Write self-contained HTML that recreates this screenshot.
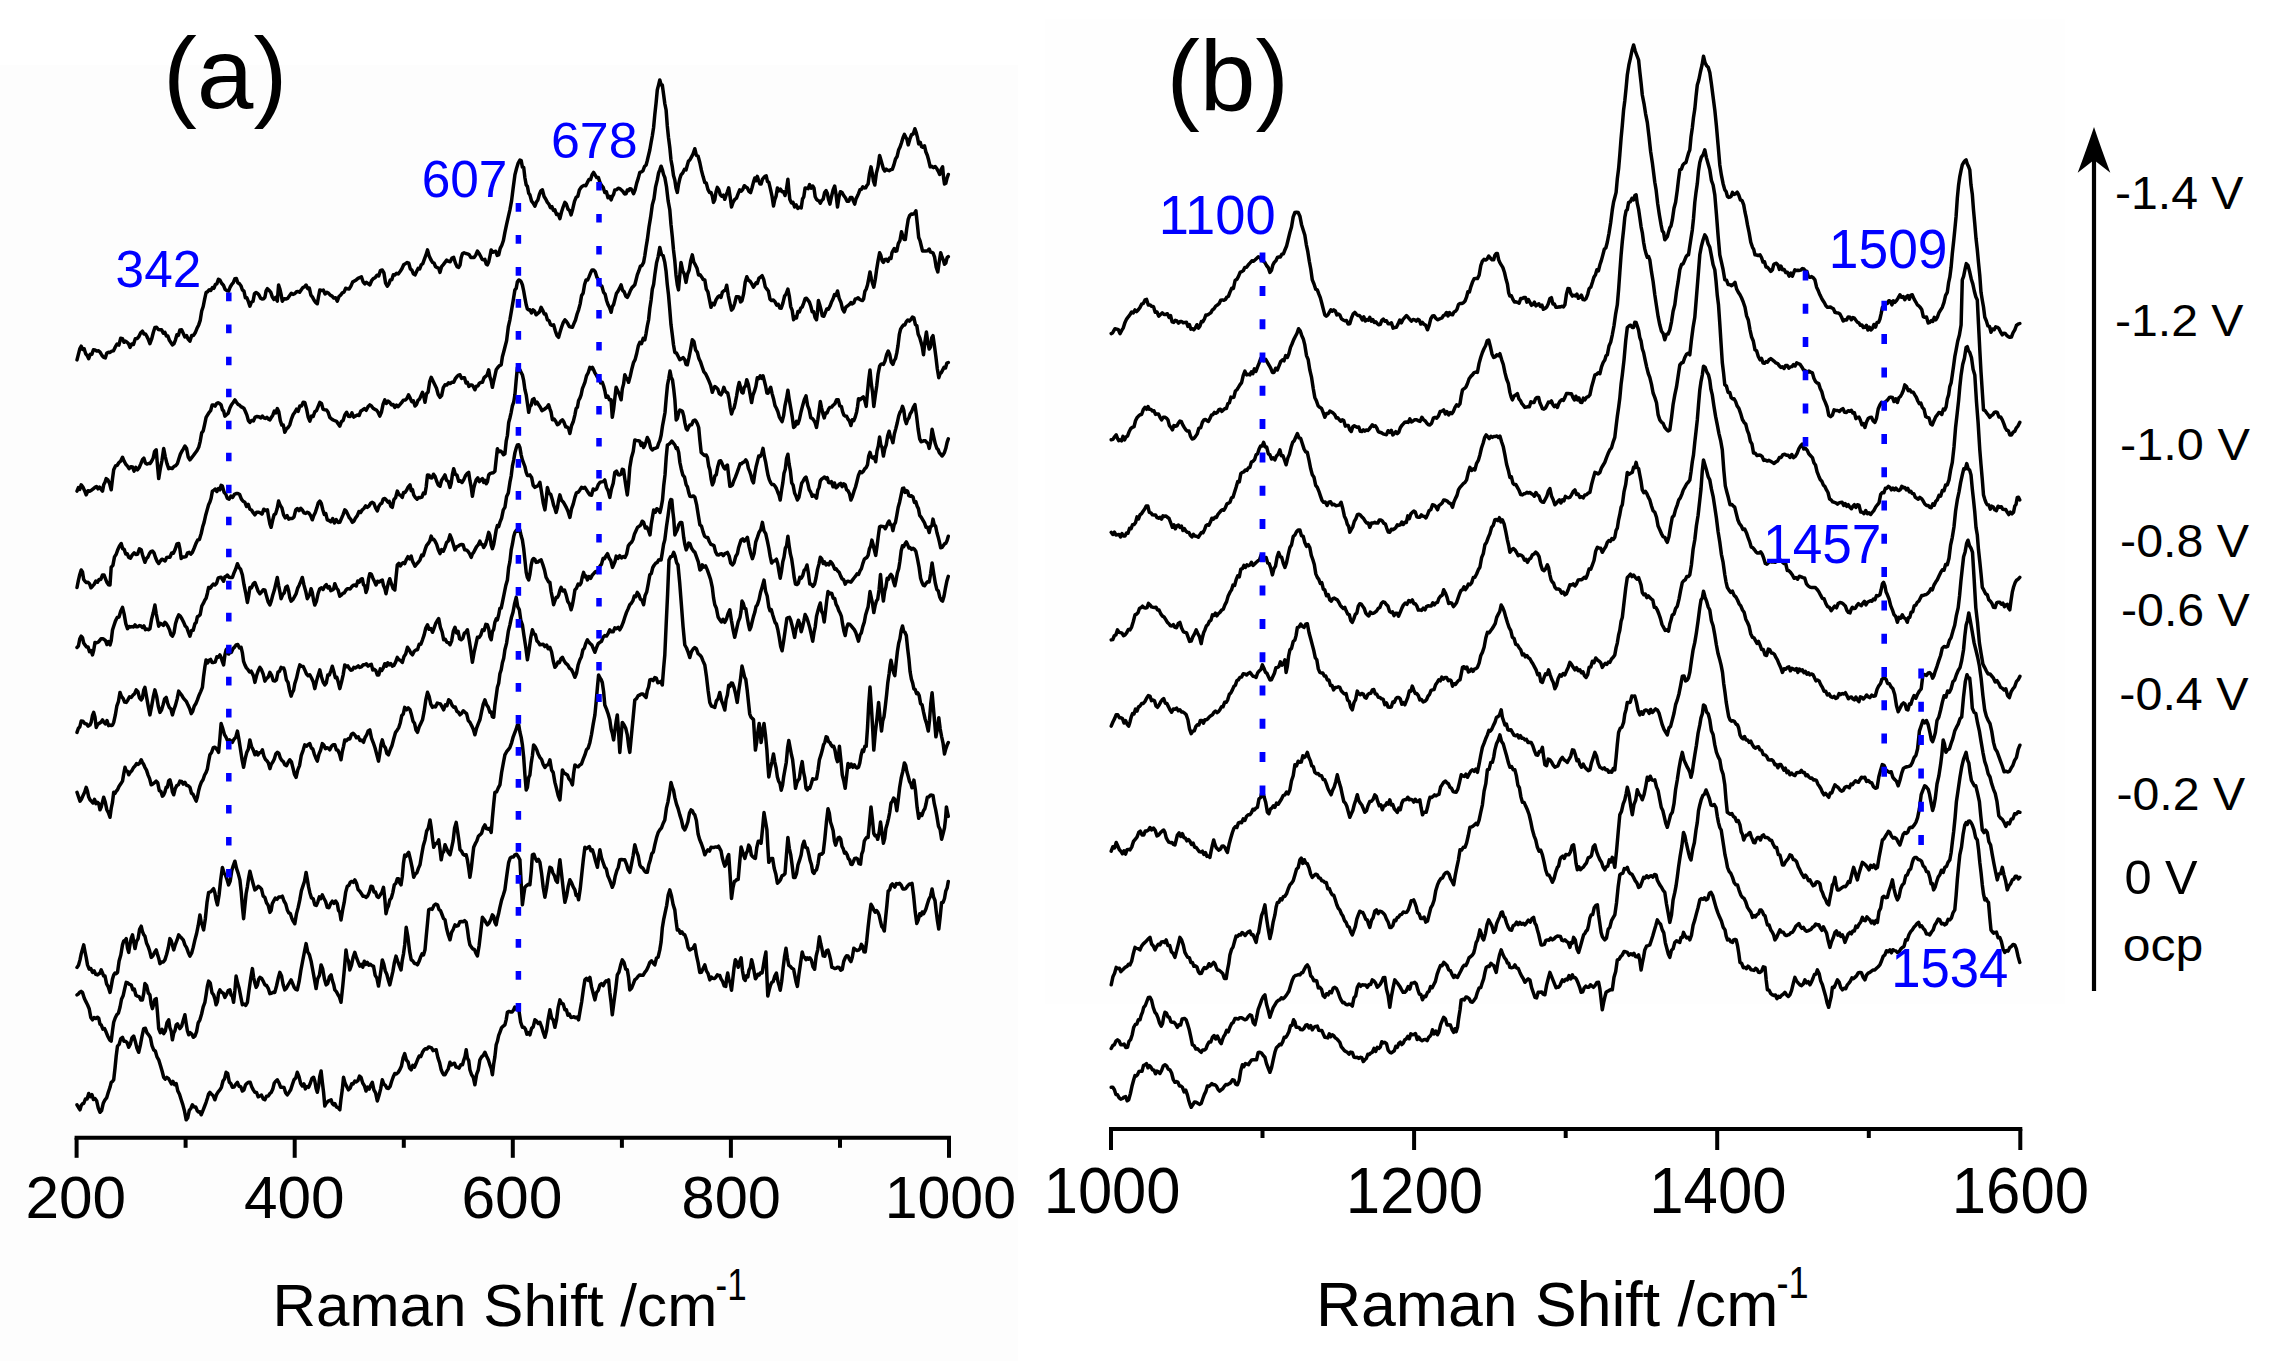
<!DOCTYPE html>
<html><head><meta charset="utf-8"><title>Raman spectra</title>
<style>html,body{margin:0;padding:0;background:#fff;width:2286px;height:1361px;overflow:hidden}svg{display:block}</style>
</head><body>
<svg width="2286" height="1361" viewBox="0 0 2286 1361">
<rect x="0" y="0" width="2286" height="1361" fill="#ffffff"/>
<rect x="0" y="65" width="1018" height="1296" fill="#fdfdfd"/>
<rect x="1045" y="19" width="1020" height="985" fill="#fefefe"/>
<line x1="74.6" y1="1137.8" x2="951" y2="1137.8" stroke="#000" stroke-width="4"/>
<line x1="76.6" y1="1137.8" x2="76.6" y2="1157.8" stroke="#000" stroke-width="4"/>
<line x1="294.7" y1="1137.8" x2="294.7" y2="1157.8" stroke="#000" stroke-width="4"/>
<line x1="512.8" y1="1137.8" x2="512.8" y2="1157.8" stroke="#000" stroke-width="4"/>
<line x1="730.9" y1="1137.8" x2="730.9" y2="1157.8" stroke="#000" stroke-width="4"/>
<line x1="949" y1="1137.8" x2="949" y2="1157.8" stroke="#000" stroke-width="4"/>
<line x1="185.6" y1="1137.8" x2="185.6" y2="1147.8" stroke="#000" stroke-width="4"/>
<line x1="403.8" y1="1137.8" x2="403.8" y2="1147.8" stroke="#000" stroke-width="4"/>
<line x1="621.9" y1="1137.8" x2="621.9" y2="1147.8" stroke="#000" stroke-width="4"/>
<line x1="840" y1="1137.8" x2="840" y2="1147.8" stroke="#000" stroke-width="4"/>
<line x1="1109" y1="1129" x2="2022.3" y2="1129" stroke="#000" stroke-width="4"/>
<line x1="1111" y1="1129" x2="1111" y2="1150" stroke="#000" stroke-width="4"/>
<line x1="1414.1" y1="1129" x2="1414.1" y2="1150" stroke="#000" stroke-width="4"/>
<line x1="1717.2" y1="1129" x2="1717.2" y2="1150" stroke="#000" stroke-width="4"/>
<line x1="2020.3" y1="1129" x2="2020.3" y2="1150" stroke="#000" stroke-width="4"/>
<line x1="1262.5" y1="1129" x2="1262.5" y2="1138" stroke="#000" stroke-width="4"/>
<line x1="1565.7" y1="1129" x2="1565.7" y2="1138" stroke="#000" stroke-width="4"/>
<line x1="1868.8" y1="1129" x2="1868.8" y2="1138" stroke="#000" stroke-width="4"/>
<line x1="2094" y1="155" x2="2094" y2="991" stroke="#000" stroke-width="4.2"/>
<path d="M2094 127 Q2101 148 2110.3 172.8 L2094 160 L2077.7 172.8 Q2087 148 2094 127 Z" fill="#000"/>
<path d="M77.0 359.9 L78.4 354.4 L79.8 348.9 L81.2 346.2 L82.7 349.4 L84.2 348.9 L85.7 353.8 L87.2 355.5 L88.7 358.7 L90.3 354.2 L91.9 354.3 L93.4 349.7 L95.0 349.9 L96.7 351.1 L98.5 350.7 L100.2 352.3 L102.0 355.5 L103.7 357.4 L105.3 357.9 L106.8 353.0 L108.4 352.2 L110.0 352.4 L111.8 351.1 L113.5 350.8 L115.3 346.9 L117.1 344.0 L118.9 345.1 L120.7 338.3 L122.5 338.7 L124.0 342.3 L125.5 341.1 L127.0 342.1 L128.5 343.7 L130.0 347.4 L131.7 344.1 L133.5 344.4 L135.3 338.8 L137.1 338.6 L138.9 336.5 L140.7 332.8 L142.4 331.2 L143.9 333.9 L145.4 333.9 L146.9 336.4 L148.4 339.6 L149.9 343.7 L151.6 339.2 L153.3 332.5 L154.9 327.4 L156.6 327.3 L158.3 329.5 L159.9 329.7 L161.6 329.7 L163.3 333.1 L164.9 332.4 L166.4 336.0 L167.9 336.1 L169.4 340.3 L170.9 342.5 L172.4 344.9 L173.9 343.9 L175.4 340.1 L176.9 334.8 L178.4 335.4 L179.9 329.9 L181.6 329.8 L183.2 333.2 L184.9 336.9 L186.6 335.6 L188.2 339.2 L189.9 341.2 L191.7 335.5 L193.4 335.5 L195.2 332.8 L196.9 328.6 L198.7 324.9 L200.2 320.4 L201.7 311.0 L203.2 306.5 L204.6 299.4 L206.1 292.5 L207.7 291.6 L209.3 289.7 L210.8 290.5 L212.4 287.5 L213.9 288.3 L215.4 284.3 L216.9 283.8 L218.4 279.2 L219.9 280.0 L221.6 283.3 L223.4 285.2 L225.1 289.3 L226.9 290.6 L228.6 291.2 L230.2 287.0 L231.8 284.4 L233.3 282.7 L234.9 278.7 L236.4 278.5 L237.9 283.0 L239.4 283.7 L240.9 285.7 L242.4 290.0 L243.9 290.9 L245.4 297.8 L246.9 297.8 L248.4 301.6 L249.9 306.2 L251.4 302.2 L253.0 301.3 L254.5 293.7 L256.1 292.5 L257.6 293.4 L259.1 295.2 L260.6 298.2 L262.1 299.1 L263.6 298.7 L264.9 297.3 L266.1 290.9 L267.4 288.7 L269.0 290.3 L270.7 292.1 L272.3 296.9 L274.0 299.4 L275.7 297.3 L277.3 301.2 L278.6 285.0 L279.8 288.7 L281.1 294.4 L282.3 301.2 L284.1 298.7 L285.9 299.0 L287.7 298.4 L289.5 295.7 L291.3 293.3 L293.0 294.4 L294.8 293.7 L296.4 291.8 L298.0 291.5 L299.6 292.3 L301.3 289.7 L302.9 287.5 L304.5 286.8 L306.1 285.0 L307.7 288.6 L309.3 288.0 L310.9 295.1 L312.5 297.1 L314.1 300.3 L315.7 302.6 L317.3 303.7 L318.6 296.3 L319.8 290.0 L321.6 290.6 L323.3 290.1 L325.1 294.0 L326.8 292.2 L328.6 293.3 L330.3 295.2 L332.1 296.1 L333.8 298.1 L335.6 297.7 L337.3 301.2 L339.0 296.5 L340.6 295.2 L342.3 292.9 L344.0 292.2 L345.6 288.3 L347.3 288.7 L349.1 289.0 L350.9 286.1 L352.6 282.1 L354.4 281.0 L356.2 279.9 L358.0 278.4 L359.8 277.5 L361.4 276.8 L363.1 281.8 L364.8 283.8 L366.4 282.3 L368.1 283.6 L369.8 285.0 L371.6 280.7 L373.3 278.6 L375.1 277.7 L376.9 275.2 L378.7 276.0 L380.5 270.4 L382.3 270.0 L383.9 272.9 L385.6 283.1 L387.3 286.2 L388.8 284.1 L390.3 279.9 L391.8 279.7 L393.3 274.8 L394.8 275.0 L396.5 273.3 L398.3 273.9 L400.1 271.5 L401.9 268.8 L403.7 264.8 L405.5 263.6 L407.2 262.5 L408.8 263.2 L410.3 268.8 L411.9 270.1 L413.4 273.8 L415.0 274.9 L416.6 271.5 L418.1 268.4 L419.7 269.0 L421.2 264.9 L422.8 263.7 L424.4 259.2 L425.9 255.2 L427.5 249.9 L429.1 255.7 L430.8 259.5 L432.5 262.4 L434.0 263.0 L435.5 266.5 L437.0 267.6 L438.5 267.9 L440.0 272.4 L441.6 266.6 L443.3 264.6 L445.0 262.4 L446.7 260.1 L448.5 261.4 L450.2 261.8 L452.0 258.1 L453.7 257.4 L455.4 263.0 L457.0 266.6 L458.7 267.4 L460.0 265.2 L461.2 257.5 L462.5 253.6 L464.1 252.8 L465.8 253.5 L467.4 253.9 L469.1 254.6 L470.8 257.4 L472.4 257.4 L474.1 257.4 L475.8 255.0 L477.4 251.1 L479.0 253.2 L480.6 256.3 L482.1 259.3 L483.7 259.9 L484.9 259.4 L486.2 264.0 L487.4 264.9 L488.7 262.0 L489.9 256.4 L491.2 249.9 L492.7 252.2 L494.2 251.8 L495.7 251.2 L497.2 255.4 L498.7 254.9 L500.2 248.4 L501.8 245.2 L503.4 240.5 L504.9 232.4 L506.6 224.4 L508.3 216.9 L509.9 209.9 L511.6 200.6 L513.2 187.8 L514.9 174.9 L516.6 168.2 L518.2 163.0 L519.9 160.0 L521.2 160.6 L522.4 167.1 L523.7 167.4 L524.9 177.8 L526.2 184.9 L527.4 186.4 L528.7 193.3 L529.9 194.9 L531.6 201.2 L533.2 203.2 L534.9 206.2 L536.4 202.1 L537.9 199.9 L539.4 194.5 L540.9 190.7 L542.4 189.9 L544.1 196.5 L545.7 199.0 L547.4 202.4 L548.9 204.1 L550.4 207.7 L551.9 206.6 L553.4 210.4 L554.9 209.9 L556.5 214.5 L558.2 214.2 L559.9 218.7 L561.5 212.0 L563.2 206.8 L564.9 202.4 L566.4 204.2 L568.0 209.1 L569.6 210.5 L571.1 214.9 L572.8 208.7 L574.5 201.3 L576.1 197.4 L577.8 196.2 L579.4 190.0 L581.1 187.4 L582.7 186.0 L584.2 185.4 L585.8 185.8 L587.4 182.4 L588.9 179.5 L590.5 179.6 L592.0 175.0 L593.6 172.4 L595.2 175.1 L596.7 177.6 L598.3 177.4 L599.9 182.4 L601.5 185.5 L603.2 187.5 L604.8 192.4 L606.4 191.7 L608.0 197.7 L609.5 196.3 L611.1 199.9 L612.3 196.5 L613.6 194.4 L614.8 189.9 L616.5 189.8 L618.2 188.2 L619.8 188.7 L621.4 190.0 L623.0 191.5 L624.5 193.9 L626.1 193.7 L627.3 190.0 L628.6 190.7 L629.8 188.7 L631.1 189.0 L632.3 190.9 L633.6 193.7 L635.1 189.8 L636.7 183.1 L638.3 178.1 L639.8 172.4 L641.4 171.9 L642.9 170.8 L644.5 166.5 L646.1 165.0 L647.3 160.5 L648.6 155.0 L649.8 150.0 L651.1 142.5 L652.3 136.0 L653.6 127.5 L654.8 114.7 L656.1 102.7 L657.3 90.0 L658.6 84.9 L659.8 80.0 L661.1 84.8 L662.3 85.0 L663.6 94.4 L664.8 103.6 L666.1 110.0 L667.3 126.0 L668.5 137.5 L669.8 147.5 L671.0 160.0 L672.3 166.9 L673.5 175.6 L674.8 179.9 L676.0 188.0 L677.3 192.4 L678.5 184.7 L679.8 178.8 L681.0 174.9 L682.7 173.0 L684.4 169.4 L686.0 169.9 L687.3 165.3 L688.5 161.1 L689.8 160.0 L691.4 157.1 L693.1 153.9 L694.8 148.7 L696.4 155.4 L698.1 156.1 L699.8 162.5 L701.4 170.2 L703.1 176.6 L704.8 182.4 L706.3 183.1 L707.9 189.4 L709.5 192.4 L711.0 192.4 L712.3 196.0 L713.5 202.4 L714.8 199.8 L716.0 191.9 L717.3 187.4 L718.8 189.7 L720.3 194.7 L721.8 196.3 L723.3 195.2 L724.8 199.3 L726.1 195.2 L727.4 191.8 L728.7 187.9 L730.1 196.6 L731.5 207.0 L733.2 202.0 L734.9 199.3 L736.5 198.1 L738.2 193.6 L739.7 189.8 L741.3 191.2 L742.8 189.3 L744.3 185.7 L745.8 186.9 L747.4 187.9 L749.0 191.4 L750.6 192.6 L752.1 187.5 L753.5 182.1 L754.8 178.0 L756.0 180.8 L757.3 176.4 L758.6 180.5 L759.9 184.0 L761.1 184.0 L762.4 179.4 L763.7 177.7 L764.9 176.4 L766.2 175.9 L767.5 181.7 L768.8 182.1 L770.4 188.9 L772.0 196.1 L773.5 206.0 L774.8 199.6 L776.1 196.1 L777.4 187.9 L779.0 190.8 L780.5 189.2 L782.1 191.7 L783.6 191.8 L785.0 195.5 L786.4 189.6 L787.9 179.3 L788.8 189.7 L789.8 199.3 L791.4 202.9 L793.0 202.3 L794.6 207.0 L796.2 204.9 L797.9 208.4 L799.6 207.3 L801.2 207.9 L802.5 199.0 L803.8 196.8 L805.1 187.9 L806.6 188.2 L808.1 188.7 L809.6 184.6 L811.2 188.2 L812.7 186.0 L814.0 188.2 L815.2 196.8 L816.5 199.3 L817.8 200.4 L819.1 201.0 L820.3 203.2 L821.8 200.3 L823.2 199.2 L824.6 192.6 L826.1 190.7 L827.3 193.3 L828.6 199.8 L829.9 204.1 L831.5 196.7 L833.1 190.0 L834.7 186.0 L836.1 194.7 L837.5 207.0 L839.0 197.0 L840.4 191.7 L842.1 192.5 L843.7 195.5 L845.4 197.8 L847.1 201.2 L848.7 201.3 L850.3 197.6 L851.9 197.4 L853.3 200.8 L854.7 204.1 L856.0 198.9 L857.3 196.3 L858.5 193.6 L860.0 189.7 L861.4 189.4 L862.8 186.8 L864.3 187.9 L865.6 187.8 L866.8 185.6 L868.1 184.0 L869.5 173.8 L871.0 166.9 L872.2 172.8 L873.5 181.2 L874.8 185.0 L876.4 173.1 L878.0 166.9 L879.6 155.4 L880.8 159.5 L882.1 164.3 L883.4 168.8 L884.8 171.0 L886.2 169.2 L887.7 170.2 L889.1 170.7 L890.7 169.7 L892.3 169.4 L893.9 164.9 L895.5 159.0 L897.1 156.5 L898.7 149.7 L900.1 146.9 L901.5 142.7 L903.0 137.7 L904.4 134.4 L905.7 137.1 L906.9 139.1 L908.2 144.9 L909.9 138.9 L911.6 134.5 L913.2 134.0 L914.9 128.7 L916.2 132.5 L917.4 137.1 L918.7 143.9 L920.2 142.3 L921.6 146.7 L923.0 147.3 L924.5 145.8 L925.9 152.0 L927.3 155.2 L928.7 160.3 L930.2 166.9 L931.9 166.3 L933.5 167.6 L935.2 166.5 L936.9 168.8 L938.3 171.4 L939.7 174.5 L941.2 169.4 L942.6 166.9 L943.6 177.9 L944.5 184.0 L945.8 183.3 L947.1 177.9 L948.3 174.5" fill="none" stroke="#000" stroke-width="3.5" stroke-linejoin="round" stroke-linecap="round"/>
<path d="M77.0 491.1 L78.4 487.6 L79.8 489.3 L81.2 484.8 L82.9 487.1 L84.6 490.7 L86.2 494.8 L88.0 490.7 L89.7 491.2 L91.5 490.2 L93.2 488.8 L95.0 487.3 L96.5 486.5 L98.0 488.8 L99.5 487.0 L101.0 489.1 L102.5 491.1 L103.7 484.8 L105.0 482.2 L106.2 478.6 L107.9 479.9 L109.6 483.6 L111.2 489.8 L112.5 478.8 L113.7 469.8 L115.5 465.9 L117.2 465.3 L119.0 462.5 L120.7 461.1 L122.5 457.3 L124.1 461.1 L125.8 464.3 L127.5 466.1 L129.1 468.7 L130.8 466.7 L132.5 467.0 L134.1 471.1 L135.8 467.4 L137.4 469.8 L139.1 467.7 L140.8 463.9 L142.4 459.8 L143.9 458.2 L145.4 463.1 L146.9 464.1 L148.4 463.5 L149.9 463.6 L151.5 461.4 L153.1 458.3 L154.6 451.4 L156.2 449.8 L157.4 464.3 L158.7 478.6 L160.3 468.6 L162.0 460.3 L163.7 448.6 L165.3 456.8 L167.0 463.6 L168.7 468.6 L170.4 468.0 L172.2 468.6 L173.9 466.5 L175.7 465.6 L177.4 463.6 L178.9 458.7 L180.4 454.1 L181.9 451.2 L183.4 448.9 L184.9 446.1 L186.6 448.6 L188.2 457.0 L189.9 459.8 L191.7 457.6 L193.4 455.5 L195.2 453.0 L196.9 450.8 L198.7 447.3 L200.2 441.3 L201.7 432.8 L203.2 430.9 L204.6 424.6 L206.1 417.4 L207.6 414.9 L209.1 412.5 L210.6 410.7 L212.1 405.1 L213.6 404.9 L215.1 406.1 L216.6 403.6 L218.1 402.7 L219.6 403.6 L221.1 404.9 L222.4 409.8 L223.6 410.8 L224.9 416.1 L226.5 414.7 L228.2 413.2 L229.9 408.0 L231.5 404.7 L233.2 402.5 L234.9 399.9 L236.4 402.3 L237.9 404.3 L239.4 405.0 L240.9 406.6 L242.4 407.4 L243.9 408.2 L245.4 411.5 L246.9 415.1 L248.4 420.6 L249.9 422.4 L251.6 420.4 L253.4 420.9 L255.2 417.1 L257.0 416.5 L258.8 416.7 L260.6 417.9 L262.4 416.1 L263.9 417.9 L265.4 418.5 L266.9 417.3 L268.4 419.2 L269.9 419.9 L271.3 417.4 L272.8 415.2 L274.3 411.1 L275.8 412.9 L277.3 408.6 L278.8 411.8 L280.3 420.6 L281.8 425.1 L283.3 425.1 L284.8 432.3 L286.5 428.8 L288.2 427.4 L289.8 424.8 L291.5 418.8 L293.2 414.5 L294.8 412.4 L296.5 409.2 L298.2 411.3 L299.8 405.9 L301.5 406.1 L303.2 402.2 L304.8 402.4 L306.5 408.7 L308.2 417.2 L309.8 421.1 L311.5 416.1 L313.2 416.5 L314.8 411.8 L316.5 410.6 L318.1 406.6 L319.8 402.4 L321.5 403.5 L323.1 409.4 L324.8 409.8 L326.5 409.9 L328.1 412.3 L329.8 417.4 L331.5 418.8 L333.1 420.0 L334.8 420.7 L336.5 421.3 L338.1 423.8 L339.8 426.1 L341.5 421.4 L343.1 420.4 L344.8 414.9 L346.6 412.3 L348.4 416.2 L350.1 416.6 L351.9 412.9 L353.7 417.1 L355.5 416.0 L357.3 414.9 L359.1 415.5 L360.9 410.9 L362.6 409.9 L364.4 408.6 L366.2 410.3 L368.0 406.8 L369.8 404.9 L371.4 406.0 L373.1 408.2 L374.8 409.3 L376.4 410.0 L378.1 412.2 L379.8 416.1 L381.4 412.4 L383.1 404.2 L384.8 399.9 L386.4 403.4 L388.1 401.1 L389.8 402.4 L391.4 404.9 L393.1 404.5 L394.8 407.4 L396.5 405.1 L398.2 406.6 L399.9 404.7 L401.6 402.7 L403.3 400.2 L405.1 400.1 L406.8 398.7 L408.5 394.9 L410.1 397.9 L411.7 401.6 L413.4 400.9 L415.0 406.0 L416.5 404.5 L418.0 400.3 L419.5 399.1 L421.0 395.8 L422.5 392.3 L423.7 396.2 L425.0 402.3 L426.5 393.7 L428.1 392.0 L429.7 381.6 L431.2 377.3 L433.0 381.1 L434.7 384.5 L436.5 388.2 L438.2 394.5 L440.0 397.3 L441.6 395.6 L443.3 387.7 L445.0 384.8 L446.7 385.1 L448.5 382.8 L450.2 383.6 L452.0 382.2 L453.7 382.3 L455.3 378.7 L456.8 376.8 L458.4 375.1 L460.0 374.8 L461.5 378.4 L463.0 377.8 L464.5 377.8 L466.0 382.9 L467.4 382.3 L468.9 386.4 L470.4 385.0 L471.9 384.9 L473.4 386.7 L474.9 389.8 L476.4 386.2 L477.9 386.0 L479.4 383.2 L480.9 382.4 L482.4 382.3 L484.0 377.9 L485.6 376.4 L487.1 374.9 L488.7 369.8 L489.9 376.9 L491.2 381.0 L492.4 387.3 L493.7 381.0 L494.9 375.8 L496.2 369.8 L497.8 367.5 L499.5 365.6 L501.2 364.8 L502.4 356.7 L503.7 352.0 L504.9 347.3 L506.6 340.6 L508.3 327.0 L509.9 319.8 L511.6 309.9 L513.2 300.5 L514.9 289.9 L516.2 288.4 L517.4 281.7 L518.7 279.9 L519.9 280.3 L521.2 281.9 L522.4 284.9 L523.7 291.0 L524.9 297.9 L526.2 304.8 L527.4 308.9 L528.7 310.0 L529.9 309.8 L531.5 313.0 L533.0 309.9 L534.6 311.2 L536.1 314.8 L537.8 313.4 L539.5 311.9 L541.1 307.3 L542.7 310.3 L544.3 314.0 L545.8 314.1 L547.4 319.8 L549.0 320.5 L550.5 324.6 L552.1 325.3 L553.6 324.8 L555.3 330.8 L557.0 335.6 L558.6 337.3 L560.2 331.6 L561.8 326.5 L563.3 322.4 L564.9 319.8 L566.4 321.5 L567.9 323.8 L569.4 326.6 L570.9 327.0 L572.4 327.3 L573.9 323.7 L575.5 320.0 L577.1 314.0 L578.6 309.8 L580.1 304.1 L581.6 295.5 L583.1 293.3 L584.6 284.5 L586.1 279.9 L587.6 280.1 L589.1 276.6 L590.6 272.8 L592.1 269.9 L593.6 269.9 L595.3 271.9 L596.9 277.2 L598.6 279.9 L600.3 285.1 L601.9 286.2 L603.6 292.4 L605.1 294.1 L606.6 300.5 L608.1 304.8 L609.6 307.8 L611.1 312.3 L612.3 306.7 L613.6 304.5 L614.8 299.9 L616.4 293.6 L618.0 291.3 L619.5 288.4 L621.1 284.9 L622.6 290.4 L624.2 291.9 L625.8 296.2 L627.3 297.4 L628.9 294.4 L630.5 290.4 L632.0 287.6 L633.6 286.1 L634.8 284.8 L636.1 279.7 L637.3 274.9 L638.9 270.7 L640.4 266.1 L642.0 265.5 L643.6 262.4 L644.8 255.8 L646.1 247.0 L647.3 239.9 L649.0 227.0 L650.6 217.4 L652.3 204.9 L654.0 198.8 L655.6 186.8 L657.3 179.9 L658.6 172.9 L659.8 169.9 L661.1 166.2 L662.3 169.5 L663.6 174.6 L664.8 177.4 L666.5 186.7 L668.1 200.6 L669.8 209.9 L671.0 224.5 L672.3 236.6 L673.5 249.9 L674.8 260.8 L676.0 274.9 L677.3 284.8 L678.5 289.9 L679.8 275.1 L681.0 262.4 L682.7 270.7 L684.4 274.3 L686.0 282.4 L687.6 274.0 L689.2 270.0 L690.7 260.7 L692.3 254.9 L693.8 262.2 L695.4 264.9 L697.0 268.2 L698.5 274.9 L700.1 274.7 L701.6 276.9 L703.2 279.5 L704.8 279.9 L706.3 289.1 L707.9 291.8 L709.5 299.9 L711.0 307.3 L712.7 303.4 L714.3 304.8 L716.0 299.9 L717.7 297.2 L719.3 295.9 L721.0 297.4 L722.4 292.0 L723.9 290.8 L725.3 290.4 L726.7 285.3 L728.3 295.6 L729.9 303.1 L731.5 310.1 L733.1 308.3 L734.7 303.5 L736.3 296.8 L737.7 296.8 L739.2 297.0 L740.6 301.9 L742.0 300.6 L743.6 293.9 L745.2 282.2 L746.8 276.7 L748.5 280.2 L750.1 281.3 L751.8 283.9 L753.5 287.2 L754.8 285.1 L756.0 282.9 L757.3 283.4 L758.9 278.2 L760.5 277.1 L762.1 275.7 L763.7 279.4 L765.3 287.0 L766.9 289.1 L768.4 291.0 L770.0 299.2 L771.6 300.6 L773.3 300.0 L775.0 301.7 L776.6 305.1 L778.3 304.4 L779.8 308.0 L781.2 308.2 L782.9 303.1 L784.5 296.3 L786.2 293.7 L787.9 289.1 L789.3 296.1 L790.7 306.6 L792.2 310.4 L793.6 319.7 L795.0 317.1 L796.5 317.9 L797.9 311.5 L799.3 312.0 L800.8 308.2 L802.2 307.0 L803.6 303.4 L805.1 298.7 L806.5 298.2 L807.9 300.1 L809.4 302.1 L810.8 306.3 L812.2 311.8 L813.7 311.7 L815.1 317.6 L816.5 319.7 L817.5 312.2 L818.4 300.6 L819.7 304.8 L821.0 309.6 L822.3 315.9 L823.8 316.3 L825.3 312.6 L826.8 308.9 L828.4 309.3 L829.9 306.3 L831.4 302.3 L833.0 299.0 L834.5 294.6 L836.0 295.4 L837.5 291.0 L839.2 298.4 L840.9 302.2 L842.6 309.1 L844.2 312.0 L845.9 307.2 L847.6 305.9 L849.2 304.7 L850.9 302.5 L852.3 303.9 L853.8 302.9 L855.2 299.0 L856.6 298.7 L858.1 297.8 L859.5 299.3 L860.9 300.1 L862.4 300.6 L863.6 299.0 L864.9 291.3 L866.2 289.1 L867.5 285.0 L868.7 278.9 L870.0 271.9 L871.3 278.7 L872.6 283.5 L873.8 287.2 L875.3 279.2 L876.7 269.1 L878.1 260.5 L879.6 252.8 L880.8 255.3 L882.1 260.7 L883.4 262.4 L884.9 259.4 L886.4 259.3 L888.0 261.4 L889.5 258.0 L891.0 258.5 L892.0 252.5 L892.9 250.9 L894.2 248.5 L895.5 251.2 L896.8 250.9 L898.3 243.6 L899.9 240.7 L901.5 231.8 L902.8 236.3 L904.1 239.4 L905.3 239.4 L906.8 228.2 L908.2 219.4 L909.7 215.5 L911.3 213.9 L912.8 214.2 L914.3 213.6 L915.9 210.8 L917.3 223.9 L918.7 237.5 L920.0 240.6 L921.3 246.0 L922.5 250.9 L924.2 251.1 L925.9 250.9 L927.6 250.8 L929.2 249.0 L930.5 252.1 L931.8 252.4 L933.0 252.8 L934.6 257.2 L936.2 267.3 L937.8 271.9 L939.3 261.3 L940.7 252.8 L942.0 257.0 L943.2 259.8 L944.5 264.3 L945.8 263.0 L947.1 257.6 L948.3 256.6" fill="none" stroke="#000" stroke-width="3.5" stroke-linejoin="round" stroke-linecap="round"/>
<path d="M77.0 587.5 L78.4 580.3 L79.8 574.5 L81.2 570.0 L82.5 571.9 L83.7 579.5 L85.0 581.2 L86.5 582.6 L88.0 582.3 L89.5 583.7 L91.0 587.8 L92.5 586.2 L94.1 584.4 L95.8 581.1 L97.5 582.2 L99.1 579.5 L100.8 579.4 L102.5 575.0 L104.0 574.9 L105.5 578.8 L107.0 582.6 L108.5 584.7 L110.0 585.0 L111.2 567.2 L112.9 565.4 L114.5 556.9 L116.2 554.3 L117.9 549.4 L119.5 545.9 L121.2 543.5 L122.7 548.7 L124.2 549.4 L125.7 554.0 L127.2 553.8 L128.7 557.3 L130.5 558.1 L132.3 554.8 L134.1 552.8 L135.8 554.4 L137.6 554.2 L139.4 548.8 L141.2 549.8 L142.4 554.4 L143.7 558.7 L144.9 562.3 L146.4 558.5 L147.9 557.1 L149.4 553.6 L150.9 551.7 L152.4 551.0 L154.0 552.9 L155.6 557.8 L157.1 561.2 L158.7 563.5 L160.3 561.1 L161.9 559.2 L163.5 559.9 L165.1 560.9 L166.7 557.4 L168.3 557.2 L169.9 557.3 L171.7 553.0 L173.4 553.3 L175.2 549.3 L176.9 544.0 L178.7 543.5 L179.9 548.9 L181.2 558.5 L182.8 557.1 L184.4 557.0 L186.0 556.6 L187.6 552.8 L189.2 552.3 L190.8 554.2 L192.4 552.3 L194.2 548.0 L195.9 543.6 L197.7 540.0 L199.4 539.6 L201.2 533.5 L202.7 526.8 L204.1 522.4 L205.6 515.5 L207.1 510.1 L208.6 504.8 L209.9 502.1 L211.1 498.2 L212.4 491.1 L213.9 490.1 L215.4 489.0 L216.9 491.5 L218.4 488.5 L219.9 489.8 L221.1 485.4 L222.4 486.1 L224.1 492.3 L225.7 494.0 L227.4 498.5 L229.1 499.2 L230.9 496.1 L232.6 497.5 L234.4 494.3 L236.1 493.6 L237.9 493.5 L239.6 494.5 L241.4 499.1 L243.1 501.3 L244.9 502.3 L246.5 506.5 L248.2 504.3 L249.9 509.2 L251.5 510.0 L253.2 512.7 L254.9 514.8 L256.6 512.2 L258.4 512.2 L260.2 512.8 L262.0 514.1 L263.8 509.2 L265.6 510.5 L267.4 509.8 L268.6 517.2 L269.9 523.9 L271.1 527.3 L272.6 520.5 L274.1 514.8 L275.6 513.8 L277.1 508.8 L278.6 501.0 L280.3 505.5 L281.9 507.9 L283.6 514.8 L285.3 517.8 L287.1 515.7 L288.8 519.1 L290.6 518.4 L292.3 518.5 L294.0 516.9 L295.7 510.1 L297.3 508.5 L299.0 510.7 L300.7 508.3 L302.3 509.9 L304.0 512.8 L305.7 513.4 L307.3 512.3 L309.0 513.1 L310.7 515.8 L312.3 519.8 L313.8 515.5 L315.3 512.4 L316.8 507.9 L318.3 502.8 L319.8 501.0 L321.3 503.5 L322.8 509.7 L324.3 514.4 L325.8 513.6 L327.3 519.8 L329.1 520.5 L330.9 521.8 L332.7 518.5 L334.4 523.0 L336.2 519.6 L338.0 522.4 L339.8 522.3 L341.5 518.4 L343.1 514.6 L344.8 509.8 L346.3 511.3 L347.8 514.4 L349.3 517.7 L350.8 519.4 L352.3 522.3 L354.0 521.0 L355.6 517.8 L357.3 515.7 L358.9 511.5 L360.6 512.5 L362.3 509.8 L363.9 508.5 L365.6 505.9 L367.3 507.4 L368.9 506.2 L370.6 503.3 L372.3 502.3 L373.9 503.5 L375.6 508.0 L377.3 511.0 L378.8 506.5 L380.3 504.1 L381.8 503.2 L383.3 498.9 L384.8 498.5 L386.3 500.0 L387.8 502.1 L389.3 501.4 L390.8 506.3 L392.3 507.3 L393.9 499.7 L395.6 497.7 L397.3 491.1 L398.9 494.6 L400.6 495.3 L402.3 497.3 L403.6 492.5 L405.0 492.4 L406.7 490.0 L408.3 486.8 L410.0 484.9 L411.2 490.6 L412.5 489.7 L413.7 494.9 L415.4 497.6 L417.1 499.2 L418.7 497.4 L420.3 497.7 L421.9 497.2 L423.4 493.0 L425.0 493.7 L426.2 486.8 L427.5 474.9 L429.0 475.2 L430.5 477.8 L432.0 477.9 L433.5 474.2 L435.0 476.2 L436.6 481.0 L438.3 485.1 L440.0 486.2 L441.6 480.2 L443.3 477.9 L445.0 474.9 L446.6 480.4 L448.3 481.5 L450.0 487.4 L451.2 483.3 L452.5 473.8 L453.7 468.7 L455.4 474.5 L457.0 475.2 L458.7 481.2 L460.4 480.8 L462.0 482.5 L463.7 479.9 L465.4 475.9 L467.0 473.7 L468.7 472.4 L469.9 480.4 L471.2 487.3 L472.4 496.2 L473.7 488.4 L474.9 483.7 L476.2 479.9 L477.8 477.9 L479.3 481.6 L480.9 479.9 L482.4 478.7 L483.7 482.4 L484.9 480.3 L486.2 483.7 L487.4 481.8 L488.7 475.0 L489.9 473.7 L491.6 473.0 L493.3 472.7 L494.9 471.2 L496.2 459.2 L497.4 448.7 L498.9 451.7 L500.4 451.0 L501.9 452.1 L503.4 454.7 L504.9 453.7 L506.2 441.2 L507.4 435.5 L508.7 422.5 L509.9 418.0 L511.2 412.3 L512.4 405.9 L513.7 402.2 L514.9 394.8 L516.2 379.8 L517.4 367.3 L518.7 371.1 L519.9 369.8 L521.2 372.7 L522.4 374.8 L523.7 380.7 L524.9 389.5 L526.2 394.8 L527.4 403.2 L528.7 412.3 L529.9 406.4 L531.2 405.2 L532.4 399.8 L534.0 398.7 L535.5 403.9 L537.1 402.2 L538.6 404.8 L540.3 407.2 L542.0 410.6 L543.6 409.8 L545.3 408.5 L547.0 407.3 L548.6 404.8 L549.9 408.8 L551.1 412.2 L552.4 419.8 L554.1 419.0 L555.7 421.3 L557.4 424.8 L559.0 423.7 L560.7 421.1 L562.4 419.8 L564.0 422.3 L565.7 426.8 L567.4 427.3 L568.6 428.5 L569.9 433.5 L571.5 425.8 L573.2 421.8 L574.9 414.8 L576.1 408.5 L577.4 407.3 L578.6 400.5 L579.9 398.2 L581.1 394.8 L582.4 388.6 L583.6 385.7 L584.9 382.3 L586.5 375.9 L588.2 372.7 L589.9 367.3 L591.1 368.6 L592.4 367.4 L593.6 369.8 L594.9 372.9 L596.1 374.7 L597.4 377.3 L599.0 377.1 L600.7 382.9 L602.3 382.3 L603.6 386.0 L604.8 390.5 L606.1 397.3 L607.8 396.0 L609.4 399.7 L611.1 399.8 L612.3 417.3 L613.6 409.2 L614.8 398.7 L616.1 387.3 L617.8 390.9 L619.4 394.4 L621.1 399.8 L622.3 388.9 L623.6 383.9 L624.8 374.8 L626.1 377.6 L627.3 379.0 L628.6 382.3 L630.2 376.4 L631.9 368.7 L633.6 362.3 L635.1 359.6 L636.7 353.5 L638.3 346.0 L639.8 342.3 L641.5 343.6 L643.2 338.3 L644.8 339.8 L646.1 333.3 L647.3 326.0 L648.6 319.8 L649.8 308.5 L651.1 299.9 L652.3 289.2 L653.6 284.6 L654.8 274.9 L656.5 263.2 L658.1 256.8 L659.8 247.4 L661.5 254.7 L663.1 255.5 L664.8 262.4 L666.1 271.6 L667.3 284.6 L668.5 294.9 L669.8 309.9 L671.0 324.8 L672.3 334.7 L673.5 344.8 L674.8 352.3 L676.5 353.1 L678.1 356.3 L679.8 359.8 L681.5 358.8 L683.1 357.5 L684.8 359.8 L686.0 364.3 L687.3 364.8 L688.9 357.9 L690.6 349.3 L692.3 339.8 L693.9 341.4 L695.6 349.9 L697.3 352.3 L698.9 358.6 L700.6 362.1 L702.3 367.3 L703.9 371.9 L705.6 373.7 L707.3 377.3 L708.9 380.9 L710.6 385.2 L712.3 392.3 L713.5 389.2 L714.8 386.6 L716.0 387.3 L717.7 388.9 L719.3 393.6 L721.0 394.8 L722.4 392.1 L723.9 387.3 L725.2 391.0 L726.4 392.2 L727.7 393.0 L729.0 398.8 L730.2 407.3 L731.5 414.0 L732.8 409.9 L734.1 407.9 L735.3 402.6 L736.6 396.0 L737.9 388.0 L739.2 382.5 L740.4 386.8 L741.7 392.0 L743.0 393.0 L744.3 387.1 L745.5 386.1 L746.8 379.7 L748.4 384.8 L750.0 393.7 L751.6 402.6 L753.0 395.0 L754.4 391.4 L755.9 386.3 L757.3 377.8 L758.7 378.6 L760.2 375.9 L761.6 378.3 L763.0 375.8 L764.3 380.7 L765.6 386.0 L766.9 393.0 L768.1 393.2 L769.4 389.9 L770.7 387.3 L772.1 393.6 L773.5 398.7 L775.0 405.6 L776.4 408.3 L777.8 411.5 L779.3 416.8 L780.7 419.4 L782.1 421.7 L783.6 415.7 L785.0 405.6 L786.4 399.2 L787.9 390.2 L789.3 399.9 L790.7 407.8 L792.2 416.6 L793.6 427.4 L795.0 426.1 L796.5 421.4 L797.9 423.8 L799.3 419.8 L801.0 412.0 L802.7 405.4 L804.3 399.8 L806.0 395.9 L807.6 405.5 L809.2 409.7 L810.8 417.9 L812.2 418.4 L813.7 420.2 L815.1 422.7 L816.5 427.4 L817.8 419.8 L819.1 410.9 L820.3 401.6 L821.6 408.1 L822.9 413.7 L824.2 417.9 L825.6 413.0 L827.0 413.1 L828.5 409.3 L829.9 407.4 L831.6 407.1 L833.2 405.2 L834.9 403.7 L836.6 399.7 L838.2 399.7 L839.8 406.1 L841.4 406.4 L842.6 411.7 L843.9 415.1 L845.2 416.0 L846.6 416.3 L848.0 419.2 L849.5 421.1 L850.9 425.5 L852.3 419.7 L853.8 420.6 L855.2 417.1 L856.6 412.1 L857.6 406.2 L858.5 398.8 L860.1 399.8 L861.7 398.2 L863.3 396.9 L864.8 400.5 L866.2 406.4 L867.5 392.2 L868.7 380.1 L870.0 370.1 L871.3 383.6 L872.6 392.8 L873.8 406.4 L875.3 395.4 L876.7 386.0 L878.1 373.8 L879.6 366.3 L880.8 364.4 L882.1 363.9 L883.4 364.4 L885.0 361.0 L886.6 354.8 L888.2 351.0 L889.7 354.5 L891.3 362.3 L892.9 364.4 L894.2 360.6 L895.5 358.6 L896.8 352.9 L898.0 345.6 L899.3 334.7 L900.6 329.2 L902.0 326.9 L903.4 325.1 L904.9 324.9 L906.3 321.6 L907.8 320.0 L909.4 321.1 L910.9 319.5 L912.4 317.1 L913.9 317.8 L915.4 324.6 L916.8 325.6 L918.2 334.3 L919.7 337.6 L920.9 341.7 L922.2 346.5 L923.5 354.8 L924.9 341.8 L926.4 331.9 L927.8 341.9 L929.2 349.1 L930.5 347.1 L931.8 337.6 L933.0 335.7 L934.5 346.2 L935.9 356.7 L937.3 368.8 L938.8 377.8 L940.1 373.6 L941.3 372.6 L942.6 370.1 L944.0 367.4 L945.5 368.0 L946.9 363.1 L948.3 362.5" fill="none" stroke="#000" stroke-width="3.5" stroke-linejoin="round" stroke-linecap="round"/>
<path d="M77.0 647.4 L78.4 646.0 L79.8 638.8 L81.2 636.2 L82.5 637.6 L83.7 643.0 L85.0 644.9 L86.5 646.9 L88.0 646.9 L89.5 651.6 L91.0 650.7 L92.5 654.9 L93.7 650.2 L95.0 642.4 L96.5 642.7 L98.0 642.4 L99.5 640.8 L101.0 638.7 L102.5 638.7 L104.0 639.4 L105.5 640.6 L107.0 644.5 L108.5 641.5 L110.0 644.9 L111.2 640.7 L112.5 630.0 L113.7 626.2 L115.5 620.9 L117.2 617.5 L119.0 617.0 L120.7 611.2 L122.5 607.4 L124.1 613.9 L125.8 623.6 L127.5 628.7 L129.0 626.5 L130.5 627.0 L132.0 626.6 L133.5 627.0 L135.0 624.9 L136.5 626.8 L137.9 626.7 L139.4 625.6 L140.9 626.0 L142.4 627.4 L143.9 625.9 L145.4 629.7 L146.9 629.0 L148.4 629.7 L149.9 628.7 L151.6 619.1 L153.3 612.5 L154.9 605.0 L156.2 613.5 L157.4 619.5 L158.7 626.2 L160.2 623.3 L161.8 624.1 L163.4 625.4 L164.9 622.4 L166.4 623.8 L167.9 626.3 L169.4 629.6 L170.9 634.5 L172.4 636.2 L174.0 632.7 L175.5 623.8 L177.1 618.5 L178.7 614.9 L180.3 616.1 L182.0 619.0 L183.7 622.4 L185.2 626.0 L186.8 627.5 L188.3 631.8 L189.9 636.2 L191.6 630.4 L193.2 630.3 L194.9 623.7 L196.2 622.4 L197.4 616.6 L198.7 616.2 L200.2 614.5 L201.8 606.0 L203.3 603.4 L204.9 600.0 L206.1 598.3 L207.4 593.2 L208.6 587.5 L210.2 588.1 L211.8 585.9 L213.3 584.0 L214.9 585.0 L216.6 583.2 L218.2 577.9 L219.9 577.5 L221.1 577.2 L222.4 579.4 L223.6 581.2 L224.9 576.7 L226.1 576.5 L227.4 575.0 L229.0 577.3 L230.7 577.6 L232.4 577.5 L234.0 572.9 L235.7 569.0 L237.4 563.7 L239.0 567.3 L240.7 569.4 L242.4 575.0 L244.0 584.7 L245.7 592.8 L247.4 602.5 L248.6 596.2 L249.9 587.5 L251.5 587.9 L253.2 583.8 L254.9 582.5 L256.5 586.6 L258.2 591.3 L259.9 593.7 L261.5 592.1 L263.2 589.8 L264.9 590.0 L266.5 596.1 L268.2 601.9 L269.9 605.0 L271.3 600.9 L272.8 595.0 L274.3 590.3 L275.8 583.9 L277.3 577.5 L278.6 585.3 L279.8 591.4 L281.1 598.7 L282.7 594.6 L284.2 593.1 L285.8 587.2 L287.3 586.2 L288.6 590.8 L289.8 597.7 L291.1 601.2 L292.7 599.8 L294.4 596.9 L296.1 593.7 L297.6 588.4 L299.2 585.2 L300.8 581.3 L302.3 577.5 L304.0 585.2 L305.7 591.2 L307.3 598.7 L308.6 596.3 L309.8 594.3 L311.1 588.7 L312.3 592.5 L313.6 600.3 L314.8 605.0 L316.5 601.0 L318.1 593.5 L319.8 588.7 L321.5 587.8 L323.1 589.5 L324.8 586.2 L326.3 584.6 L327.8 587.9 L329.3 586.7 L330.8 590.7 L332.3 590.0 L333.6 589.1 L334.8 583.7 L336.5 588.0 L338.1 590.0 L339.8 596.2 L341.3 595.1 L342.8 593.4 L344.3 592.8 L345.8 590.3 L347.3 588.7 L348.8 588.7 L350.3 588.9 L351.8 586.6 L353.3 585.2 L354.8 585.0 L356.3 586.0 L357.8 581.0 L359.3 582.2 L360.8 579.4 L362.3 578.7 L363.5 584.7 L364.8 585.9 L366.0 592.5 L367.3 588.7 L368.5 579.2 L369.8 573.7 L371.3 574.2 L372.9 578.2 L374.5 581.6 L376.0 585.0 L377.6 581.2 L379.1 582.0 L380.7 580.8 L382.3 580.0 L383.5 585.6 L384.8 588.4 L386.0 593.7 L387.3 587.5 L388.5 582.3 L389.8 578.7 L391.4 583.7 L393.1 588.5 L394.8 590.0 L396.0 577.6 L397.3 565.0 L398.8 563.3 L400.3 566.0 L401.8 563.7 L403.3 562.5 L404.7 563.7 L406.2 559.9 L407.9 556.7 L409.6 558.8 L411.2 556.1 L412.5 561.1 L413.7 563.5 L415.0 566.1 L416.7 563.9 L418.3 562.3 L420.0 559.9 L421.7 555.1 L423.3 555.6 L425.0 549.9 L426.5 545.7 L428.1 543.7 L429.7 541.2 L431.2 536.1 L432.5 539.5 L433.7 539.3 L435.0 541.1 L436.6 544.2 L438.3 549.7 L440.0 553.6 L441.6 549.6 L443.3 551.2 L445.0 547.4 L446.6 542.5 L448.3 540.9 L450.0 534.9 L451.6 538.7 L453.3 544.2 L455.0 549.9 L456.6 546.9 L458.3 546.2 L460.0 544.9 L461.5 544.5 L463.1 544.8 L464.6 549.8 L466.2 549.9 L467.9 551.2 L469.5 553.6 L471.2 557.4 L472.4 553.9 L473.7 552.3 L474.9 549.9 L476.6 546.6 L478.3 544.8 L479.9 541.1 L481.2 544.1 L482.4 544.6 L483.7 547.4 L485.4 544.6 L487.0 539.2 L488.7 532.4 L489.9 535.5 L491.2 544.9 L492.4 548.6 L493.7 544.5 L494.9 537.6 L496.2 529.9 L497.4 525.5 L498.7 526.6 L499.9 522.4 L501.6 518.1 L503.3 509.9 L504.9 507.4 L506.6 496.6 L508.3 493.1 L509.9 482.4 L511.2 475.8 L512.4 466.1 L513.7 460.0 L514.9 452.9 L516.2 448.1 L517.4 445.0 L518.7 444.8 L519.9 447.5 L521.2 455.1 L522.4 460.0 L523.7 463.3 L524.9 466.5 L526.2 472.4 L527.4 475.4 L528.7 475.6 L529.9 474.9 L531.6 477.4 L533.2 485.3 L534.9 487.4 L536.6 486.3 L538.2 485.6 L539.9 482.4 L541.6 492.5 L543.2 502.8 L544.9 509.9 L546.1 500.2 L547.4 487.4 L549.1 493.4 L550.7 494.2 L552.4 499.9 L553.6 505.1 L554.9 508.4 L556.1 512.4 L557.4 507.8 L558.6 500.4 L559.9 494.9 L561.5 500.2 L563.2 501.9 L564.9 504.9 L566.5 507.9 L568.2 511.9 L569.9 517.4 L571.5 508.9 L573.2 504.1 L574.9 497.4 L576.5 492.6 L578.2 492.3 L579.9 489.9 L581.5 487.3 L583.2 488.2 L584.9 487.4 L586.5 489.9 L588.2 492.6 L589.9 494.9 L591.5 495.2 L593.2 489.0 L594.9 489.9 L596.5 489.2 L598.2 484.8 L599.9 482.4 L601.5 481.9 L603.2 481.6 L604.8 479.9 L606.5 487.5 L608.2 490.9 L609.8 497.4 L611.5 488.7 L613.2 483.2 L614.8 472.4 L616.5 471.1 L618.2 474.8 L619.8 474.9 L621.1 474.0 L622.3 469.2 L623.6 469.9 L624.8 478.8 L626.1 487.6 L627.3 494.9 L628.6 483.4 L629.8 467.4 L631.5 457.4 L633.2 451.6 L634.8 440.0 L636.5 440.4 L638.2 440.7 L639.8 441.2 L641.1 445.4 L642.3 443.0 L643.6 447.5 L644.8 445.3 L646.1 441.5 L647.3 437.5 L649.0 440.8 L650.6 447.7 L652.3 450.0 L654.0 448.4 L655.6 448.2 L657.3 447.5 L658.6 443.4 L659.9 440.5 L661.2 435.0 L662.5 426.0 L663.7 419.6 L665.0 412.5 L666.2 398.3 L667.5 385.0 L668.8 378.3 L670.0 371.0 L671.2 377.2 L672.5 380.0 L673.7 388.9 L674.9 400.0 L676.2 420.0 L677.4 418.4 L678.7 412.8 L679.9 410.0 L681.2 410.6 L682.4 411.2 L683.7 415.9 L684.9 422.9 L686.2 428.7 L687.4 429.9 L688.7 427.0 L689.9 425.0 L691.6 424.8 L693.3 420.8 L694.9 420.0 L696.2 421.5 L697.4 423.9 L698.7 427.5 L699.9 440.4 L701.2 452.5 L702.8 454.0 L704.5 455.6 L706.2 455.0 L707.4 457.6 L708.7 466.1 L709.9 469.9 L711.2 479.4 L712.4 484.9 L713.7 481.8 L714.9 475.9 L716.2 474.9 L717.7 467.0 L719.3 461.2 L720.7 460.7 L722.2 463.8 L723.7 467.4 L724.9 468.8 L726.2 466.3 L727.4 465.0 L728.7 476.4 L729.9 486.2 L731.2 486.0 L732.4 485.0 L733.6 481.2 L735.3 477.4 L736.9 473.1 L738.5 468.7 L740.1 463.7 L741.5 463.8 L743.0 462.3 L744.4 461.8 L745.8 459.9 L747.1 462.2 L748.4 468.4 L749.7 471.4 L750.9 475.0 L752.2 480.4 L753.5 482.8 L754.8 473.7 L756.0 467.2 L757.3 461.8 L758.7 456.1 L760.2 456.5 L761.6 453.9 L763.0 448.4 L764.3 456.2 L765.6 461.8 L766.9 469.4 L768.1 475.6 L769.4 479.9 L770.7 482.8 L772.1 484.6 L773.5 484.4 L775.0 486.1 L776.4 488.5 L777.7 492.0 L779.0 495.2 L780.2 500.0 L781.5 490.7 L782.8 482.9 L784.0 473.3 L785.3 469.2 L786.6 458.2 L787.9 454.2 L789.1 464.1 L790.4 470.9 L791.7 482.8 L793.1 485.1 L794.6 493.0 L796.0 496.1 L797.4 500.0 L798.9 497.4 L800.3 490.2 L801.7 483.2 L803.2 480.9 L804.6 478.4 L806.0 477.1 L807.6 482.7 L809.2 489.6 L810.8 492.4 L812.2 496.3 L813.7 495.1 L815.1 496.2 L816.5 498.1 L817.8 490.3 L819.1 487.4 L820.3 480.9 L821.8 478.9 L823.2 478.1 L824.6 477.0 L826.1 479.0 L827.3 477.7 L828.6 482.5 L829.9 482.8 L831.4 481.6 L833.0 486.8 L834.5 483.0 L836.0 487.8 L837.5 486.6 L839.1 484.3 L840.6 483.4 L842.1 486.6 L843.6 483.8 L845.2 484.7 L846.6 489.8 L848.0 490.7 L849.5 493.8 L850.9 500.0 L852.4 496.5 L854.0 491.2 L855.5 487.0 L857.0 481.3 L858.5 475.2 L860.1 471.5 L861.6 472.8 L863.1 471.7 L864.7 468.9 L866.2 467.5 L867.5 464.7 L868.7 456.1 L870.0 452.3 L871.4 457.1 L872.9 458.2 L874.3 456.9 L875.7 461.8 L877.0 451.0 L878.3 446.0 L879.6 437.0 L880.8 445.0 L882.1 447.5 L883.4 456.1 L884.8 448.9 L886.2 444.9 L887.7 435.7 L889.1 431.2 L890.4 436.9 L891.7 438.8 L892.9 442.7 L894.4 433.7 L895.8 428.6 L897.2 423.0 L898.7 416.0 L899.9 412.5 L901.2 410.5 L902.5 406.4 L903.8 410.3 L905.0 419.4 L906.3 423.6 L907.6 419.7 L908.9 418.0 L910.1 414.0 L911.7 411.5 L913.3 407.3 L914.9 404.5 L916.5 415.4 L918.1 428.9 L919.7 438.9 L921.1 441.7 L922.5 441.3 L924.0 440.7 L925.4 440.8 L926.7 442.3 L928.0 443.6 L929.2 448.4 L930.7 441.3 L932.1 429.3 L933.7 436.8 L935.3 443.8 L936.9 448.4 L938.1 449.5 L939.4 452.8 L940.7 454.2 L942.0 456.0 L943.2 454.6 L944.5 452.3 L945.8 448.3 L947.1 442.3 L948.3 438.9" fill="none" stroke="#000" stroke-width="3.5" stroke-linejoin="round" stroke-linecap="round"/>
<path d="M77.0 732.4 L78.4 728.2 L79.8 726.9 L81.2 721.1 L83.0 721.2 L84.7 723.6 L86.5 723.9 L88.2 726.2 L90.0 724.9 L91.2 722.3 L92.5 715.4 L93.7 712.4 L95.0 717.3 L96.2 727.4 L97.8 724.3 L99.4 723.2 L100.9 722.2 L102.5 719.9 L104.0 722.5 L105.5 723.9 L107.0 720.5 L108.5 725.6 L110.0 724.9 L111.2 725.6 L112.5 725.1 L113.7 722.4 L115.3 715.2 L116.8 706.2 L118.4 701.7 L120.0 692.4 L121.5 696.5 L123.1 698.3 L124.6 702.0 L126.2 702.4 L127.9 699.9 L129.5 696.9 L131.2 697.4 L132.9 695.2 L134.5 693.9 L136.2 689.9 L137.9 691.7 L139.5 697.9 L141.2 699.9 L142.4 698.0 L143.7 690.2 L144.9 687.4 L146.6 697.1 L148.3 706.6 L149.9 714.9 L151.6 706.4 L153.3 696.7 L154.9 689.9 L156.6 696.1 L158.3 706.2 L159.9 712.4 L161.5 710.1 L163.1 704.7 L164.6 699.0 L166.2 697.4 L167.7 703.3 L169.3 707.5 L170.9 709.1 L172.4 714.9 L174.0 709.3 L175.5 705.1 L177.1 699.1 L178.7 691.1 L180.2 693.4 L181.8 695.4 L183.4 698.2 L184.9 699.9 L186.5 701.7 L188.0 705.1 L189.6 708.5 L191.2 713.6 L192.7 711.2 L194.3 706.0 L195.8 703.7 L197.4 699.9 L199.1 695.2 L200.7 691.6 L202.4 687.4 L203.6 676.4 L204.9 666.7 L206.1 659.9 L207.6 663.0 L209.1 660.3 L210.6 659.4 L212.1 662.6 L213.6 662.4 L215.2 662.0 L216.8 656.9 L218.3 657.3 L219.9 654.9 L221.1 657.4 L222.4 661.7 L223.6 664.9 L224.9 654.9 L226.1 649.9 L227.4 648.3 L228.6 654.1 L229.9 652.4 L231.4 652.4 L233.0 648.6 L234.6 647.1 L236.1 644.9 L237.8 644.5 L239.5 648.0 L241.1 647.4 L242.4 652.9 L243.6 661.4 L244.9 664.9 L246.4 667.9 L248.0 669.7 L249.6 672.0 L251.1 671.2 L252.4 673.6 L253.6 676.2 L254.9 682.4 L256.5 675.8 L258.2 670.7 L259.9 667.4 L261.5 669.8 L263.2 674.2 L264.9 681.1 L266.5 678.5 L268.2 677.2 L269.9 672.4 L271.5 675.1 L273.2 680.6 L274.8 681.1 L276.4 679.8 L278.0 672.0 L279.5 671.3 L281.1 667.4 L282.3 668.1 L283.6 667.9 L284.8 671.2 L286.4 679.8 L288.0 682.4 L289.5 690.2 L291.1 696.1 L292.3 692.7 L293.6 690.2 L294.8 683.6 L296.5 678.3 L298.2 670.6 L299.8 664.9 L301.5 666.3 L303.2 666.5 L304.8 669.9 L306.5 674.0 L308.2 675.8 L309.8 674.9 L311.5 678.0 L313.2 681.7 L314.8 688.6 L316.5 681.1 L318.1 675.4 L319.8 669.9 L321.5 677.0 L323.1 682.0 L324.8 684.9 L326.3 682.9 L327.8 675.0 L329.3 675.1 L330.8 671.0 L332.3 666.2 L333.8 671.4 L335.3 677.7 L336.8 677.3 L338.3 682.3 L339.8 688.6 L341.5 682.1 L343.1 675.1 L344.8 664.9 L346.3 666.8 L347.8 665.9 L349.3 668.4 L350.8 670.2 L352.3 669.9 L353.8 667.4 L355.3 668.0 L356.8 667.1 L358.3 665.9 L359.8 667.4 L361.4 666.9 L363.1 664.8 L364.8 664.8 L366.4 663.9 L368.1 666.2 L369.8 664.9 L371.3 664.4 L372.8 670.0 L374.3 669.3 L375.8 670.5 L377.3 674.9 L378.8 674.9 L380.3 668.9 L381.8 670.4 L383.3 667.8 L384.8 663.7 L386.3 666.2 L387.8 662.8 L389.3 664.9 L390.8 663.6 L392.3 666.2 L393.9 665.5 L395.6 662.1 L397.3 657.4 L398.9 659.7 L400.6 660.5 L402.3 662.4 L404.0 656.5 L405.7 654.0 L407.5 647.3 L409.2 649.7 L410.8 653.0 L412.5 654.8 L414.2 651.3 L415.8 650.0 L417.5 649.8 L419.2 644.2 L420.8 644.3 L422.5 639.8 L424.1 635.1 L425.8 628.0 L427.5 624.8 L429.1 629.3 L430.8 628.6 L432.5 632.3 L434.0 628.4 L435.6 623.7 L437.2 620.8 L438.7 618.6 L440.4 627.4 L442.1 631.9 L443.7 639.8 L445.3 639.3 L446.8 642.3 L448.4 642.6 L450.0 644.8 L451.6 641.1 L453.3 631.2 L455.0 627.3 L456.5 632.9 L458.1 631.3 L459.6 638.8 L461.2 639.8 L462.8 638.2 L464.3 633.3 L465.9 632.2 L467.4 629.8 L469.1 639.5 L470.8 650.2 L472.4 662.3 L474.1 652.4 L475.8 644.9 L477.4 637.3 L479.1 637.4 L480.8 634.9 L482.4 629.8 L484.1 630.4 L485.8 624.4 L487.4 624.8 L488.7 628.7 L489.9 636.9 L491.2 639.8 L492.4 631.7 L493.7 629.3 L494.9 622.3 L496.2 618.8 L497.4 619.8 L498.7 614.8 L499.9 608.2 L501.2 608.1 L502.4 602.3 L504.1 594.0 L505.8 585.5 L507.4 579.9 L508.7 567.3 L509.9 561.6 L511.2 549.9 L512.4 544.2 L513.7 536.6 L514.9 532.4 L516.2 530.4 L517.4 531.2 L518.7 527.4 L519.9 530.1 L521.2 536.1 L522.4 539.9 L523.7 548.8 L524.9 559.9 L526.2 572.4 L527.4 577.5 L528.7 579.9 L529.9 574.3 L531.2 565.0 L532.4 559.9 L533.6 558.5 L534.9 559.4 L536.1 562.4 L537.8 562.1 L539.5 560.7 L541.1 559.9 L542.8 564.5 L544.5 570.0 L546.1 577.4 L547.4 579.6 L548.6 581.8 L549.9 582.4 L551.1 591.5 L552.4 597.8 L553.6 604.8 L554.9 600.8 L556.1 597.6 L557.4 597.4 L558.6 595.2 L559.9 590.2 L561.1 587.4 L562.8 591.0 L564.5 590.0 L566.1 594.9 L567.8 601.5 L569.5 604.0 L571.1 609.8 L572.4 605.0 L573.6 598.4 L574.9 589.9 L576.5 588.2 L578.2 584.0 L579.9 584.9 L581.1 582.8 L582.4 576.4 L583.6 572.4 L584.9 576.8 L586.1 576.2 L587.4 579.9 L589.0 576.6 L590.7 578.3 L592.4 574.9 L594.0 573.3 L595.7 571.5 L597.4 572.4 L598.7 568.6 L600.0 566.1 L601.5 564.1 L603.0 558.6 L604.5 558.7 L606.0 555.9 L607.5 553.6 L609.2 558.3 L610.8 560.8 L612.5 567.4 L613.7 564.7 L615.0 561.5 L616.2 556.1 L618.0 558.3 L619.7 555.7 L621.5 558.0 L623.2 556.5 L625.0 557.4 L626.6 554.1 L628.3 545.9 L630.0 543.6 L631.5 542.3 L633.0 539.5 L634.5 533.9 L636.0 530.7 L637.5 527.4 L639.0 526.3 L640.6 525.1 L642.2 521.2 L643.7 522.4 L645.3 528.0 L646.8 527.2 L648.4 530.1 L650.0 534.9 L651.2 524.5 L652.5 516.9 L653.7 509.9 L655.3 512.2 L656.8 508.7 L658.4 509.7 L660.0 512.4 L661.2 507.2 L662.5 499.9 L663.7 485.8 L665.0 474.9 L666.2 457.4 L667.4 445.0 L668.9 444.2 L670.4 442.9 L671.8 441.2 L673.4 443.2 L674.9 445.0 L676.2 448.5 L677.4 447.9 L678.7 452.5 L679.9 462.5 L681.2 468.7 L682.9 475.2 L684.5 477.2 L686.2 484.9 L687.4 486.7 L688.7 492.4 L689.9 496.2 L691.6 496.6 L693.3 495.9 L694.9 497.4 L696.6 504.6 L698.3 515.3 L699.9 524.9 L701.5 526.1 L703.0 531.6 L704.6 536.2 L706.2 537.4 L707.7 537.4 L709.3 541.5 L710.9 544.3 L712.4 544.9 L714.0 545.6 L715.5 551.6 L717.1 554.7 L718.7 554.9 L720.2 554.0 L721.8 553.8 L723.3 555.7 L724.9 553.6 L726.2 553.1 L727.4 552.4 L729.1 556.0 L730.7 563.0 L732.4 564.9 L734.1 562.6 L735.7 556.5 L737.4 553.6 L738.6 547.7 L739.9 543.6 L741.1 539.9 L742.7 538.9 L744.3 541.1 L745.8 539.6 L747.4 537.4 L749.1 546.6 L750.7 553.2 L752.4 558.6 L754.1 553.4 L755.7 542.2 L757.4 537.4 L759.0 532.5 L760.7 529.8 L762.4 522.4 L764.0 530.9 L765.7 533.6 L767.4 541.1 L768.8 548.0 L770.2 556.4 L771.6 563.0 L773.2 561.1 L774.8 560.7 L776.4 559.2 L777.7 563.4 L779.0 571.6 L780.2 578.3 L781.5 571.3 L782.8 561.8 L784.0 557.3 L785.3 548.4 L786.6 545.8 L787.9 536.3 L789.1 545.4 L790.4 553.9 L791.7 559.2 L793.0 568.2 L794.2 577.4 L795.5 584.1 L796.9 584.6 L798.4 583.2 L799.8 577.3 L801.2 578.3 L802.7 575.7 L804.1 570.4 L805.5 569.2 L807.0 565.0 L808.4 573.3 L809.8 584.1 L811.4 584.3 L813.0 586.3 L814.6 584.1 L816.0 578.0 L817.5 569.4 L818.9 564.1 L820.3 557.3 L821.8 558.9 L823.2 563.5 L824.6 561.9 L826.1 565.0 L827.5 563.5 L828.9 564.8 L830.4 561.6 L831.8 563.0 L833.2 565.4 L834.7 569.2 L836.1 568.8 L837.5 570.7 L839.1 572.2 L840.6 575.9 L842.1 578.9 L843.6 579.6 L845.2 584.1 L846.6 581.6 L848.0 581.2 L849.5 581.6 L850.9 582.1 L852.4 580.1 L854.0 578.0 L855.5 576.2 L857.0 573.9 L858.5 574.5 L860.0 570.9 L861.4 568.6 L862.8 563.6 L864.3 559.2 L865.6 558.3 L866.8 557.5 L868.1 555.4 L869.4 548.8 L870.6 546.3 L871.9 540.1 L873.2 545.0 L874.5 550.6 L875.7 555.4 L877.0 546.4 L878.3 536.1 L879.6 526.8 L881.0 526.2 L882.4 526.4 L883.9 526.7 L885.3 528.7 L886.6 526.2 L887.8 523.0 L889.1 521.0 L890.4 524.7 L891.7 524.9 L892.9 530.6 L894.2 524.7 L895.5 522.3 L896.8 515.3 L898.2 507.2 L899.6 502.2 L901.1 495.2 L902.5 488.5 L903.8 488.1 L905.0 492.4 L906.3 490.5 L907.6 491.3 L908.9 495.7 L910.1 496.2 L911.6 495.8 L913.0 496.8 L914.4 502.4 L915.9 501.9 L917.1 506.1 L918.4 508.6 L919.7 515.3 L921.3 517.3 L922.9 520.1 L924.5 522.9 L926.0 527.3 L927.6 527.3 L929.2 532.5 L930.5 526.6 L931.8 526.0 L933.0 519.1 L934.3 524.8 L935.6 526.2 L936.9 532.5 L938.1 536.7 L939.4 541.9 L940.7 547.8 L942.0 547.4 L943.2 545.8 L944.5 543.9 L945.8 543.2 L947.1 540.5 L948.3 536.3" fill="none" stroke="#000" stroke-width="3.5" stroke-linejoin="round" stroke-linecap="round"/>
<path d="M77.0 792.3 L78.5 796.8 L80.0 801.1 L81.6 798.9 L83.1 795.4 L84.7 792.1 L86.2 787.3 L87.5 791.3 L88.7 797.1 L90.0 799.8 L91.5 801.4 L93.0 803.0 L94.5 799.4 L96.0 803.7 L97.5 802.3 L98.7 803.5 L100.0 809.8 L101.2 807.0 L102.5 801.9 L103.7 797.3 L105.3 802.3 L106.8 809.7 L108.4 812.7 L110.0 817.3 L111.2 808.5 L112.5 802.1 L113.7 792.3 L115.0 793.4 L116.2 791.2 L117.5 789.8 L119.1 786.3 L120.8 783.7 L122.5 781.1 L123.7 774.0 L125.0 767.3 L126.2 771.0 L127.5 771.2 L128.7 774.8 L130.3 772.1 L131.8 770.7 L133.4 767.7 L135.0 766.1 L136.5 763.6 L138.1 764.5 L139.6 763.2 L141.2 759.8 L142.4 762.3 L143.7 764.5 L144.9 767.3 L146.5 770.1 L148.1 775.1 L149.6 778.6 L151.2 784.8 L152.9 784.0 L154.5 782.7 L156.2 781.1 L157.7 782.7 L159.3 790.7 L160.9 791.4 L162.4 796.1 L163.7 794.9 L164.9 792.0 L166.2 787.3 L167.4 787.2 L168.7 780.8 L169.9 779.8 L171.2 784.4 L172.4 791.9 L173.7 794.8 L175.2 788.8 L176.8 785.6 L178.4 784.8 L179.9 781.1 L181.6 781.5 L183.2 784.1 L184.9 782.3 L186.6 785.4 L188.2 785.8 L189.9 787.3 L191.5 793.3 L193.0 794.3 L194.6 797.7 L196.2 801.1 L197.4 797.0 L198.7 790.5 L199.9 786.1 L201.5 781.9 L203.0 779.7 L204.6 775.0 L206.1 772.3 L207.4 768.8 L208.6 761.6 L209.9 754.8 L211.6 752.5 L213.2 747.8 L214.9 747.3 L216.1 748.4 L217.4 750.2 L218.6 752.3 L219.9 738.3 L221.1 723.6 L222.8 728.6 L224.5 734.7 L226.1 737.4 L227.7 741.0 L229.3 739.8 L230.8 740.8 L232.4 742.3 L234.0 739.2 L235.7 737.4 L237.4 731.1 L238.9 739.3 L240.5 749.4 L242.1 759.9 L243.6 767.3 L245.2 758.7 L246.7 752.6 L248.3 749.2 L249.9 739.9 L251.5 746.5 L253.2 749.9 L254.9 754.8 L256.4 751.8 L257.9 754.9 L259.4 752.8 L260.9 752.5 L262.4 749.8 L263.9 756.1 L265.4 759.4 L266.9 760.7 L268.4 763.0 L269.9 768.6 L271.3 764.2 L272.8 762.1 L274.3 758.9 L275.8 754.0 L277.3 752.3 L278.8 753.2 L280.3 758.0 L281.8 760.4 L283.3 761.6 L284.8 764.8 L286.5 765.7 L288.2 762.2 L289.8 759.8 L291.4 761.8 L293.0 768.1 L294.5 774.4 L296.1 777.3 L297.8 769.8 L299.6 765.3 L301.3 755.3 L303.1 750.3 L304.8 744.8 L306.5 746.2 L308.2 744.5 L309.8 743.6 L311.3 748.0 L312.8 749.0 L314.3 754.1 L315.8 757.9 L317.3 761.1 L319.0 754.0 L320.6 750.2 L322.3 743.6 L323.8 745.0 L325.3 748.7 L326.8 747.7 L328.3 748.1 L329.8 749.8 L331.5 746.2 L333.1 744.7 L334.8 744.8 L336.4 749.9 L337.9 750.3 L339.5 754.0 L341.0 759.8 L342.3 751.5 L343.5 746.6 L344.8 739.9 L346.5 740.7 L348.1 738.8 L349.8 738.9 L351.5 734.2 L353.1 733.2 L354.8 734.9 L356.5 737.8 L358.3 736.9 L360.0 740.5 L361.8 740.1 L363.5 742.3 L365.1 737.5 L366.7 734.9 L368.2 730.9 L369.8 729.9 L371.5 738.2 L373.3 742.8 L375.0 747.8 L376.8 754.6 L378.5 761.1 L379.8 753.4 L381.0 744.6 L382.3 739.9 L383.8 745.6 L385.4 747.8 L386.9 753.5 L388.5 754.8 L390.3 749.5 L392.0 745.5 L393.8 738.5 L395.5 732.5 L397.3 729.9 L398.8 727.6 L400.3 722.7 L401.8 715.4 L403.3 713.9 L404.7 707.4 L406.5 709.8 L408.2 707.9 L410.0 709.8 L411.5 714.8 L413.0 721.2 L414.5 723.2 L416.0 730.1 L417.5 732.3 L419.2 726.8 L420.8 723.4 L422.5 719.8 L424.1 711.7 L425.8 700.0 L427.5 692.3 L429.1 696.3 L430.8 704.2 L432.5 707.3 L434.0 706.3 L435.6 706.9 L437.2 703.1 L438.7 703.5 L440.4 703.9 L442.1 706.9 L443.7 709.8 L445.4 704.8 L447.0 705.6 L448.7 699.8 L450.4 701.2 L452.0 705.1 L453.7 707.3 L455.3 707.1 L456.8 711.2 L458.4 712.3 L460.0 714.8 L461.6 713.4 L463.3 710.8 L465.0 712.3 L466.6 713.6 L468.3 720.6 L469.9 722.3 L471.6 725.6 L473.3 729.3 L474.9 734.7 L476.6 728.1 L478.3 723.6 L479.9 719.8 L481.6 711.7 L483.3 704.0 L484.9 699.8 L486.6 704.8 L488.3 707.3 L489.9 712.3 L491.2 712.1 L492.4 716.7 L493.7 717.3 L494.9 705.2 L496.2 696.1 L497.4 687.3 L498.7 683.2 L499.9 673.7 L501.2 669.8 L502.4 662.8 L503.7 658.2 L504.9 649.8 L506.6 643.1 L508.3 631.4 L509.9 624.8 L511.5 617.2 L513.0 612.2 L514.6 603.6 L516.2 597.4 L517.7 606.6 L519.3 609.6 L520.8 620.3 L522.4 624.8 L524.1 636.5 L525.7 646.7 L527.4 659.8 L529.1 649.6 L530.7 637.9 L532.4 629.8 L533.9 633.9 L535.4 634.6 L536.9 640.9 L538.4 642.3 L539.9 644.8 L541.6 644.5 L543.2 644.3 L544.9 646.6 L546.6 645.0 L548.2 648.8 L549.9 647.3 L551.6 652.0 L553.2 660.7 L554.9 667.3 L556.4 665.5 L557.9 662.1 L559.4 662.7 L560.9 658.7 L562.4 657.3 L564.2 661.0 L565.9 663.4 L567.7 664.9 L569.5 668.2 L571.3 669.4 L573.1 672.8 L574.9 677.3 L576.5 673.3 L578.2 664.7 L579.9 659.8 L581.4 656.7 L582.9 649.8 L584.4 648.1 L585.9 643.1 L587.4 639.8 L588.9 642.3 L590.4 643.8 L591.9 645.1 L593.4 648.8 L594.9 652.3 L596.5 647.6 L598.2 643.7 L599.9 642.3 L601.5 641.4 L603.2 637.0 L604.8 635.6 L606.5 636.1 L608.2 633.3 L609.8 629.8 L611.5 631.8 L613.2 631.7 L614.8 627.9 L616.5 628.7 L618.2 627.4 L619.8 629.8 L621.5 626.6 L623.2 622.4 L624.8 617.3 L626.5 612.4 L628.2 608.6 L629.8 604.8 L631.3 603.2 L632.8 600.9 L634.3 596.0 L635.8 596.7 L637.3 592.4 L638.9 594.7 L640.4 599.3 L642.0 600.1 L643.6 604.8 L645.1 595.4 L646.7 592.0 L648.3 583.6 L649.8 574.9 L651.3 573.5 L652.8 567.5 L654.3 565.0 L655.8 563.1 L657.3 562.4 L658.6 560.0 L659.8 559.7 L661.1 559.9 L662.3 552.6 L663.6 544.2 L664.8 539.9 L666.5 526.4 L668.1 515.6 L669.8 502.4 L670.8 499.5 L671.8 499.9 L672.8 511.1 L673.7 518.7 L674.9 534.9 L676.2 531.9 L677.4 529.4 L678.7 524.9 L680.3 522.4 L681.8 522.4 L682.8 529.6 L683.7 537.4 L684.9 544.6 L686.2 549.9 L687.4 547.0 L688.7 543.1 L689.9 543.6 L691.6 548.3 L693.3 550.9 L694.9 552.4 L696.6 557.1 L698.3 561.8 L699.9 570.0 L701.1 569.3 L702.3 564.9 L703.9 567.1 L705.6 565.9 L707.3 569.9 L708.9 574.4 L710.6 579.5 L712.3 587.4 L713.5 597.6 L714.8 604.8 L716.4 608.3 L718.1 617.0 L719.8 619.8 L721.4 622.0 L723.1 619.3 L724.8 622.3 L726.4 619.2 L728.1 613.5 L729.8 609.8 L731.4 620.3 L733.1 629.9 L734.7 637.3 L736.5 629.5 L738.2 621.9 L740.0 617.3 L741.0 611.6 L742.0 601.1 L743.3 603.3 L744.6 608.5 L745.8 608.8 L747.1 616.8 L748.4 624.0 L749.7 629.8 L750.9 627.0 L752.2 621.5 L753.5 616.4 L754.8 612.3 L756.0 606.5 L757.3 604.9 L759.0 599.8 L760.6 592.2 L762.3 586.4 L764.0 580.1 L765.6 591.3 L767.2 596.0 L768.8 606.9 L770.0 610.8 L771.3 609.6 L772.6 614.5 L773.9 618.7 L775.1 622.5 L776.4 624.0 L777.8 629.5 L779.3 637.7 L780.7 646.5 L782.1 650.8 L783.7 640.7 L785.3 629.4 L786.9 618.3 L788.2 617.7 L789.5 617.3 L790.7 620.2 L792.0 625.2 L793.3 631.2 L794.6 637.4 L795.8 630.1 L797.1 625.0 L798.4 620.2 L799.8 624.1 L801.2 631.7 L802.5 627.0 L803.8 621.1 L805.1 614.5 L806.7 617.6 L808.2 622.1 L809.8 627.9 L811.3 634.6 L812.7 641.2 L814.0 632.7 L815.2 627.0 L816.5 616.4 L817.8 611.2 L819.1 606.5 L820.3 603.0 L821.6 611.4 L822.9 613.9 L824.2 622.1 L825.4 612.3 L826.7 600.9 L828.0 591.6 L829.3 593.9 L830.5 593.1 L831.8 593.5 L833.2 598.2 L834.7 598.5 L836.1 604.4 L837.5 606.9 L838.8 610.6 L840.1 613.0 L841.4 616.4 L842.6 624.2 L843.9 630.9 L845.2 635.5 L846.6 627.8 L848.0 624.0 L849.6 624.2 L851.2 625.9 L852.8 627.9 L854.3 629.7 L855.7 632.3 L857.1 636.8 L858.5 641.2 L860.0 634.9 L861.4 632.7 L862.8 626.6 L864.3 622.1 L865.6 615.0 L866.8 611.0 L868.1 606.9 L869.1 599.1 L870.0 591.6 L871.3 597.9 L872.6 603.9 L873.8 612.6 L875.1 605.9 L876.4 601.1 L877.7 599.2 L879.1 589.4 L880.5 574.4 L881.9 589.1 L883.4 601.1 L884.7 591.3 L885.9 587.0 L887.2 578.2 L888.5 579.4 L889.7 576.0 L891.0 574.4 L892.3 576.2 L893.6 582.0 L894.8 585.8 L896.1 579.8 L897.4 572.8 L898.7 568.7 L899.9 561.2 L901.2 550.8 L902.5 545.7 L903.8 546.6 L905.0 543.9 L906.3 541.9 L907.6 544.5 L908.9 548.0 L910.1 547.6 L911.6 549.4 L913.0 548.3 L914.4 549.2 L915.9 551.5 L917.4 558.5 L919.0 566.8 L920.6 578.2 L921.9 582.2 L923.2 585.1 L924.5 585.8 L926.0 583.5 L927.6 581.7 L929.2 582.0 L930.7 573.2 L932.1 562.9 L933.7 573.6 L935.3 583.0 L936.9 589.7 L938.3 590.8 L939.7 596.9 L941.2 600.0 L942.6 601.1 L944.0 596.2 L945.5 587.8 L946.9 580.9 L948.3 576.3" fill="none" stroke="#000" stroke-width="3.5" stroke-linejoin="round" stroke-linecap="round"/>
<path d="M77.0 967.4 L78.5 965.3 L80.0 959.9 L81.2 953.9 L82.5 949.2 L83.7 944.9 L85.0 951.8 L86.2 957.5 L87.5 964.9 L89.2 969.1 L90.8 968.5 L92.5 972.4 L94.1 970.8 L95.8 974.4 L97.5 974.9 L98.7 973.9 L100.0 973.2 L101.2 969.9 L102.5 973.0 L103.7 976.1 L105.0 976.1 L106.6 983.8 L108.3 986.9 L110.0 992.4 L111.2 986.5 L112.5 978.9 L113.7 974.9 L115.0 973.0 L116.2 973.6 L117.5 972.4 L119.1 961.0 L120.8 955.0 L122.5 944.9 L123.7 941.1 L125.0 940.4 L126.2 938.6 L127.5 948.0 L128.7 952.4 L130.0 944.4 L131.2 938.3 L132.5 934.9 L133.7 941.5 L135.0 948.6 L136.5 941.4 L138.1 938.6 L139.6 929.2 L141.2 926.2 L142.4 931.3 L143.7 934.7 L144.9 936.1 L146.5 942.9 L148.1 946.4 L149.6 950.9 L151.2 957.4 L152.9 955.7 L154.5 952.5 L156.2 949.9 L157.4 954.1 L158.7 958.2 L159.9 963.6 L161.6 962.1 L163.3 962.0 L164.9 959.9 L166.6 954.5 L168.3 947.8 L169.9 938.6 L171.2 940.6 L172.4 945.1 L173.7 949.9 L175.3 944.6 L177.0 940.2 L178.7 934.9 L180.2 936.6 L181.8 938.3 L183.4 940.2 L184.9 944.9 L186.6 947.7 L188.2 952.2 L189.9 956.1 L191.6 953.2 L193.2 947.4 L194.9 939.9 L196.6 933.5 L198.2 925.7 L199.9 914.9 L201.2 922.3 L202.4 925.5 L203.6 929.9 L205.3 919.0 L207.0 902.6 L208.6 892.4 L210.3 892.1 L212.0 890.5 L213.6 888.7 L214.9 893.0 L216.1 899.9 L217.4 904.9 L219.1 894.8 L220.7 879.8 L222.4 867.4 L223.9 872.6 L225.5 875.1 L227.1 879.8 L228.6 884.9 L230.2 881.0 L231.8 870.6 L233.3 865.5 L234.9 861.2 L236.5 868.4 L238.2 873.4 L239.9 879.9 L241.1 890.7 L242.4 906.6 L243.6 918.7 L244.9 905.5 L246.1 893.7 L247.4 886.6 L248.6 878.3 L249.9 871.2 L251.5 877.6 L253.2 884.0 L254.9 889.9 L256.5 888.6 L258.2 886.3 L259.9 887.4 L261.5 889.1 L263.2 896.1 L264.9 897.4 L266.5 902.7 L268.2 905.4 L269.9 912.4 L271.1 910.6 L272.3 903.6 L273.6 901.2 L275.3 898.1 L277.1 899.3 L278.8 896.9 L280.6 897.1 L282.3 896.2 L284.0 901.0 L285.7 903.9 L287.3 909.9 L288.8 913.0 L290.3 913.4 L291.8 918.2 L293.3 921.4 L294.8 923.7 L296.5 913.6 L298.2 907.4 L299.8 899.9 L301.4 890.8 L303.0 885.9 L304.5 881.2 L306.1 872.4 L307.3 879.4 L308.6 886.9 L309.8 892.4 L311.5 897.9 L313.2 898.8 L314.8 904.9 L316.3 905.5 L317.8 902.1 L319.3 896.9 L320.8 898.6 L322.3 894.9 L324.0 898.5 L325.6 901.5 L327.3 907.4 L329.0 907.7 L330.6 903.6 L332.3 901.2 L334.0 903.4 L335.6 901.0 L337.3 903.7 L338.5 910.5 L339.8 912.2 L341.0 919.9 L342.6 910.1 L344.2 902.4 L345.7 892.1 L347.3 886.2 L348.8 885.4 L350.3 882.2 L351.8 881.4 L353.3 882.3 L354.8 879.9 L356.5 883.3 L358.1 889.5 L359.8 891.2 L361.3 893.4 L362.9 896.2 L364.5 896.2 L366.0 897.4 L367.7 895.9 L369.4 891.9 L371.0 886.2 L372.5 886.7 L374.0 892.0 L375.5 892.1 L377.0 896.5 L378.5 897.4 L380.2 895.0 L381.8 892.5 L383.5 887.4 L384.8 898.6 L386.0 913.7 L387.3 908.4 L388.5 905.7 L389.8 899.9 L391.3 898.0 L392.8 892.6 L394.3 884.8 L395.8 883.5 L397.3 878.7 L398.5 878.7 L399.8 883.1 L401.0 884.9 L402.3 876.5 L403.5 862.9 L404.7 855.0 L406.1 856.3 L407.4 854.1 L408.7 852.3 L410.4 859.4 L412.1 867.4 L413.7 877.3 L415.3 873.9 L416.9 872.8 L418.4 868.4 L420.0 864.8 L421.7 854.5 L423.3 845.7 L425.0 839.9 L426.6 831.2 L428.3 828.1 L430.0 819.9 L431.2 827.4 L432.5 838.5 L433.7 847.3 L435.4 843.8 L437.1 843.3 L438.7 839.9 L440.0 849.2 L441.2 859.8 L442.5 853.0 L443.7 851.8 L445.0 844.8 L446.6 848.4 L448.3 852.5 L450.0 854.8 L451.5 848.3 L453.1 840.9 L454.6 828.0 L456.2 822.4 L457.5 830.7 L458.7 838.9 L460.0 849.8 L461.5 851.1 L463.1 854.3 L464.6 855.2 L466.2 854.8 L467.4 859.9 L468.7 868.2 L469.9 877.3 L471.2 869.0 L472.4 858.3 L473.7 847.3 L475.3 843.7 L476.8 841.0 L478.4 836.2 L479.9 834.9 L481.6 833.3 L483.3 827.6 L484.9 824.9 L486.5 828.7 L488.1 829.2 L489.6 828.3 L491.2 832.4 L492.4 818.1 L493.7 804.2 L494.9 792.4 L496.6 791.9 L498.3 787.9 L499.9 784.9 L501.6 772.5 L503.3 763.2 L504.9 754.9 L506.6 751.7 L508.3 749.7 L509.9 747.4 L511.6 742.8 L513.2 736.8 L514.9 732.4 L516.2 729.2 L517.4 724.9 L518.7 724.9 L519.9 732.0 L521.2 737.4 L522.4 744.9 L523.7 757.4 L524.9 774.7 L526.2 789.9 L527.4 787.4 L528.7 777.5 L529.9 774.9 L531.2 763.1 L532.4 755.8 L533.6 744.9 L535.2 746.9 L536.8 750.0 L538.3 754.3 L539.9 757.4 L541.6 759.5 L543.2 764.4 L544.9 767.4 L546.6 765.1 L548.2 764.8 L549.9 759.9 L551.6 770.0 L553.2 772.5 L554.9 782.4 L556.5 788.5 L558.2 795.5 L559.9 799.9 L561.1 786.8 L562.4 769.9 L564.0 773.0 L565.7 773.9 L567.4 774.9 L569.0 778.9 L570.7 780.8 L572.4 784.9 L573.6 773.8 L574.9 764.9 L576.5 766.4 L578.2 766.8 L579.9 764.9 L581.5 763.9 L583.2 759.2 L584.9 754.9 L586.5 749.7 L588.2 748.0 L589.9 742.4 L591.5 734.5 L593.2 724.1 L594.9 714.9 L596.1 702.3 L597.4 687.5 L598.6 675.0 L599.9 677.7 L601.1 679.5 L602.3 682.5 L603.6 691.4 L604.8 705.0 L606.5 709.1 L608.2 714.0 L609.8 719.9 L611.1 729.1 L612.3 733.2 L613.6 739.9 L614.8 730.9 L616.1 721.9 L617.3 714.9 L618.6 732.3 L619.8 752.4 L621.1 736.6 L622.3 722.4 L624.0 724.7 L625.7 728.2 L627.3 734.9 L628.6 745.6 L629.8 752.4 L631.5 734.7 L633.2 717.2 L634.8 700.0 L636.5 698.6 L638.2 695.6 L639.8 695.0 L641.4 693.9 L642.9 694.0 L644.5 695.8 L646.1 697.5 L647.3 690.6 L648.6 687.0 L649.8 680.0 L651.5 679.4 L653.1 680.6 L654.8 677.5 L656.3 678.1 L657.8 682.7 L659.3 682.4 L660.8 681.3 L662.3 685.0 L663.6 668.3 L664.8 655.0 L666.2 623.7 L667.6 594.2 L669.0 560.0 L670.6 556.7 L672.1 556.4 L673.7 552.4 L675.1 556.2 L676.6 562.7 L678.0 565.0 L679.7 582.8 L681.4 604.9 L683.1 627.1 L684.8 645.0 L686.5 648.0 L688.1 652.1 L689.8 657.5 L691.4 651.7 L693.1 649.1 L694.8 647.5 L696.4 648.8 L698.1 653.6 L699.8 655.0 L701.4 656.9 L703.1 661.1 L704.8 665.0 L706.4 675.9 L708.1 690.5 L709.8 702.5 L711.4 706.0 L713.1 706.6 L714.8 707.4 L716.4 700.9 L718.1 698.7 L719.8 692.5 L721.5 700.7 L723.1 704.7 L724.8 710.0 L726.1 699.5 L727.4 695.1 L728.7 685.2 L729.9 686.5 L731.2 683.1 L732.5 683.3 L734.1 687.7 L735.7 694.4 L737.2 702.4 L738.8 690.5 L740.4 680.1 L742.0 666.1 L743.3 671.3 L744.6 677.2 L745.8 679.4 L747.1 689.4 L748.4 701.5 L749.7 713.8 L750.9 717.0 L752.2 718.4 L753.5 719.6 L754.4 734.4 L755.4 750.1 L756.7 742.1 L757.9 731.5 L759.2 723.4 L760.2 730.6 L761.1 742.5 L762.6 732.5 L764.0 723.4 L765.4 734.4 L766.9 750.1 L767.8 764.2 L768.8 776.9 L770.4 768.4 L772.0 761.6 L773.5 753.9 L774.8 762.1 L776.1 768.0 L777.4 776.9 L778.6 781.1 L779.9 783.3 L781.2 790.2 L782.5 785.4 L783.7 776.6 L785.0 769.2 L786.3 762.2 L787.6 747.8 L788.8 740.6 L790.1 747.5 L791.4 754.5 L792.6 759.7 L794.1 773.1 L795.5 788.3 L796.8 783.0 L798.1 780.2 L799.3 778.8 L800.8 768.3 L802.2 761.6 L803.5 771.9 L804.7 777.3 L806.0 788.3 L807.3 790.0 L808.6 787.9 L809.8 788.3 L811.3 783.8 L812.7 778.8 L814.0 779.2 L815.2 779.1 L816.5 778.8 L818.0 770.0 L819.4 759.7 L820.8 755.4 L822.3 750.1 L823.5 744.8 L824.8 742.5 L826.1 736.8 L827.3 737.4 L828.6 741.7 L829.9 742.5 L831.2 745.1 L832.4 746.5 L833.7 746.3 L835.0 750.4 L836.3 757.9 L837.5 761.6 L838.5 756.4 L839.4 746.3 L840.9 760.4 L842.3 775.0 L843.7 780.5 L845.2 788.3 L846.6 776.0 L848.0 763.5 L849.6 767.1 L851.2 764.1 L852.8 767.3 L854.3 764.8 L855.7 767.2 L857.1 768.1 L858.5 767.3 L859.8 763.0 L861.1 755.1 L862.4 750.1 L863.6 751.4 L864.9 746.2 L866.2 746.3 L867.5 727.9 L868.7 704.7 L870.0 687.1 L871.3 705.6 L872.6 727.2 L873.8 750.1 L875.4 731.9 L877.0 718.3 L878.6 702.4 L880.0 717.0 L881.5 731.0 L882.7 721.1 L884.0 716.8 L885.3 706.2 L886.6 694.7 L887.8 682.7 L889.1 673.7 L890.1 665.4 L891.0 660.3 L892.3 666.7 L893.6 672.7 L894.8 675.6 L896.1 663.0 L897.4 651.5 L898.7 643.2 L899.9 638.9 L901.2 630.4 L902.5 626.0 L903.8 631.7 L905.0 632.3 L906.3 635.5 L907.6 648.3 L908.9 658.9 L910.1 671.8 L911.4 679.1 L912.7 683.1 L913.9 689.0 L915.2 689.4 L916.5 693.6 L917.8 692.8 L919.2 695.6 L920.6 703.6 L922.1 704.9 L923.5 711.9 L925.1 719.0 L926.7 724.1 L928.3 731.0 L929.5 720.2 L930.8 703.3 L932.1 692.8 L933.4 707.8 L934.6 721.6 L935.9 736.8 L937.3 729.4 L938.8 717.7 L940.2 729.0 L941.6 736.5 L943.1 743.4 L944.5 753.9 L945.8 748.8 L947.1 745.1 L948.3 742.5" fill="none" stroke="#000" stroke-width="3.5" stroke-linejoin="round" stroke-linecap="round"/>
<path d="M77.0 994.9 L78.4 993.9 L79.7 992.2 L81.1 991.4 L82.5 992.4 L84.2 997.9 L85.8 1001.4 L87.5 1004.8 L89.2 1008.8 L90.8 1017.4 L92.5 1019.8 L94.1 1017.5 L95.8 1018.5 L97.5 1017.3 L98.7 1018.1 L100.0 1024.2 L101.2 1024.8 L102.9 1029.2 L104.6 1028.6 L106.2 1032.3 L107.9 1036.5 L109.6 1039.8 L111.2 1041.1 L112.5 1030.6 L113.7 1022.3 L115.3 1017.7 L116.8 1014.8 L118.4 1013.1 L120.0 1007.3 L121.5 999.3 L123.1 995.8 L124.6 989.1 L126.2 982.4 L127.9 983.0 L129.5 984.4 L131.2 984.9 L132.8 989.7 L134.3 989.0 L135.9 995.3 L137.4 996.1 L139.1 996.6 L140.8 1000.1 L142.4 999.9 L143.7 993.6 L144.9 983.6 L146.6 985.7 L148.3 993.0 L149.9 994.9 L151.2 1004.3 L152.4 1008.6 L153.7 1004.2 L154.9 999.5 L156.2 998.6 L157.4 1011.6 L158.7 1028.6 L160.3 1032.7 L162.0 1029.4 L163.7 1033.6 L165.3 1031.1 L167.0 1022.6 L168.7 1019.8 L169.9 1027.7 L171.2 1031.1 L172.4 1039.8 L173.7 1033.1 L174.9 1030.8 L176.2 1024.8 L177.4 1023.9 L178.7 1026.5 L179.9 1028.6 L181.6 1026.2 L183.2 1020.5 L184.9 1014.8 L186.2 1023.5 L187.4 1030.7 L188.7 1034.8 L190.2 1032.7 L191.8 1034.1 L193.3 1037.3 L194.9 1036.1 L196.6 1031.6 L198.2 1022.8 L199.9 1019.8 L201.6 1014.0 L203.2 1006.8 L204.9 1002.3 L206.1 994.9 L207.4 986.1 L208.6 981.1 L210.3 983.2 L212.0 992.8 L213.6 994.9 L214.9 998.9 L216.1 1004.8 L217.4 1001.8 L218.6 992.9 L219.9 989.9 L221.6 992.3 L223.2 993.0 L224.9 997.4 L226.5 994.5 L228.2 990.7 L229.9 989.9 L231.1 995.0 L232.4 996.4 L233.6 1002.3 L234.9 990.5 L236.1 976.1 L237.7 983.3 L239.2 988.5 L240.8 996.9 L242.4 1004.8 L244.0 1004.0 L245.7 1005.4 L247.4 1002.3 L249.0 990.3 L250.7 978.4 L252.4 968.6 L253.6 977.3 L254.9 983.1 L256.1 987.4 L257.4 985.2 L258.6 979.5 L259.9 977.4 L261.5 978.2 L263.2 981.1 L264.9 984.9 L266.5 985.5 L268.2 988.3 L269.9 993.6 L271.5 993.2 L273.2 992.3 L274.8 992.4 L276.5 986.0 L278.2 978.3 L279.8 972.4 L281.5 975.7 L283.2 985.0 L284.8 989.9 L286.4 988.2 L288.0 985.1 L289.5 982.6 L291.1 979.9 L292.6 983.4 L294.2 987.4 L295.8 989.3 L297.3 989.9 L299.1 981.7 L300.8 970.8 L302.6 961.2 L304.3 952.5 L306.1 943.6 L307.7 951.9 L309.4 954.7 L311.1 961.1 L312.7 969.7 L314.4 979.0 L316.1 988.6 L317.7 978.8 L319.4 975.4 L321.1 964.9 L322.7 969.0 L324.4 978.8 L326.1 984.9 L327.7 983.7 L329.4 976.9 L331.1 974.9 L332.3 980.4 L333.6 984.2 L334.8 989.9 L336.4 991.6 L337.9 994.5 L339.5 997.2 L341.0 1002.3 L342.7 986.6 L344.4 968.9 L346.0 949.9 L347.3 958.7 L348.5 960.9 L349.8 969.9 L351.5 965.1 L353.1 957.3 L354.8 952.4 L356.5 957.7 L358.1 961.8 L359.8 966.1 L361.3 964.4 L362.8 967.1 L364.3 961.3 L365.8 964.4 L367.3 962.4 L368.8 965.2 L370.4 964.3 L372.0 965.7 L373.5 966.1 L375.2 975.4 L376.9 978.1 L378.5 986.1 L379.8 978.0 L381.0 969.9 L382.3 959.9 L383.8 964.2 L385.3 971.0 L386.8 974.3 L388.3 980.0 L389.8 984.9 L391.3 978.3 L392.9 971.4 L394.4 962.4 L396.0 956.1 L397.7 961.4 L399.3 965.5 L401.0 969.9 L402.3 960.1 L403.5 953.8 L404.7 944.9 L406.2 927.3 L407.9 936.9 L409.6 951.1 L411.2 959.8 L412.8 960.9 L414.4 963.4 L415.9 963.6 L417.5 964.8 L419.0 961.6 L420.5 957.3 L422.0 953.9 L423.5 955.0 L425.0 949.8 L426.2 936.6 L427.5 923.2 L428.7 909.8 L430.5 908.9 L432.2 909.4 L434.0 905.4 L435.7 904.1 L437.5 904.8 L439.0 909.5 L440.5 910.6 L442.0 914.5 L443.5 918.5 L445.0 919.8 L446.6 928.5 L448.3 935.0 L450.0 939.8 L451.6 932.4 L453.3 929.2 L455.0 924.8 L456.6 926.2 L458.2 925.7 L459.8 921.8 L461.4 921.6 L463.0 921.7 L464.6 920.6 L466.2 922.3 L467.4 929.0 L468.7 938.9 L469.9 944.8 L471.4 947.1 L472.9 949.0 L474.4 949.4 L475.9 953.2 L477.4 956.0 L479.1 945.7 L480.8 931.2 L482.4 917.3 L484.1 919.5 L485.8 922.2 L487.4 924.8 L489.1 923.0 L490.8 919.5 L492.4 914.8 L493.7 916.3 L494.9 922.4 L496.2 924.8 L497.4 918.3 L498.7 913.2 L499.9 907.3 L501.6 900.1 L503.3 895.0 L504.9 889.8 L506.2 879.8 L507.4 870.9 L508.7 862.3 L510.2 858.0 L511.8 857.0 L513.4 857.1 L514.9 854.8 L516.6 854.2 L518.2 856.5 L519.9 859.8 L521.2 883.5 L522.4 904.8 L523.7 894.9 L524.9 887.3 L526.6 885.6 L528.2 884.3 L529.9 884.8 L531.2 871.6 L532.4 854.8 L533.9 854.2 L535.4 858.5 L536.9 861.2 L538.4 859.3 L539.9 862.3 L541.6 873.6 L543.2 887.2 L544.9 897.3 L546.6 887.9 L548.2 876.7 L549.9 867.3 L551.4 868.0 L552.9 873.0 L554.4 875.6 L555.9 880.4 L557.4 882.3 L558.6 870.0 L559.9 859.8 L561.5 873.5 L563.2 888.9 L564.9 902.3 L566.5 896.4 L568.2 886.5 L569.9 879.8 L571.5 882.6 L573.2 886.9 L574.9 889.8 L576.1 895.4 L577.4 894.9 L578.6 899.8 L580.2 889.1 L581.7 874.7 L583.3 859.8 L584.9 847.3 L586.4 848.7 L587.9 847.5 L589.4 846.6 L590.9 850.7 L592.4 849.8 L594.0 855.0 L595.7 861.6 L597.4 867.3 L598.6 858.6 L599.9 849.8 L601.5 857.8 L603.2 862.8 L604.8 867.3 L606.3 868.9 L607.8 875.8 L609.3 879.1 L610.8 883.1 L612.3 887.3 L613.8 883.6 L615.3 875.9 L616.8 870.7 L618.3 867.4 L619.8 859.8 L621.5 859.5 L623.2 859.8 L624.8 859.8 L626.5 864.1 L628.2 869.9 L629.8 872.3 L631.5 864.1 L633.2 855.3 L634.8 844.8 L636.5 851.0 L638.2 855.8 L639.8 864.8 L641.3 867.3 L642.8 868.1 L644.3 870.7 L645.8 872.2 L647.3 872.3 L648.8 864.8 L650.3 859.9 L651.8 853.6 L653.3 852.0 L654.8 844.8 L656.5 837.8 L658.1 832.7 L659.8 829.9 L661.5 827.8 L663.1 823.5 L664.8 819.9 L666.4 808.2 L667.9 802.1 L669.5 792.9 L671.0 782.4 L672.3 787.3 L673.5 790.1 L674.8 797.4 L676.5 804.2 L678.1 808.6 L679.8 814.9 L681.5 820.3 L683.1 827.5 L684.8 829.9 L686.3 826.5 L687.9 821.8 L689.5 813.0 L691.0 809.9 L692.3 810.7 L693.5 813.3 L694.8 814.9 L696.4 820.6 L698.1 834.1 L699.8 839.9 L701.4 843.7 L703.1 848.6 L704.8 854.8 L706.3 852.0 L707.9 849.8 L709.5 851.1 L711.0 847.3 L712.6 847.6 L714.1 847.4 L715.7 846.9 L717.3 847.3 L718.5 846.2 L719.8 848.6 L721.0 850.8 L722.3 857.8 L723.6 862.6 L724.8 866.1 L726.1 864.1 L727.4 857.2 L728.7 854.6 L730.1 875.0 L731.5 898.5 L733.0 887.6 L734.4 881.4 L735.7 880.9 L736.9 879.4 L738.2 879.4 L739.6 863.0 L741.1 847.0 L742.3 850.7 L743.6 855.0 L744.9 858.4 L746.2 853.3 L747.4 851.1 L748.7 845.1 L750.0 847.3 L751.3 854.9 L752.5 856.5 L754.0 857.8 L755.4 858.4 L756.8 847.5 L758.3 841.2 L759.7 841.2 L761.1 843.2 L762.6 828.0 L764.0 812.6 L765.4 820.7 L766.9 829.8 L767.8 846.4 L768.8 862.3 L770.0 860.1 L771.3 858.5 L772.6 858.4 L774.2 868.3 L775.8 873.9 L777.4 883.3 L779.0 881.8 L780.5 879.7 L782.1 875.6 L783.6 875.1 L785.0 873.7 L786.4 855.3 L787.9 837.4 L789.3 848.3 L790.7 854.6 L792.2 865.8 L793.6 877.5 L795.0 877.6 L796.5 873.7 L798.0 864.9 L799.5 860.4 L801.1 855.0 L802.6 845.4 L804.1 841.2 L805.7 847.6 L807.3 847.9 L808.9 854.6 L810.2 860.8 L811.4 864.4 L812.7 871.8 L814.0 873.4 L815.2 870.8 L816.5 869.9 L818.0 863.8 L819.4 854.6 L820.7 854.0 L821.9 854.2 L823.2 852.7 L824.8 839.0 L826.4 822.3 L828.0 808.8 L829.3 813.0 L830.5 822.0 L831.8 826.0 L833.1 830.5 L834.4 840.9 L835.6 845.1 L836.9 841.0 L838.2 837.9 L839.4 837.4 L840.7 839.1 L842.0 846.5 L843.3 848.9 L844.5 853.1 L845.8 852.3 L847.1 854.6 L848.4 858.6 L849.6 859.7 L850.9 864.2 L852.2 864.4 L853.5 861.3 L854.7 858.4 L856.2 858.1 L857.6 859.0 L859.0 863.7 L860.5 864.2 L861.7 854.1 L863.0 850.6 L864.3 841.2 L865.6 838.9 L866.8 837.3 L868.1 837.4 L869.5 822.6 L871.0 806.9 L872.4 819.3 L873.8 833.6 L875.1 835.8 L876.4 835.6 L877.7 839.3 L879.1 832.9 L880.5 822.1 L881.9 831.7 L883.4 843.2 L884.7 838.6 L885.9 828.6 L887.2 824.0 L888.5 818.6 L889.7 812.5 L891.0 803.0 L892.3 801.2 L893.6 798.1 L894.8 799.2 L895.8 804.3 L896.8 810.7 L898.2 799.9 L899.6 787.8 L901.2 778.0 L902.8 771.4 L904.4 762.9 L905.7 765.3 L906.9 771.7 L908.2 776.3 L909.5 781.3 L910.8 783.6 L912.0 787.8 L913.0 784.9 L913.9 780.1 L915.5 790.8 L917.1 807.3 L918.7 818.3 L920.3 813.8 L921.9 815.4 L923.5 810.7 L924.8 808.8 L926.0 804.0 L927.3 797.3 L928.7 797.0 L930.2 795.3 L931.6 795.1 L933.0 795.4 L934.3 803.7 L935.6 809.4 L936.9 816.4 L938.5 826.3 L940.1 829.6 L941.6 839.3 L943.1 833.5 L944.5 827.9 L945.5 819.3 L946.4 806.9 L947.4 812.1 L948.3 816.4" fill="none" stroke="#000" stroke-width="3.5" stroke-linejoin="round" stroke-linecap="round"/>
<path d="M77.0 1104.8 L78.5 1107.5 L80.0 1109.8 L81.2 1105.5 L82.5 1103.7 L83.7 1103.5 L85.4 1099.0 L87.1 1098.9 L88.7 1093.5 L90.3 1096.6 L91.9 1094.6 L93.4 1099.5 L95.0 1098.5 L96.6 1100.7 L98.3 1108.2 L100.0 1112.3 L101.6 1110.5 L103.3 1103.1 L105.0 1099.8 L106.6 1097.9 L108.3 1092.3 L110.0 1087.3 L111.2 1082.4 L112.5 1081.4 L113.7 1079.8 L115.0 1068.3 L116.2 1056.0 L117.5 1046.1 L119.1 1044.4 L120.8 1038.6 L122.5 1037.3 L124.0 1041.3 L125.6 1041.3 L127.1 1042.6 L128.7 1047.3 L130.4 1043.9 L132.0 1037.7 L133.7 1036.1 L135.4 1041.8 L137.0 1048.4 L138.7 1052.3 L140.4 1044.9 L142.0 1036.3 L143.7 1028.6 L145.4 1028.2 L147.0 1032.8 L148.7 1034.8 L150.4 1037.7 L152.0 1045.6 L153.7 1049.8 L155.4 1051.2 L157.0 1056.9 L158.7 1059.8 L160.3 1064.9 L162.0 1070.8 L163.7 1077.3 L165.2 1079.1 L166.8 1077.4 L168.4 1078.4 L169.9 1081.0 L171.5 1084.0 L173.0 1081.4 L174.6 1084.7 L176.2 1083.5 L177.8 1090.9 L179.5 1094.3 L181.2 1099.8 L182.8 1104.6 L184.5 1111.0 L186.2 1119.8 L187.7 1118.0 L189.3 1110.3 L190.8 1108.5 L192.4 1104.8 L194.1 1107.0 L195.7 1106.9 L197.4 1111.0 L198.7 1112.1 L199.9 1111.8 L201.2 1114.8 L202.8 1110.8 L204.5 1106.5 L206.1 1102.3 L207.4 1098.3 L208.6 1094.0 L209.9 1092.3 L211.6 1094.3 L213.2 1095.7 L214.9 1099.8 L216.6 1094.5 L218.2 1091.8 L219.9 1089.8 L221.4 1087.3 L223.0 1081.0 L224.6 1078.7 L226.1 1072.3 L227.7 1073.5 L229.3 1082.1 L230.8 1083.5 L232.4 1087.3 L234.0 1087.1 L235.7 1084.3 L237.4 1082.3 L239.0 1086.2 L240.7 1086.7 L242.4 1091.0 L243.9 1090.1 L245.5 1084.9 L247.1 1083.2 L248.6 1082.3 L250.2 1082.3 L251.7 1086.7 L253.3 1089.9 L254.9 1092.3 L256.5 1092.4 L258.2 1096.8 L259.9 1096.0 L261.5 1095.1 L263.2 1098.9 L264.9 1099.8 L266.5 1096.3 L268.2 1096.1 L269.9 1093.5 L271.3 1092.3 L272.8 1089.1 L274.3 1083.0 L275.8 1081.2 L277.3 1079.8 L279.0 1082.8 L280.7 1087.3 L282.3 1087.3 L284.0 1087.4 L285.7 1092.9 L287.3 1094.8 L289.0 1092.4 L290.7 1089.8 L292.3 1084.8 L294.0 1079.8 L295.7 1078.1 L297.3 1072.3 L299.0 1076.7 L300.7 1083.6 L302.3 1086.0 L303.9 1083.8 L305.4 1088.9 L307.0 1086.5 L308.6 1087.3 L310.2 1083.5 L311.9 1078.5 L313.6 1077.3 L314.8 1081.0 L316.1 1088.5 L317.3 1092.3 L318.6 1086.1 L319.8 1076.3 L321.1 1071.0 L322.3 1081.9 L323.6 1092.5 L324.8 1106.0 L326.4 1102.9 L327.9 1101.4 L329.5 1100.5 L331.1 1099.8 L332.3 1103.5 L333.6 1104.9 L334.8 1103.5 L336.5 1107.1 L338.1 1107.6 L339.8 1109.8 L341.0 1098.9 L342.3 1089.6 L343.5 1077.3 L345.2 1083.6 L346.9 1086.9 L348.5 1089.8 L350.1 1088.3 L351.7 1083.8 L353.2 1083.9 L354.8 1081.0 L356.3 1081.9 L357.9 1080.7 L359.5 1076.1 L361.0 1077.3 L362.7 1083.0 L364.4 1085.7 L366.0 1091.0 L367.6 1087.1 L369.2 1089.1 L370.7 1085.4 L372.3 1082.3 L373.9 1089.8 L375.6 1092.9 L377.3 1101.0 L378.9 1095.7 L380.6 1089.1 L382.3 1079.8 L383.8 1084.1 L385.4 1085.4 L386.9 1088.1 L388.5 1088.5 L390.1 1086.4 L391.6 1081.5 L393.2 1077.0 L394.8 1073.5 L396.4 1074.0 L398.1 1072.5 L399.8 1069.8 L401.4 1066.3 L403.1 1057.9 L404.7 1053.6 L406.4 1060.0 L408.0 1061.8 L409.6 1068.1 L411.2 1069.8 L412.8 1065.3 L414.4 1067.2 L415.9 1063.8 L417.5 1059.8 L419.2 1056.0 L420.8 1056.6 L422.5 1052.3 L424.0 1049.9 L425.5 1048.7 L427.0 1049.1 L428.5 1046.9 L430.0 1047.3 L431.5 1047.9 L433.1 1050.7 L434.7 1050.2 L436.2 1049.8 L437.9 1057.6 L439.6 1062.6 L441.2 1069.8 L442.5 1072.9 L443.7 1074.7 L445.0 1074.8 L446.6 1071.6 L448.3 1068.8 L450.0 1062.3 L451.5 1065.0 L453.0 1063.8 L454.5 1063.2 L456.0 1067.1 L457.5 1067.3 L459.1 1068.2 L460.8 1064.8 L462.5 1064.8 L463.7 1060.3 L465.0 1056.6 L466.2 1049.8 L467.4 1058.0 L468.7 1060.6 L469.9 1069.8 L471.6 1074.7 L473.3 1077.3 L474.9 1084.8 L476.6 1074.4 L478.3 1069.8 L479.9 1059.8 L481.6 1056.9 L483.3 1055.4 L484.9 1052.3 L486.6 1056.3 L488.3 1059.8 L489.9 1064.8 L491.2 1068.3 L492.4 1074.8 L493.7 1064.0 L494.9 1056.6 L496.2 1044.8 L497.4 1041.3 L498.7 1035.4 L499.9 1032.3 L501.6 1027.7 L503.3 1026.1 L504.9 1024.8 L506.2 1019.6 L507.4 1012.3 L509.0 1011.4 L510.5 1011.9 L512.1 1012.1 L513.7 1009.8 L514.9 1007.0 L516.2 1009.1 L517.4 1007.3 L519.1 1011.6 L520.7 1022.3 L522.4 1027.3 L523.9 1027.2 L525.4 1029.1 L526.9 1034.2 L528.4 1032.6 L529.9 1034.8 L531.6 1028.4 L533.2 1026.9 L534.9 1019.8 L536.6 1021.2 L538.2 1023.5 L539.9 1022.3 L541.6 1026.8 L543.2 1032.3 L544.9 1037.3 L546.6 1030.5 L548.2 1019.0 L549.9 1009.8 L551.6 1018.2 L553.2 1019.9 L554.9 1027.3 L556.5 1019.9 L558.2 1007.3 L559.9 999.9 L561.5 1003.3 L563.2 1003.9 L564.9 1009.8 L566.4 1009.7 L567.9 1015.2 L569.4 1014.1 L570.9 1017.4 L572.4 1017.3 L573.9 1016.7 L575.5 1017.8 L577.1 1017.1 L578.6 1019.8 L580.2 1010.1 L581.7 1001.7 L583.3 989.9 L584.9 979.9 L586.5 978.4 L588.2 980.4 L589.9 977.4 L591.5 986.9 L593.2 993.2 L594.9 999.9 L596.5 992.6 L598.2 990.5 L599.9 984.9 L601.5 983.7 L603.2 985.6 L604.8 982.4 L606.1 980.8 L607.3 981.5 L608.6 979.9 L609.8 992.2 L611.1 1002.5 L612.3 1014.8 L614.0 1001.6 L615.7 989.1 L617.3 974.9 L619.0 972.0 L620.7 964.9 L622.3 959.9 L624.0 962.5 L625.7 969.0 L627.3 969.9 L628.6 977.6 L629.8 989.9 L631.5 988.3 L633.2 984.2 L634.8 979.9 L636.5 978.5 L638.2 976.3 L639.8 974.9 L641.5 975.3 L643.2 975.2 L644.8 972.4 L646.5 970.2 L648.1 967.0 L649.8 962.4 L651.5 960.8 L653.1 963.1 L654.8 964.9 L656.5 958.0 L658.1 957.2 L659.8 949.9 L661.1 941.9 L662.3 928.1 L663.6 919.9 L665.1 912.9 L666.7 905.3 L668.2 895.1 L669.8 889.9 L671.5 896.0 L673.1 904.5 L674.8 909.9 L676.0 920.6 L677.3 929.9 L678.8 929.8 L680.3 933.3 L681.8 931.8 L683.3 934.1 L684.8 934.9 L686.5 939.5 L688.1 947.4 L689.8 949.9 L691.4 949.0 L693.1 948.1 L694.8 944.9 L696.4 955.0 L698.1 962.6 L699.8 972.4 L701.4 972.3 L703.1 968.5 L704.8 964.9 L706.4 970.9 L708.1 973.7 L709.8 979.9 L711.3 977.1 L712.8 978.3 L714.3 978.6 L715.8 977.4 L717.3 974.9 L718.5 975.4 L719.8 975.6 L721.0 978.8 L722.6 981.4 L724.2 985.8 L725.8 986.4 L726.7 978.0 L727.7 973.0 L729.0 980.0 L730.2 982.8 L731.5 990.2 L732.8 979.1 L734.1 967.5 L735.3 959.7 L736.8 962.4 L738.2 967.3 L739.6 961.9 L741.1 957.8 L742.5 970.7 L743.9 978.8 L745.2 980.5 L746.5 975.9 L747.8 976.9 L749.0 970.1 L750.3 967.7 L751.6 959.7 L752.8 964.5 L754.1 971.5 L755.4 978.8 L756.7 977.2 L757.9 974.2 L759.2 975.0 L760.6 972.8 L762.1 973.0 L763.4 965.5 L764.6 958.4 L765.9 952.0 L766.9 976.4 L767.8 996.0 L769.1 990.3 L770.4 985.5 L771.6 982.6 L773.2 981.5 L774.8 976.0 L776.4 973.0 L777.7 980.5 L779.0 985.2 L780.2 990.2 L781.7 981.2 L783.1 968.3 L784.5 956.9 L786.0 948.2 L787.4 958.1 L788.8 965.4 L790.4 966.5 L792.0 968.3 L793.6 969.2 L794.9 975.8 L796.1 982.0 L797.4 986.4 L799.0 973.8 L800.6 962.8 L802.2 952.0 L803.5 956.8 L804.7 957.3 L806.0 959.7 L807.3 957.9 L808.6 959.1 L809.8 957.8 L811.4 960.3 L813.0 966.8 L814.6 969.2 L816.2 956.0 L817.8 949.3 L819.4 936.8 L820.7 943.5 L821.9 948.7 L823.2 955.9 L824.8 956.2 L826.4 950.8 L828.0 950.1 L829.3 954.5 L830.5 959.3 L831.8 967.3 L833.2 967.6 L834.7 968.6 L836.1 968.2 L837.5 967.3 L839.1 967.5 L840.7 970.2 L842.3 969.2 L843.7 961.5 L845.2 957.8 L846.6 955.8 L848.0 955.9 L849.5 959.5 L850.9 961.6 L852.3 957.3 L853.8 948.2 L855.4 949.5 L857.0 950.5 L858.5 950.1 L860.0 948.7 L861.4 944.4 L862.7 946.4 L864.0 951.8 L865.2 952.0 L866.7 940.9 L868.1 927.2 L869.5 914.9 L871.0 904.3 L872.4 906.6 L873.8 910.0 L875.1 912.2 L876.4 910.5 L877.7 911.9 L879.1 915.1 L880.5 921.5 L881.8 926.6 L883.1 928.0 L884.3 931.0 L885.6 917.8 L886.9 905.2 L888.2 890.9 L889.6 890.1 L891.0 885.2 L892.3 883.9 L893.6 885.6 L894.8 887.1 L896.4 883.6 L898.0 884.1 L899.6 883.3 L901.2 885.2 L902.8 888.9 L904.4 889.0 L905.7 888.6 L906.9 886.9 L908.2 885.2 L909.5 884.0 L910.8 884.3 L912.0 883.3 L913.6 895.5 L915.2 911.8 L916.8 923.4 L918.2 920.1 L919.7 913.8 L920.9 915.6 L922.2 912.0 L923.5 913.8 L924.8 911.5 L926.0 908.8 L927.3 904.3 L928.9 899.2 L930.5 896.2 L932.1 889.0 L933.5 896.8 L935.0 900.5 L936.2 911.3 L937.5 921.2 L938.8 929.1 L940.2 916.5 L941.6 902.4 L943.1 902.4 L944.5 898.5 L945.8 890.9 L947.1 888.1 L948.3 881.4" fill="none" stroke="#000" stroke-width="3.5" stroke-linejoin="round" stroke-linecap="round"/>
<path d="M1111.2 333.6 L1112.5 333.0 L1113.7 330.9 L1115.0 328.7 L1116.7 329.1 L1118.3 329.7 L1120.0 333.6 L1121.7 330.4 L1123.3 327.8 L1125.0 322.4 L1126.6 319.1 L1128.3 316.8 L1130.0 314.7 L1131.6 312.0 L1133.3 312.9 L1135.0 309.9 L1136.6 311.6 L1138.3 309.8 L1140.0 307.4 L1141.6 304.2 L1143.3 303.5 L1145.0 299.9 L1146.6 299.4 L1148.3 305.0 L1150.0 304.9 L1151.7 306.3 L1153.5 306.8 L1155.2 312.3 L1157.0 312.0 L1158.7 316.2 L1160.5 314.5 L1162.2 312.9 L1164.0 314.4 L1165.7 314.4 L1167.4 313.7 L1169.0 317.4 L1170.6 315.6 L1172.1 321.9 L1173.7 322.4 L1175.3 320.4 L1176.9 321.0 L1178.5 323.1 L1180.1 321.6 L1181.7 321.5 L1183.3 322.8 L1184.9 322.4 L1186.4 322.2 L1187.9 326.4 L1189.4 324.6 L1190.9 329.2 L1192.4 328.7 L1193.9 329.8 L1195.4 327.8 L1196.9 324.7 L1198.4 328.1 L1199.9 326.2 L1201.4 321.5 L1202.9 321.7 L1204.4 319.0 L1205.9 314.9 L1207.4 314.9 L1209.1 313.9 L1210.8 312.8 L1212.4 309.9 L1214.1 308.7 L1215.7 306.1 L1217.4 305.0 L1219.1 303.7 L1220.7 300.2 L1222.4 299.9 L1223.9 300.3 L1225.4 299.5 L1226.9 297.0 L1228.4 296.3 L1229.9 292.4 L1231.7 288.3 L1233.4 288.5 L1235.1 280.5 L1236.9 279.3 L1238.6 276.2 L1240.2 272.1 L1241.8 271.6 L1243.3 270.6 L1244.9 267.4 L1246.6 267.3 L1248.4 264.7 L1250.1 262.9 L1251.9 260.8 L1253.6 261.2 L1255.2 259.8 L1256.8 258.2 L1258.3 256.8 L1259.9 257.5 L1261.5 260.3 L1263.2 260.9 L1264.9 262.5 L1266.5 265.5 L1268.2 267.5 L1269.9 272.4 L1271.4 270.5 L1272.9 264.9 L1274.4 262.2 L1275.9 260.8 L1277.4 257.5 L1278.9 257.0 L1280.4 256.9 L1281.9 254.2 L1283.4 253.8 L1284.9 250.0 L1286.5 246.3 L1288.2 239.5 L1289.9 232.5 L1291.5 227.0 L1293.2 216.9 L1294.9 212.5 L1296.5 212.2 L1298.2 212.5 L1299.9 216.2 L1301.5 224.4 L1303.2 229.9 L1304.8 235.0 L1306.3 244.6 L1307.8 251.7 L1309.3 261.2 L1310.8 269.2 L1312.3 279.9 L1314.0 284.0 L1315.7 289.2 L1317.3 289.9 L1318.8 293.9 L1320.3 297.6 L1321.8 303.2 L1323.3 309.2 L1324.8 314.9 L1326.3 316.2 L1327.8 315.0 L1329.3 312.4 L1330.8 309.8 L1332.3 311.2 L1333.8 309.9 L1335.3 310.9 L1336.8 314.9 L1338.3 314.0 L1339.8 314.9 L1341.5 318.9 L1343.2 320.0 L1344.8 320.8 L1346.5 320.6 L1348.1 323.9 L1349.8 323.7 L1351.5 318.0 L1353.1 314.1 L1354.8 312.4 L1356.3 314.2 L1357.8 315.5 L1359.3 315.4 L1360.8 317.1 L1362.3 319.9 L1363.8 316.9 L1365.3 321.0 L1366.8 319.5 L1368.3 320.2 L1369.8 317.4 L1371.3 321.2 L1372.8 319.6 L1374.3 322.4 L1375.8 321.8 L1377.3 323.7 L1378.8 324.8 L1380.3 324.4 L1381.8 320.3 L1383.3 319.1 L1384.8 321.2 L1386.5 320.7 L1388.1 323.7 L1389.8 323.7 L1391.4 322.8 L1393.1 328.1 L1394.8 327.4 L1396.4 327.2 L1398.1 323.9 L1399.8 320.0 L1401.4 322.8 L1403.1 319.3 L1404.8 317.4 L1406.4 315.6 L1408.1 317.3 L1409.8 319.3 L1411.4 321.1 L1413.1 319.4 L1414.8 319.9 L1416.3 321.1 L1417.8 319.4 L1419.3 320.1 L1420.8 324.0 L1422.3 322.4 L1424.0 324.3 L1425.7 325.3 L1427.5 329.8 L1429.1 325.7 L1430.8 318.7 L1432.5 316.0 L1434.1 315.7 L1435.8 318.3 L1437.5 319.8 L1439.0 319.2 L1440.5 318.5 L1442.0 317.9 L1443.5 315.5 L1445.0 314.8 L1446.5 312.5 L1448.0 316.0 L1449.5 312.5 L1451.0 314.6 L1452.5 314.8 L1454.0 312.0 L1455.5 311.2 L1457.0 309.2 L1458.5 304.4 L1460.0 303.5 L1461.6 303.5 L1463.3 302.9 L1465.0 301.0 L1466.5 297.2 L1467.9 291.7 L1469.4 291.9 L1470.9 286.6 L1472.4 282.3 L1474.1 278.8 L1475.8 278.5 L1477.4 278.6 L1479.1 275.3 L1480.8 265.5 L1482.4 261.1 L1484.0 259.3 L1485.6 260.1 L1487.1 259.0 L1488.7 256.1 L1490.3 258.0 L1492.0 259.8 L1493.7 259.8 L1494.9 255.3 L1496.2 253.6 L1497.4 253.6 L1498.7 259.8 L1499.9 262.7 L1501.2 264.8 L1502.8 267.4 L1504.5 272.5 L1506.2 279.8 L1507.4 283.9 L1508.7 292.9 L1509.9 296.1 L1511.4 295.8 L1512.9 299.4 L1514.4 302.0 L1515.9 301.8 L1517.4 302.3 L1519.1 303.2 L1520.7 298.6 L1522.4 298.5 L1523.9 297.5 L1525.4 297.5 L1526.9 302.1 L1528.4 299.5 L1529.9 302.3 L1531.4 305.3 L1532.9 304.4 L1534.4 302.2 L1535.9 305.9 L1537.4 304.8 L1538.9 303.8 L1540.4 306.4 L1541.9 305.0 L1543.4 309.3 L1544.9 308.5 L1546.6 307.2 L1548.2 304.0 L1549.9 298.5 L1551.4 297.7 L1552.9 303.9 L1554.4 304.1 L1555.9 307.2 L1557.4 307.3 L1558.9 306.8 L1560.4 306.9 L1561.9 306.3 L1563.4 306.9 L1564.9 304.8 L1566.4 294.5 L1567.9 288.6 L1569.4 288.7 L1570.9 293.8 L1572.4 296.1 L1573.9 295.2 L1575.4 296.0 L1576.9 294.2 L1578.4 298.3 L1579.9 297.3 L1581.4 295.1 L1583.0 299.6 L1584.5 299.9 L1586.1 298.5 L1587.7 294.3 L1589.2 288.5 L1590.8 287.2 L1592.4 282.3 L1593.9 277.3 L1595.4 274.9 L1596.9 269.8 L1598.4 270.8 L1599.9 264.8 L1601.3 260.6 L1602.8 255.1 L1604.3 249.2 L1605.8 248.0 L1607.3 242.3 L1609.0 233.3 L1610.7 222.5 L1612.3 209.9 L1613.6 202.0 L1614.8 197.5 L1616.1 192.4 L1617.3 178.9 L1618.6 168.8 L1619.8 154.9 L1621.1 138.1 L1622.3 125.5 L1623.6 109.9 L1624.8 100.8 L1626.1 88.0 L1627.3 75.0 L1628.9 64.9 L1630.5 57.8 L1632.0 50.5 L1633.6 45.0 L1635.2 51.0 L1636.9 55.5 L1638.6 60.0 L1639.8 71.7 L1641.1 83.1 L1642.3 95.0 L1644.0 103.6 L1645.6 113.8 L1647.3 122.4 L1649.0 136.5 L1650.6 151.2 L1652.3 162.4 L1653.6 172.8 L1654.8 182.3 L1656.1 189.9 L1657.7 203.7 L1659.4 214.9 L1661.1 224.9 L1662.3 231.0 L1663.6 232.4 L1664.8 239.8 L1666.1 238.3 L1667.3 236.7 L1668.5 232.3 L1669.8 227.8 L1671.0 226.0 L1672.3 219.9 L1674.0 208.2 L1675.6 202.2 L1677.3 189.9 L1678.5 179.6 L1679.8 169.9 L1681.4 169.1 L1682.9 164.9 L1684.5 163.2 L1686.0 162.4 L1687.3 157.4 L1688.5 153.2 L1689.8 149.9 L1691.0 137.0 L1692.3 128.0 L1693.5 117.4 L1694.8 109.1 L1696.0 96.6 L1697.3 85.0 L1698.8 80.0 L1700.4 72.0 L1702.0 65.2 L1703.5 56.2 L1705.1 62.9 L1706.6 65.7 L1708.2 67.2 L1709.8 72.5 L1711.4 83.7 L1713.1 97.0 L1714.8 109.9 L1716.4 125.8 L1718.1 145.2 L1719.8 164.9 L1721.4 175.2 L1723.1 183.7 L1724.8 189.9 L1726.1 191.5 L1727.4 196.3 L1728.7 197.4 L1730.0 197.1 L1731.2 196.1 L1732.5 192.4 L1734.0 194.5 L1735.6 193.8 L1737.2 192.2 L1738.7 194.9 L1740.4 199.9 L1742.1 200.6 L1743.7 204.9 L1745.0 212.2 L1746.2 217.5 L1747.5 224.9 L1749.1 232.5 L1750.8 242.3 L1752.5 247.3 L1753.7 249.3 L1755.0 254.8 L1756.6 255.0 L1758.3 255.6 L1760.0 254.8 L1761.5 257.5 L1763.0 262.1 L1764.5 261.8 L1766.0 267.0 L1767.4 267.3 L1769.1 269.1 L1770.8 271.4 L1772.4 269.8 L1773.7 264.6 L1774.9 263.6 L1776.4 263.3 L1777.9 265.0 L1779.4 269.4 L1780.9 266.0 L1782.4 269.8 L1784.1 269.4 L1785.8 272.6 L1787.4 272.3 L1789.1 276.1 L1790.8 273.1 L1792.4 276.1 L1793.7 272.6 L1794.9 269.8 L1796.4 270.5 L1797.9 270.3 L1799.4 270.4 L1800.9 270.1 L1802.4 268.6 L1803.9 269.0 L1805.4 270.8 L1806.9 271.4 L1808.4 276.6 L1809.9 277.3 L1811.6 276.6 L1813.2 277.7 L1814.9 279.8 L1816.6 287.2 L1818.2 290.6 L1819.9 294.8 L1821.4 297.8 L1822.9 300.6 L1824.4 302.8 L1825.9 305.8 L1827.4 307.3 L1828.9 307.3 L1830.4 307.0 L1831.9 308.0 L1833.4 308.8 L1834.9 312.3 L1836.6 312.8 L1838.2 312.9 L1839.9 314.0 L1841.6 317.3 L1843.2 321.0 L1844.9 319.8 L1846.6 319.9 L1848.2 316.9 L1849.9 317.3 L1851.4 319.7 L1852.9 317.6 L1854.4 318.2 L1855.9 320.3 L1857.4 322.3 L1858.9 322.8 L1860.4 325.3 L1861.9 325.0 L1863.4 327.5 L1864.9 327.3 L1866.4 325.4 L1867.9 330.0 L1869.4 327.2 L1870.9 330.0 L1872.4 328.5 L1873.9 324.5 L1875.5 327.1 L1877.1 322.4 L1878.6 322.3 L1879.9 319.1 L1881.1 313.9 L1882.4 307.3 L1884.0 306.9 L1885.7 303.6 L1887.4 303.5 L1888.9 300.7 L1890.4 301.4 L1891.9 304.9 L1893.4 300.8 L1894.9 302.3 L1896.5 300.6 L1898.2 297.8 L1899.9 294.8 L1901.5 297.3 L1903.2 296.5 L1904.8 299.8 L1906.3 296.9 L1907.8 295.7 L1909.3 299.3 L1910.8 295.2 L1912.3 294.8 L1914.0 298.9 L1915.7 301.8 L1917.3 304.8 L1918.8 305.9 L1920.3 307.5 L1921.8 309.8 L1923.3 316.6 L1924.8 317.3 L1926.5 317.0 L1928.2 323.0 L1929.8 322.3 L1931.3 320.6 L1932.8 321.4 L1934.3 317.4 L1935.8 319.8 L1937.3 317.3 L1939.0 312.7 L1940.7 309.9 L1942.3 307.3 L1944.0 302.4 L1945.6 295.3 L1947.3 292.3 L1948.6 282.7 L1949.8 277.2 L1951.1 267.3 L1952.3 253.7 L1953.6 241.7 L1954.8 229.9 L1956.1 216.2 L1957.3 198.4 L1958.6 184.9 L1959.8 176.6 L1961.1 170.1 L1962.3 164.9 L1963.6 162.6 L1964.8 160.9 L1966.1 159.9 L1967.3 164.0 L1968.5 166.4 L1969.8 169.9 L1971.0 185.1 L1972.3 194.2 L1973.5 209.9 L1974.8 224.0 L1976.0 238.3 L1977.3 249.8 L1978.5 262.6 L1979.8 275.7 L1981.0 292.3 L1982.3 300.3 L1983.5 307.0 L1984.8 317.3 L1986.3 320.8 L1987.9 325.9 L1989.5 326.4 L1991.0 332.3 L1992.6 329.0 L1994.2 329.7 L1995.7 326.8 L1997.3 327.3 L1998.9 328.4 L2000.6 332.0 L2002.3 334.8 L2003.8 333.3 L2005.3 333.5 L2006.8 335.5 L2008.3 336.6 L2009.8 337.3 L2011.4 337.0 L2013.1 332.6 L2014.8 329.8 L2016.4 325.5 L2018.1 324.2 L2019.8 323.5" fill="none" stroke="#000" stroke-width="3.5" stroke-linejoin="round" stroke-linecap="round"/>
<path d="M1111.2 439.8 L1112.9 439.4 L1114.6 436.8 L1116.2 434.8 L1117.5 438.4 L1118.7 440.6 L1120.0 439.8 L1121.5 440.9 L1123.0 436.3 L1124.5 439.9 L1126.0 437.0 L1127.5 436.1 L1129.1 431.8 L1130.8 428.5 L1132.5 427.3 L1134.0 426.7 L1135.5 420.8 L1137.0 417.7 L1138.5 416.1 L1140.0 414.8 L1141.6 414.5 L1143.3 409.6 L1145.0 407.3 L1146.5 409.3 L1148.0 406.6 L1149.5 409.3 L1151.0 409.4 L1152.5 411.1 L1154.0 410.8 L1155.5 414.4 L1157.0 414.1 L1158.5 414.1 L1160.0 417.3 L1161.6 419.9 L1163.3 417.2 L1165.0 417.3 L1166.5 418.2 L1167.9 419.8 L1169.4 425.6 L1170.9 427.4 L1172.4 429.8 L1173.9 425.6 L1175.4 426.2 L1176.9 425.8 L1178.4 423.0 L1179.9 421.1 L1181.4 421.7 L1182.9 425.1 L1184.4 427.6 L1185.9 429.9 L1187.4 431.1 L1189.0 431.1 L1190.6 436.4 L1192.1 439.0 L1193.7 438.6 L1195.4 436.6 L1197.2 433.9 L1198.9 428.1 L1200.7 427.7 L1202.4 422.3 L1203.9 419.9 L1205.4 419.4 L1206.9 420.6 L1208.4 421.4 L1209.9 418.6 L1211.4 415.2 L1212.9 414.6 L1214.4 412.4 L1215.9 413.3 L1217.4 412.3 L1218.9 409.7 L1220.4 409.2 L1221.9 411.4 L1223.4 409.8 L1224.9 408.6 L1226.4 408.6 L1227.9 403.6 L1229.4 402.8 L1230.9 397.1 L1232.4 397.4 L1233.9 397.2 L1235.4 391.0 L1236.9 389.7 L1238.4 387.4 L1239.9 384.9 L1241.6 382.6 L1243.2 375.7 L1244.9 371.1 L1246.6 374.9 L1248.2 374.3 L1249.9 374.9 L1251.4 371.9 L1252.9 373.6 L1254.4 368.8 L1255.9 371.5 L1257.4 367.4 L1259.0 363.4 L1260.7 358.5 L1262.4 356.1 L1264.0 360.6 L1265.7 359.4 L1267.4 362.4 L1269.0 365.2 L1270.7 368.2 L1272.4 372.4 L1274.0 372.4 L1275.7 368.2 L1277.4 369.9 L1279.0 365.9 L1280.7 361.5 L1282.4 359.9 L1284.0 360.8 L1285.7 355.6 L1287.4 357.4 L1288.9 353.6 L1290.5 347.4 L1292.0 344.0 L1293.6 339.9 L1295.3 336.5 L1296.9 333.5 L1298.6 328.7 L1300.2 330.8 L1301.7 335.4 L1303.3 338.9 L1304.8 344.9 L1306.5 355.6 L1308.2 359.7 L1309.8 369.9 L1311.5 377.1 L1313.2 388.3 L1314.8 397.4 L1316.5 401.1 L1318.2 406.0 L1319.8 407.3 L1321.5 408.4 L1323.2 412.6 L1324.8 417.3 L1326.5 413.5 L1328.2 413.6 L1329.8 411.1 L1331.5 412.1 L1333.2 413.1 L1334.8 414.8 L1336.3 417.9 L1337.8 417.7 L1339.3 419.7 L1340.8 421.2 L1342.3 419.8 L1343.8 420.6 L1345.3 426.1 L1346.8 425.4 L1348.3 425.5 L1349.8 429.8 L1351.3 431.5 L1352.8 426.8 L1354.3 425.8 L1355.8 426.7 L1357.3 427.3 L1358.8 427.0 L1360.3 431.3 L1361.8 431.5 L1363.3 429.9 L1364.8 431.1 L1366.3 430.0 L1367.8 430.4 L1369.3 428.9 L1370.8 426.9 L1372.3 424.8 L1373.8 426.4 L1375.3 425.8 L1376.8 428.0 L1378.3 431.6 L1379.8 432.3 L1381.5 432.8 L1383.1 433.9 L1384.8 434.4 L1386.5 434.7 L1388.1 430.7 L1389.8 432.3 L1391.3 430.4 L1392.8 434.9 L1394.3 433.4 L1395.8 431.7 L1397.3 433.6 L1398.8 432.3 L1400.3 427.8 L1401.8 425.5 L1403.3 423.9 L1404.8 422.3 L1406.4 422.0 L1408.1 422.4 L1409.8 418.9 L1411.4 421.9 L1413.1 420.9 L1414.8 419.8 L1416.6 419.7 L1418.4 420.8 L1420.1 421.4 L1421.9 417.3 L1423.7 419.9 L1425.3 421.0 L1426.9 423.3 L1428.4 424.7 L1430.0 424.9 L1431.6 423.2 L1433.3 418.2 L1435.0 417.4 L1436.7 418.3 L1438.5 415.9 L1440.2 411.5 L1442.0 411.1 L1443.7 409.9 L1445.4 414.0 L1447.0 411.7 L1448.7 414.9 L1450.3 412.6 L1451.8 413.6 L1453.4 411.4 L1455.0 407.4 L1456.6 404.8 L1458.3 406.1 L1460.0 403.7 L1461.2 396.1 L1462.5 389.9 L1464.1 388.7 L1465.8 387.2 L1467.4 383.7 L1469.1 378.8 L1470.8 376.4 L1472.4 374.9 L1474.1 372.6 L1475.8 372.1 L1477.4 372.4 L1479.1 363.4 L1480.8 357.2 L1482.4 352.5 L1484.0 348.8 L1485.6 345.8 L1487.1 340.9 L1488.7 340.0 L1490.3 346.2 L1492.0 353.9 L1493.7 357.5 L1495.2 356.9 L1496.8 354.8 L1498.4 355.7 L1499.9 353.7 L1501.6 359.6 L1503.3 364.5 L1504.9 372.4 L1506.6 379.0 L1508.3 383.3 L1509.9 392.4 L1511.2 397.1 L1512.4 399.9 L1514.1 396.1 L1515.7 395.1 L1517.4 393.7 L1518.9 398.8 L1520.4 400.6 L1521.9 403.7 L1523.4 405.4 L1524.9 407.4 L1526.4 407.1 L1527.9 406.5 L1529.4 406.8 L1530.9 401.8 L1532.4 402.4 L1534.0 402.6 L1535.5 398.9 L1537.1 397.4 L1538.6 397.4 L1539.9 402.8 L1541.1 405.4 L1542.4 408.7 L1543.9 409.2 L1545.4 408.1 L1546.9 405.4 L1548.4 402.1 L1549.9 402.4 L1551.4 400.9 L1552.9 404.6 L1554.4 406.6 L1555.9 405.2 L1557.4 407.4 L1558.9 403.2 L1560.4 400.8 L1561.9 399.7 L1563.4 400.4 L1564.9 397.4 L1566.5 393.6 L1568.2 393.5 L1569.9 393.7 L1571.4 393.7 L1572.9 397.3 L1574.4 400.0 L1575.9 396.2 L1577.4 399.9 L1578.9 397.9 L1580.4 402.2 L1581.9 402.4 L1583.4 398.1 L1584.9 399.9 L1586.5 397.4 L1588.2 396.7 L1589.9 394.9 L1591.5 387.3 L1593.2 381.2 L1594.9 374.9 L1596.5 374.4 L1598.2 372.9 L1599.9 373.7 L1601.5 366.8 L1603.2 362.4 L1604.8 360.0 L1606.1 355.6 L1607.3 354.8 L1609.0 346.0 L1610.7 342.1 L1612.3 334.8 L1614.0 325.8 L1615.7 313.6 L1617.3 304.8 L1618.6 289.7 L1619.8 272.7 L1621.1 254.8 L1622.3 241.5 L1623.6 229.8 L1624.8 217.4 L1626.1 210.7 L1627.3 209.6 L1628.6 202.4 L1630.2 201.9 L1631.9 198.4 L1633.6 199.9 L1634.8 195.6 L1636.1 194.9 L1637.3 203.4 L1638.6 209.3 L1639.8 217.4 L1641.1 226.8 L1642.3 232.6 L1643.6 242.3 L1644.8 248.9 L1646.1 253.9 L1647.3 257.3 L1648.6 256.5 L1649.8 259.8 L1651.5 271.9 L1653.1 281.5 L1654.8 294.8 L1656.5 305.9 L1658.1 316.4 L1659.8 324.8 L1661.5 331.3 L1663.1 333.4 L1664.8 339.8 L1666.5 334.3 L1668.1 334.0 L1669.8 329.8 L1671.5 321.8 L1673.1 311.2 L1674.8 304.8 L1676.5 291.5 L1678.1 281.9 L1679.8 269.8 L1681.5 264.5 L1683.1 263.9 L1684.8 259.8 L1686.0 256.8 L1687.3 255.2 L1688.5 254.8 L1689.8 246.1 L1691.0 238.3 L1692.3 229.9 L1693.5 218.5 L1694.8 202.4 L1696.0 192.4 L1697.3 183.6 L1698.5 170.9 L1699.8 162.4 L1701.4 157.1 L1703.1 154.8 L1704.8 149.9 L1706.4 157.6 L1708.1 163.8 L1709.8 169.9 L1711.4 180.3 L1713.1 185.0 L1714.8 194.9 L1716.4 213.9 L1718.1 235.7 L1719.8 254.8 L1721.4 261.9 L1723.1 269.7 L1724.8 279.8 L1726.5 280.1 L1728.2 284.6 L1730.0 284.8 L1731.6 285.7 L1733.3 284.3 L1735.0 282.3 L1736.6 288.9 L1738.3 292.2 L1740.0 294.8 L1741.6 298.0 L1743.3 302.2 L1745.0 307.3 L1746.6 315.9 L1748.3 320.0 L1750.0 329.8 L1751.6 337.0 L1753.3 341.0 L1755.0 349.8 L1756.6 350.7 L1758.3 356.5 L1760.0 359.8 L1761.5 358.4 L1763.0 363.0 L1764.5 363.2 L1766.0 361.6 L1767.4 362.3 L1769.1 359.8 L1770.8 358.6 L1772.4 359.8 L1774.2 361.3 L1775.9 362.9 L1777.7 363.6 L1779.4 365.9 L1781.0 367.4 L1782.5 366.8 L1784.1 368.5 L1785.7 365.4 L1787.3 365.6 L1788.8 368.2 L1790.4 366.9 L1792.0 366.6 L1793.5 364.6 L1795.1 366.0 L1796.7 362.9 L1798.2 363.5 L1800.0 364.3 L1801.8 366.9 L1803.5 369.9 L1805.3 370.6 L1807.1 372.6 L1808.8 371.1 L1810.6 372.1 L1812.4 372.9 L1813.9 378.3 L1815.5 381.5 L1817.1 383.0 L1818.6 383.4 L1820.2 388.4 L1821.8 391.8 L1823.5 398.4 L1825.3 402.4 L1827.1 407.0 L1828.8 415.3 L1830.6 416.6 L1832.4 415.1 L1834.1 409.8 L1835.9 410.6 L1837.6 410.5 L1839.4 411.4 L1841.1 409.8 L1842.9 408.6 L1844.6 412.3 L1846.4 412.4 L1848.1 410.8 L1849.9 411.2 L1851.4 410.3 L1852.9 413.1 L1854.4 412.8 L1855.9 418.6 L1857.4 417.4 L1858.9 417.1 L1860.4 420.3 L1861.9 424.8 L1863.4 423.5 L1864.9 427.4 L1866.5 422.0 L1868.2 418.5 L1869.9 417.4 L1871.5 417.3 L1873.2 420.9 L1874.9 422.4 L1876.5 418.3 L1878.2 409.0 L1879.9 404.9 L1881.5 402.4 L1883.2 404.6 L1884.9 402.4 L1886.4 401.0 L1887.9 399.6 L1889.4 397.5 L1890.9 397.1 L1892.4 397.4 L1894.0 401.5 L1895.7 398.8 L1897.4 402.4 L1898.9 397.7 L1900.3 396.7 L1901.8 394.0 L1903.3 390.5 L1904.8 384.9 L1906.5 386.5 L1908.2 390.6 L1909.8 389.9 L1911.5 392.1 L1913.2 392.2 L1914.8 394.9 L1916.3 397.2 L1917.8 401.0 L1919.3 403.6 L1920.8 403.0 L1922.3 407.4 L1924.0 409.2 L1925.7 416.5 L1927.3 417.4 L1929.0 417.9 L1930.7 424.0 L1932.3 424.9 L1934.0 420.7 L1935.7 416.9 L1937.3 414.9 L1938.8 412.6 L1940.3 412.8 L1941.8 414.5 L1943.3 409.1 L1944.8 409.9 L1946.1 406.8 L1947.3 399.0 L1948.6 394.9 L1949.8 386.6 L1951.1 382.9 L1952.3 374.9 L1953.6 365.8 L1954.8 356.7 L1956.1 350.0 L1957.7 341.2 L1959.4 335.0 L1961.1 325.0 L1962.3 279.8 L1963.6 276.3 L1965.0 269.4 L1966.3 263.6 L1968.0 265.4 L1969.8 272.3 L1971.3 279.2 L1972.8 283.9 L1974.3 291.0 L1975.8 296.8 L1977.3 300.0 L1978.5 324.1 L1979.8 350.0 L1981.0 371.8 L1982.3 391.6 L1983.5 409.9 L1985.1 410.6 L1986.7 413.0 L1988.2 414.9 L1989.8 417.4 L1991.3 415.6 L1992.8 414.8 L1994.3 412.4 L1995.8 412.0 L1997.3 412.4 L1998.9 417.0 L2000.6 416.9 L2002.3 419.9 L2003.8 423.6 L2005.3 427.9 L2006.8 430.2 L2008.3 430.6 L2009.8 434.9 L2011.4 435.0 L2013.1 432.3 L2014.8 431.2 L2016.4 427.8 L2018.1 425.8 L2019.8 422.4" fill="none" stroke="#000" stroke-width="3.5" stroke-linejoin="round" stroke-linecap="round"/>
<path d="M1111.2 532.3 L1112.8 534.5 L1114.4 532.2 L1115.9 534.9 L1117.5 534.7 L1119.0 534.4 L1120.5 537.0 L1122.0 533.6 L1123.5 536.0 L1125.0 536.0 L1126.5 532.9 L1128.0 533.2 L1129.5 528.4 L1131.0 528.8 L1132.5 524.8 L1134.0 524.6 L1135.5 522.7 L1137.0 516.9 L1138.5 519.0 L1140.0 514.8 L1141.5 513.8 L1143.1 511.3 L1144.7 509.0 L1146.2 506.0 L1147.8 505.9 L1149.3 512.3 L1150.9 512.8 L1152.5 514.8 L1154.0 515.0 L1155.5 514.9 L1157.0 517.7 L1158.5 518.2 L1160.0 517.3 L1161.5 519.2 L1163.0 515.8 L1164.5 516.4 L1166.0 516.0 L1167.4 517.3 L1169.1 518.5 L1170.8 523.0 L1172.4 527.3 L1173.9 524.8 L1175.4 528.8 L1176.9 525.8 L1178.4 525.0 L1179.9 527.3 L1181.4 526.0 L1182.9 530.5 L1184.4 528.7 L1185.9 531.1 L1187.4 532.3 L1188.9 532.5 L1190.4 535.3 L1191.9 536.9 L1193.4 534.3 L1194.9 536.0 L1196.6 536.3 L1198.3 537.2 L1199.9 534.7 L1201.4 532.6 L1202.9 532.8 L1204.4 530.0 L1205.9 525.8 L1207.4 524.8 L1208.9 525.2 L1210.4 522.1 L1211.9 518.2 L1213.4 519.2 L1214.9 517.3 L1216.4 517.5 L1217.9 514.4 L1219.4 512.7 L1220.9 510.8 L1222.4 509.8 L1223.9 510.2 L1225.4 507.6 L1226.9 503.8 L1228.4 503.1 L1229.9 502.3 L1231.5 497.8 L1233.0 497.2 L1234.6 492.1 L1236.1 487.3 L1237.7 481.6 L1239.3 481.9 L1240.8 473.6 L1242.4 472.3 L1243.9 471.8 L1245.4 469.9 L1246.9 470.4 L1248.4 467.9 L1249.9 467.3 L1251.4 462.1 L1253.0 461.2 L1254.6 459.6 L1256.1 454.8 L1257.6 453.8 L1259.1 449.1 L1260.6 445.9 L1262.1 446.1 L1263.6 442.3 L1265.2 447.0 L1266.7 447.1 L1268.3 453.7 L1269.9 454.8 L1271.5 459.0 L1273.2 457.8 L1274.9 459.8 L1276.5 455.9 L1278.2 454.2 L1279.9 449.8 L1281.4 455.8 L1283.0 455.8 L1284.5 460.0 L1286.1 464.8 L1287.8 458.1 L1289.4 454.4 L1291.1 447.3 L1292.7 442.3 L1294.2 440.7 L1295.8 437.0 L1297.4 433.6 L1299.0 437.8 L1300.7 438.4 L1302.3 443.6 L1304.0 448.9 L1305.7 452.0 L1307.3 452.3 L1309.0 460.1 L1310.7 468.8 L1312.3 474.8 L1314.0 477.3 L1315.7 485.3 L1317.3 487.3 L1318.9 491.3 L1320.5 496.1 L1322.0 500.4 L1323.6 502.3 L1325.3 502.1 L1327.1 505.5 L1328.8 502.3 L1330.6 501.8 L1332.3 504.8 L1334.1 504.3 L1335.8 505.8 L1337.6 505.4 L1339.3 505.1 L1341.1 502.3 L1342.7 508.2 L1344.4 516.2 L1346.1 519.8 L1347.3 524.2 L1348.6 526.2 L1349.8 532.3 L1351.3 529.4 L1352.8 526.8 L1354.3 521.4 L1355.8 518.8 L1357.3 514.8 L1359.0 514.3 L1360.6 515.3 L1362.3 517.3 L1363.8 518.8 L1365.3 521.3 L1366.8 523.1 L1368.3 523.1 L1369.8 527.3 L1371.5 523.0 L1373.1 523.1 L1374.8 522.3 L1376.3 523.1 L1377.8 523.1 L1379.3 520.1 L1380.8 520.0 L1382.3 521.0 L1383.8 523.3 L1385.3 523.8 L1386.8 528.3 L1388.3 532.1 L1389.8 532.3 L1391.3 529.2 L1392.8 529.7 L1394.3 528.9 L1395.8 527.6 L1397.3 524.8 L1398.8 525.4 L1400.3 524.9 L1401.8 522.1 L1403.3 524.5 L1404.8 522.3 L1406.3 522.5 L1407.8 515.9 L1409.3 518.6 L1410.8 514.0 L1412.3 512.3 L1413.8 511.1 L1415.3 512.0 L1416.8 516.8 L1418.3 517.2 L1419.8 517.3 L1421.3 514.9 L1422.8 516.1 L1424.4 516.5 L1425.9 517.9 L1427.5 514.8 L1429.1 510.7 L1430.8 509.6 L1432.5 504.8 L1434.1 505.2 L1435.8 506.6 L1437.5 509.8 L1439.0 505.6 L1440.6 504.4 L1442.2 503.0 L1443.7 499.9 L1445.5 500.3 L1447.2 501.1 L1449.0 502.9 L1450.7 503.7 L1452.5 507.3 L1454.0 501.8 L1455.5 498.4 L1457.0 495.4 L1458.5 489.7 L1460.0 487.4 L1461.6 485.6 L1463.3 483.7 L1465.0 482.4 L1466.6 479.8 L1468.3 472.3 L1469.9 467.4 L1471.6 470.5 L1473.3 468.9 L1474.9 469.9 L1476.6 463.3 L1478.3 460.4 L1479.9 454.9 L1481.5 448.0 L1483.1 443.2 L1484.6 437.7 L1486.2 434.9 L1487.7 436.6 L1489.3 438.6 L1490.9 436.3 L1492.4 437.4 L1493.9 436.4 L1495.4 436.5 L1496.9 435.9 L1498.4 437.4 L1499.9 436.1 L1501.6 441.8 L1503.3 446.8 L1504.9 454.9 L1506.6 464.3 L1508.3 470.2 L1509.9 477.4 L1511.4 476.8 L1512.9 483.2 L1514.4 484.6 L1515.9 484.6 L1517.4 487.4 L1519.1 490.5 L1520.7 494.5 L1522.4 494.9 L1523.9 493.8 L1525.4 493.5 L1526.9 492.3 L1528.4 493.1 L1529.9 492.4 L1531.4 493.7 L1532.9 494.6 L1534.4 496.2 L1535.9 492.5 L1537.4 494.9 L1539.0 496.0 L1540.5 500.4 L1542.1 502.0 L1543.6 502.3 L1545.2 499.4 L1546.8 496.4 L1548.3 491.2 L1549.9 488.6 L1551.6 496.3 L1553.2 499.7 L1554.9 504.8 L1556.4 503.3 L1557.9 501.2 L1559.4 499.8 L1560.9 502.9 L1562.4 499.9 L1563.9 500.9 L1565.4 496.4 L1566.9 497.4 L1568.4 497.7 L1569.9 497.4 L1571.5 494.8 L1573.2 491.6 L1574.9 489.9 L1576.5 494.4 L1578.2 494.1 L1579.9 497.4 L1581.5 496.7 L1583.2 497.9 L1584.9 494.9 L1586.5 494.7 L1588.2 493.1 L1589.9 492.4 L1591.5 484.8 L1593.2 478.4 L1594.9 472.4 L1596.5 472.9 L1598.2 473.9 L1599.9 472.4 L1601.5 467.8 L1603.2 465.0 L1604.8 462.4 L1606.5 457.6 L1608.2 453.3 L1609.8 449.9 L1611.5 447.9 L1613.2 441.8 L1614.8 437.4 L1616.1 426.2 L1617.3 416.5 L1618.6 407.4 L1619.8 398.3 L1621.1 384.0 L1622.3 374.9 L1624.0 360.1 L1625.7 340.8 L1627.3 327.5 L1629.0 325.9 L1630.7 325.2 L1632.3 327.5 L1633.6 327.4 L1634.8 322.3 L1636.1 322.5 L1637.3 326.1 L1638.6 330.2 L1639.8 337.5 L1641.1 341.2 L1642.3 348.7 L1643.6 352.5 L1645.1 359.9 L1646.7 367.1 L1648.3 373.5 L1649.8 377.4 L1651.5 384.4 L1653.1 393.0 L1654.8 397.4 L1656.5 402.8 L1658.1 414.6 L1659.8 419.9 L1661.5 422.1 L1663.1 423.3 L1664.8 427.4 L1666.5 429.5 L1668.1 430.9 L1669.8 429.9 L1671.5 417.7 L1673.1 404.5 L1674.8 394.9 L1676.5 386.9 L1678.1 376.3 L1679.8 365.0 L1681.5 363.0 L1683.1 362.4 L1684.8 357.5 L1686.5 354.2 L1688.1 353.3 L1689.8 354.8 L1691.4 340.3 L1693.1 327.3 L1694.8 317.3 L1696.4 297.5 L1698.1 276.3 L1699.8 254.8 L1701.4 246.2 L1703.1 239.8 L1704.8 234.8 L1706.4 237.4 L1708.1 243.7 L1709.8 247.3 L1711.4 255.7 L1713.1 264.8 L1714.8 269.8 L1716.0 280.8 L1717.3 295.6 L1718.5 304.8 L1719.8 323.7 L1721.0 342.7 L1722.3 362.5 L1723.5 372.4 L1724.8 384.9 L1726.4 386.0 L1728.1 392.4 L1729.8 392.4 L1731.2 397.7 L1732.7 398.9 L1734.1 398.8 L1735.6 401.5 L1737.1 405.9 L1738.8 408.2 L1740.6 413.3 L1742.4 419.5 L1744.1 422.4 L1745.7 424.0 L1747.3 430.4 L1748.8 434.1 L1750.4 441.3 L1752.0 444.2 L1753.5 452.9 L1755.3 453.2 L1757.1 455.6 L1758.8 455.1 L1760.6 455.3 L1762.2 456.6 L1763.7 460.4 L1765.3 460.0 L1767.1 461.1 L1768.8 460.3 L1770.6 461.2 L1772.4 462.4 L1774.1 463.5 L1775.9 461.9 L1777.6 461.0 L1779.4 457.6 L1781.2 457.4 L1782.9 454.6 L1784.7 454.2 L1786.5 455.3 L1788.2 455.3 L1790.0 457.5 L1791.8 454.5 L1793.5 457.6 L1795.3 456.3 L1797.1 453.3 L1798.8 448.9 L1800.6 445.9 L1802.2 444.1 L1803.7 449.0 L1805.3 448.2 L1807.1 450.1 L1808.8 453.8 L1810.6 455.7 L1812.4 457.6 L1813.9 462.8 L1815.5 465.0 L1817.1 471.8 L1818.6 475.7 L1820.2 479.5 L1821.8 481.2 L1823.3 484.9 L1824.9 486.5 L1826.5 489.9 L1828.0 492.5 L1829.6 499.0 L1831.2 500.0 L1832.7 501.9 L1834.3 502.3 L1835.9 502.8 L1837.5 504.1 L1839.0 502.9 L1840.6 502.4 L1842.1 502.2 L1843.7 505.4 L1845.2 503.6 L1846.8 506.3 L1848.3 504.7 L1849.9 507.3 L1851.4 508.7 L1852.9 506.3 L1854.4 504.7 L1855.9 507.5 L1857.4 504.8 L1859.0 505.2 L1860.7 512.1 L1862.4 512.3 L1864.0 513.7 L1865.7 510.5 L1867.4 513.7 L1869.0 512.7 L1870.7 514.5 L1872.4 512.3 L1874.0 510.3 L1875.7 507.0 L1877.4 504.8 L1879.0 502.9 L1880.7 494.4 L1882.4 492.4 L1883.9 492.8 L1885.4 488.3 L1886.9 488.2 L1888.4 486.3 L1889.9 487.4 L1891.4 489.8 L1892.9 488.1 L1894.4 490.0 L1895.9 488.1 L1897.4 489.9 L1898.9 490.6 L1900.3 489.6 L1901.8 486.3 L1903.3 487.8 L1904.8 487.4 L1906.3 489.8 L1907.8 488.4 L1909.3 491.9 L1910.8 491.2 L1912.3 493.6 L1913.8 493.7 L1915.3 497.3 L1916.8 498.2 L1918.3 499.2 L1919.8 497.4 L1921.5 498.6 L1923.2 501.1 L1924.8 504.0 L1926.5 505.4 L1928.2 505.5 L1929.8 507.3 L1931.3 507.7 L1932.8 503.8 L1934.3 505.2 L1935.8 501.2 L1937.3 499.9 L1939.0 495.4 L1940.7 496.1 L1942.3 490.5 L1944.0 490.8 L1945.6 485.0 L1947.3 484.9 L1949.0 479.9 L1950.6 470.1 L1952.3 462.4 L1954.0 447.0 L1955.6 427.2 L1957.3 412.4 L1958.6 400.6 L1959.8 386.8 L1961.1 374.9 L1962.7 364.5 L1964.4 358.3 L1966.1 347.5 L1967.3 346.7 L1968.5 350.7 L1969.8 352.5 L1971.5 357.8 L1973.1 369.3 L1974.8 374.9 L1976.5 402.0 L1978.1 422.5 L1979.8 449.9 L1981.0 464.7 L1982.3 479.7 L1983.5 494.9 L1984.8 499.3 L1986.0 502.7 L1987.3 504.8 L1988.8 505.0 L1990.3 509.1 L1991.8 506.2 L1993.3 507.0 L1994.8 509.8 L1996.4 510.6 L1998.1 506.2 L1999.8 507.3 L2001.3 506.7 L2002.8 509.3 L2004.3 509.5 L2005.8 509.6 L2007.3 512.3 L2008.8 514.6 L2010.4 512.2 L2012.0 513.8 L2013.5 512.3 L2014.8 506.0 L2016.0 504.5 L2017.3 497.4 L2018.5 497.2 L2019.8 499.9" fill="none" stroke="#000" stroke-width="3.5" stroke-linejoin="round" stroke-linecap="round"/>
<path d="M1111.2 639.9 L1112.8 639.5 L1114.4 635.5 L1115.9 634.9 L1117.5 629.9 L1119.0 632.3 L1120.5 632.6 L1122.0 633.1 L1123.5 635.7 L1125.0 634.9 L1126.6 632.9 L1128.3 629.5 L1130.0 629.9 L1131.6 627.1 L1133.3 621.5 L1135.0 614.9 L1136.5 614.1 L1138.0 612.7 L1139.5 608.3 L1141.0 607.7 L1142.5 606.2 L1144.0 607.6 L1145.5 608.1 L1147.0 607.6 L1148.5 603.4 L1150.0 604.9 L1151.5 606.9 L1153.0 607.2 L1154.5 607.4 L1156.0 607.2 L1157.5 609.9 L1159.1 610.1 L1160.8 613.9 L1162.5 616.1 L1164.1 617.0 L1165.8 619.6 L1167.4 622.4 L1168.9 623.7 L1170.4 625.8 L1171.9 625.9 L1173.4 624.6 L1174.9 627.4 L1176.6 627.7 L1178.3 623.4 L1179.9 622.4 L1181.6 628.1 L1183.3 631.6 L1184.9 632.4 L1186.5 632.7 L1188.1 637.2 L1189.6 641.4 L1191.2 641.1 L1192.8 636.8 L1194.5 633.9 L1196.2 629.9 L1197.8 633.5 L1199.5 636.6 L1201.2 643.6 L1202.4 637.5 L1203.7 632.5 L1204.9 629.9 L1206.4 625.8 L1207.9 624.6 L1209.4 621.2 L1210.9 620.2 L1212.4 614.9 L1213.9 615.4 L1215.4 613.2 L1216.9 615.8 L1218.4 613.6 L1219.9 612.4 L1221.6 610.1 L1223.2 609.3 L1224.9 604.9 L1226.6 601.6 L1228.2 595.9 L1229.9 592.4 L1231.5 589.9 L1233.0 585.1 L1234.6 585.5 L1236.1 579.9 L1237.7 575.8 L1239.3 576.8 L1240.8 569.2 L1242.4 568.7 L1243.9 565.4 L1245.4 567.5 L1246.9 564.9 L1248.4 565.7 L1249.9 565.0 L1251.4 562.3 L1253.0 565.5 L1254.6 564.0 L1256.1 562.5 L1257.8 560.9 L1259.5 559.7 L1261.1 555.0 L1262.8 558.4 L1264.5 557.6 L1266.1 557.5 L1267.7 562.9 L1269.2 563.6 L1270.8 568.2 L1272.4 574.9 L1273.9 568.9 L1275.5 566.1 L1277.1 557.1 L1278.6 552.5 L1280.2 556.6 L1281.7 557.4 L1283.3 563.3 L1284.9 567.4 L1286.5 562.9 L1288.2 554.6 L1289.9 547.5 L1291.5 545.0 L1293.2 536.6 L1294.9 535.0 L1296.5 531.8 L1298.2 530.0 L1299.9 530.0 L1301.5 535.9 L1303.2 536.2 L1304.8 542.5 L1306.5 546.4 L1308.2 544.6 L1309.8 547.5 L1311.3 555.4 L1312.8 559.5 L1314.3 564.5 L1315.8 573.9 L1317.3 577.4 L1318.8 579.4 L1320.3 583.5 L1321.8 582.7 L1323.3 589.2 L1324.8 589.9 L1326.5 595.8 L1328.2 594.6 L1329.8 599.9 L1331.3 601.2 L1332.8 598.7 L1334.3 598.1 L1335.8 599.2 L1337.3 599.9 L1338.8 602.3 L1340.3 605.3 L1341.8 607.0 L1343.3 608.5 L1344.8 607.4 L1346.3 611.1 L1347.8 614.2 L1349.3 614.7 L1350.8 620.6 L1352.3 622.4 L1353.8 618.9 L1355.3 614.2 L1356.8 613.2 L1358.3 606.1 L1359.8 603.7 L1361.3 604.1 L1362.8 606.4 L1364.3 608.6 L1365.8 613.1 L1367.3 614.9 L1368.8 616.0 L1370.3 612.1 L1371.8 613.4 L1373.3 613.3 L1374.8 612.4 L1376.5 611.1 L1378.1 608.6 L1379.8 607.6 L1381.5 603.2 L1383.1 601.8 L1384.8 602.4 L1386.3 604.5 L1387.9 606.1 L1389.5 611.3 L1391.0 612.4 L1392.5 611.8 L1394.0 615.6 L1395.5 613.3 L1397.0 613.3 L1398.5 616.2 L1400.2 612.3 L1401.9 608.1 L1403.5 604.9 L1405.3 603.1 L1407.0 604.3 L1408.8 600.5 L1410.5 601.8 L1412.3 599.9 L1413.8 603.7 L1415.3 603.7 L1416.8 605.9 L1418.3 610.1 L1419.8 609.9 L1421.5 610.4 L1423.2 608.2 L1425.0 609.8 L1426.5 606.6 L1428.1 605.7 L1429.7 606.1 L1431.2 606.0 L1432.8 602.9 L1434.3 604.9 L1435.9 602.8 L1437.5 602.3 L1439.0 598.2 L1440.6 596.1 L1442.2 595.2 L1443.7 589.8 L1445.4 593.0 L1447.0 597.1 L1448.7 603.5 L1450.3 602.8 L1451.8 603.2 L1453.4 606.6 L1455.0 604.8 L1456.5 602.8 L1458.0 598.4 L1459.5 594.0 L1461.0 590.4 L1462.5 589.8 L1464.0 586.8 L1465.5 589.6 L1466.9 587.6 L1468.4 584.0 L1469.9 584.8 L1471.6 582.9 L1473.3 577.5 L1474.9 577.3 L1476.6 574.0 L1478.3 569.8 L1479.9 567.3 L1481.6 557.7 L1483.3 553.6 L1484.9 544.8 L1486.6 542.2 L1488.3 537.4 L1489.9 533.6 L1491.6 527.3 L1493.3 525.3 L1494.9 519.8 L1496.4 519.5 L1497.9 520.7 L1499.4 517.7 L1500.9 521.9 L1502.4 519.8 L1504.1 523.9 L1505.8 531.7 L1507.4 539.8 L1508.7 545.5 L1509.9 552.3 L1511.6 549.9 L1513.2 548.5 L1514.9 549.8 L1516.6 552.5 L1518.2 555.7 L1519.9 554.8 L1521.4 555.4 L1522.9 556.6 L1524.4 560.2 L1525.9 559.4 L1527.4 562.3 L1529.1 559.3 L1530.7 558.3 L1532.4 554.8 L1534.1 554.0 L1535.7 552.2 L1537.4 553.6 L1539.1 556.7 L1540.7 564.6 L1542.4 569.8 L1544.1 570.7 L1545.7 568.7 L1547.4 564.8 L1548.6 567.7 L1549.9 574.8 L1551.1 579.8 L1552.4 582.2 L1553.6 583.2 L1554.9 587.3 L1556.5 589.0 L1558.2 588.9 L1559.9 589.8 L1561.5 593.1 L1563.2 592.0 L1564.9 594.8 L1566.5 593.7 L1568.2 589.8 L1569.9 584.8 L1571.5 585.1 L1573.2 583.8 L1574.9 586.0 L1576.5 583.9 L1578.2 579.9 L1579.9 579.8 L1581.4 579.8 L1582.9 578.8 L1584.4 577.2 L1585.9 578.3 L1587.4 574.8 L1589.0 569.1 L1590.7 569.3 L1592.4 564.8 L1594.0 560.5 L1595.7 551.1 L1597.4 547.3 L1599.0 548.1 L1600.7 548.3 L1602.3 552.3 L1604.0 549.4 L1605.7 546.8 L1607.3 542.3 L1608.8 540.5 L1610.3 541.3 L1611.8 538.6 L1613.3 539.4 L1614.8 537.3 L1616.1 530.3 L1617.3 528.2 L1618.6 519.8 L1619.8 514.5 L1621.1 507.3 L1622.3 504.8 L1624.0 491.9 L1625.7 484.4 L1627.3 472.4 L1629.0 474.3 L1630.7 473.1 L1632.3 472.4 L1633.6 467.2 L1634.8 467.6 L1636.1 462.4 L1637.3 467.7 L1638.6 468.7 L1639.8 474.9 L1641.1 481.7 L1642.3 489.9 L1643.8 492.7 L1645.3 491.3 L1646.8 493.5 L1648.3 497.1 L1649.8 499.9 L1651.5 506.0 L1653.1 510.8 L1654.8 512.3 L1656.5 517.2 L1658.1 526.1 L1659.8 529.8 L1661.5 533.8 L1663.1 536.7 L1664.8 537.3 L1666.1 540.3 L1667.3 542.3 L1669.0 536.4 L1670.6 526.4 L1672.3 517.3 L1674.0 515.5 L1675.6 509.4 L1677.3 504.8 L1678.8 499.8 L1680.3 497.9 L1681.8 494.3 L1683.3 490.0 L1684.8 487.4 L1686.5 484.2 L1688.1 482.4 L1689.8 479.9 L1691.0 472.0 L1692.3 461.8 L1693.5 454.9 L1694.8 442.1 L1696.0 431.6 L1697.3 419.9 L1698.5 404.9 L1699.8 389.9 L1701.0 381.6 L1702.3 375.0 L1703.5 366.2 L1705.2 367.5 L1706.9 372.2 L1708.5 374.9 L1709.8 380.4 L1711.0 389.7 L1712.3 394.9 L1713.9 406.0 L1715.6 416.4 L1717.3 424.9 L1718.9 433.3 L1720.6 440.3 L1722.3 449.9 L1723.8 470.1 L1725.3 485.9 L1726.9 492.2 L1728.4 497.8 L1730.0 504.7 L1731.6 504.4 L1733.1 505.8 L1734.7 507.1 L1736.3 513.6 L1737.8 519.7 L1739.4 523.5 L1741.2 525.8 L1742.9 529.4 L1744.7 529.1 L1746.5 532.9 L1748.0 537.4 L1749.6 541.6 L1751.2 547.1 L1752.7 547.6 L1754.3 549.5 L1755.9 551.8 L1757.5 553.1 L1759.0 553.0 L1760.6 551.8 L1762.2 554.2 L1763.7 558.2 L1765.3 563.5 L1766.9 564.2 L1768.4 562.8 L1770.0 561.2 L1771.8 562.1 L1773.5 561.9 L1775.3 562.2 L1777.1 561.2 L1778.8 560.6 L1780.6 560.1 L1782.4 562.2 L1784.1 563.5 L1785.7 563.5 L1787.3 570.6 L1788.8 570.6 L1790.6 572.5 L1792.4 575.0 L1794.1 578.3 L1795.9 577.6 L1797.6 579.2 L1799.4 576.2 L1801.2 576.8 L1802.9 577.6 L1804.7 578.0 L1806.5 583.9 L1808.2 585.9 L1810.0 587.1 L1811.8 587.6 L1813.5 587.6 L1815.3 587.6 L1817.1 589.4 L1818.8 591.7 L1820.6 595.2 L1822.4 598.5 L1824.1 598.8 L1825.9 603.6 L1827.6 606.6 L1829.4 607.3 L1831.2 610.6 L1832.9 608.4 L1834.7 606.1 L1836.5 607.8 L1838.2 603.5 L1840.0 602.5 L1841.8 602.9 L1843.5 604.2 L1845.3 605.9 L1846.9 610.4 L1848.4 612.4 L1850.0 612.9 L1851.2 609.2 L1852.4 607.3 L1853.9 608.6 L1855.4 608.3 L1856.9 605.4 L1858.4 603.7 L1859.9 604.8 L1861.4 605.7 L1862.9 603.1 L1864.4 601.3 L1865.9 604.9 L1867.4 602.3 L1868.9 601.5 L1870.4 600.7 L1871.9 601.3 L1873.4 599.0 L1874.9 599.8 L1876.5 595.6 L1878.2 595.9 L1879.9 594.8 L1881.1 590.0 L1882.4 583.9 L1883.6 582.3 L1884.9 585.8 L1886.1 592.0 L1887.4 594.8 L1889.0 598.9 L1890.7 605.7 L1892.4 609.8 L1894.0 614.6 L1895.7 616.5 L1897.4 622.3 L1899.0 617.3 L1900.7 618.2 L1902.3 614.8 L1904.0 617.8 L1905.7 618.7 L1907.3 622.3 L1908.6 617.4 L1909.8 617.4 L1911.1 612.3 L1912.7 611.9 L1914.2 605.9 L1915.8 605.2 L1917.3 602.3 L1918.8 601.2 L1920.3 598.3 L1921.8 595.4 L1923.3 595.4 L1924.8 594.8 L1926.3 594.5 L1927.8 593.3 L1929.3 591.8 L1930.8 588.8 L1932.3 589.8 L1934.0 585.0 L1935.7 582.1 L1937.3 579.8 L1939.0 576.0 L1940.7 572.4 L1942.3 569.8 L1944.0 570.2 L1945.6 564.5 L1947.3 564.8 L1949.0 558.2 L1950.6 545.1 L1952.3 537.3 L1954.0 526.7 L1955.6 511.0 L1957.3 499.9 L1959.0 492.0 L1960.6 482.6 L1962.3 474.9 L1963.8 468.7 L1965.3 468.9 L1966.8 463.6 L1968.2 469.0 L1969.6 469.9 L1971.0 474.9 L1972.3 488.8 L1973.5 499.7 L1974.8 512.3 L1976.0 527.4 L1977.3 535.0 L1978.5 549.8 L1979.8 561.7 L1981.0 573.4 L1982.3 587.3 L1984.0 590.4 L1985.6 593.7 L1987.3 594.8 L1988.8 599.7 L1990.4 601.3 L1992.0 603.6 L1993.5 607.3 L1995.1 607.6 L1996.7 602.7 L1998.2 602.3 L1999.8 602.3 L2001.3 604.2 L2002.9 603.2 L2004.5 606.7 L2006.0 604.8 L2007.3 604.3 L2008.5 607.9 L2009.8 609.8 L2011.0 600.8 L2012.3 592.2 L2013.5 587.3 L2015.1 582.7 L2016.6 580.2 L2018.2 579.1 L2019.8 577.3" fill="none" stroke="#000" stroke-width="3.5" stroke-linejoin="round" stroke-linecap="round"/>
<path d="M1111.2 726.1 L1112.9 722.0 L1114.6 718.6 L1116.2 714.8 L1117.8 714.7 L1119.4 717.8 L1120.9 717.7 L1122.5 718.6 L1124.0 723.0 L1125.6 720.6 L1127.2 724.3 L1128.7 726.1 L1130.0 721.9 L1131.2 717.1 L1132.5 713.6 L1134.0 714.0 L1135.5 709.1 L1137.0 711.1 L1138.5 706.9 L1140.0 706.1 L1141.6 703.6 L1143.3 703.4 L1145.0 701.4 L1146.6 698.3 L1148.3 695.6 L1150.0 696.1 L1151.5 700.7 L1153.0 699.9 L1154.5 700.8 L1156.0 705.9 L1157.5 707.3 L1159.0 705.3 L1160.6 702.1 L1162.1 699.9 L1163.7 698.6 L1165.3 703.2 L1166.8 703.4 L1168.4 706.6 L1169.9 709.8 L1171.6 712.2 L1173.3 709.1 L1174.9 709.3 L1176.6 708.1 L1178.3 710.7 L1179.9 709.8 L1181.5 711.9 L1183.1 712.1 L1184.6 713.1 L1186.2 714.8 L1187.9 719.7 L1189.5 728.8 L1191.2 733.6 L1192.7 731.2 L1194.3 730.9 L1195.9 726.4 L1197.4 724.8 L1198.9 725.0 L1200.4 720.4 L1201.9 720.4 L1203.4 723.2 L1204.9 719.8 L1206.4 719.8 L1207.9 718.8 L1209.4 716.8 L1210.9 715.7 L1212.4 714.8 L1213.9 712.3 L1215.4 711.1 L1216.9 712.6 L1218.4 711.8 L1219.9 709.8 L1221.5 706.7 L1223.0 706.8 L1224.6 702.3 L1226.2 702.3 L1227.7 699.8 L1229.3 694.4 L1230.8 693.0 L1232.4 689.9 L1233.9 686.4 L1235.4 685.1 L1236.9 680.5 L1238.4 679.8 L1239.9 677.4 L1241.6 677.1 L1243.2 673.8 L1244.9 673.9 L1246.6 675.0 L1248.2 673.4 L1249.9 672.4 L1251.4 674.2 L1253.0 676.3 L1254.6 676.5 L1256.1 677.4 L1257.7 672.8 L1259.3 670.8 L1260.8 669.7 L1262.4 664.9 L1263.9 668.2 L1265.4 672.2 L1266.9 673.2 L1268.4 676.6 L1269.9 679.9 L1271.4 679.8 L1272.9 676.5 L1274.4 673.2 L1275.9 667.8 L1277.4 667.4 L1278.9 666.5 L1280.4 661.9 L1281.9 665.1 L1283.4 663.8 L1284.9 659.9 L1286.1 672.4 L1287.4 666.1 L1288.6 656.2 L1289.9 649.9 L1291.5 648.4 L1293.2 641.5 L1294.9 639.9 L1296.1 635.4 L1297.4 627.4 L1299.0 627.1 L1300.7 624.1 L1302.3 626.2 L1304.0 627.4 L1305.7 624.2 L1307.3 623.7 L1309.0 632.5 L1310.7 638.8 L1312.3 644.9 L1313.8 650.6 L1315.3 657.8 L1316.8 659.8 L1318.3 668.9 L1319.8 672.4 L1321.3 673.0 L1322.8 672.9 L1324.3 676.0 L1325.8 676.1 L1327.3 679.9 L1328.9 680.1 L1330.5 685.5 L1332.0 685.4 L1333.6 689.9 L1335.1 687.5 L1336.7 687.5 L1338.3 686.8 L1339.8 687.4 L1341.4 691.1 L1342.9 692.6 L1344.5 694.0 L1346.1 693.6 L1347.6 700.2 L1349.2 701.4 L1350.7 707.3 L1352.3 709.8 L1354.0 702.5 L1355.6 699.6 L1357.3 691.1 L1358.8 694.0 L1360.3 694.8 L1361.8 693.4 L1363.3 694.0 L1364.8 697.4 L1366.3 698.1 L1367.8 694.6 L1369.3 693.4 L1370.8 693.2 L1372.3 689.9 L1373.8 689.5 L1375.3 693.9 L1376.8 694.2 L1378.3 697.3 L1379.8 697.4 L1381.5 698.8 L1383.1 699.1 L1384.8 704.7 L1386.5 702.9 L1388.1 707.0 L1389.8 707.3 L1391.3 707.1 L1392.8 702.0 L1394.3 702.4 L1395.8 698.8 L1397.3 697.4 L1398.8 697.4 L1400.3 698.9 L1401.8 704.2 L1403.3 702.7 L1404.8 704.8 L1406.3 701.2 L1407.8 697.4 L1409.3 691.1 L1410.8 691.2 L1412.3 686.1 L1413.8 690.1 L1415.3 693.6 L1416.8 693.6 L1418.3 695.6 L1419.8 699.9 L1421.5 699.5 L1423.2 701.9 L1425.0 701.1 L1426.5 699.7 L1428.0 696.2 L1429.5 694.5 L1431.0 690.4 L1432.5 689.9 L1434.0 689.6 L1435.6 684.8 L1437.2 682.4 L1438.7 679.9 L1440.3 680.8 L1441.8 677.1 L1443.4 679.2 L1445.0 677.4 L1446.6 677.5 L1448.3 680.7 L1450.0 679.9 L1451.2 680.9 L1452.5 686.2 L1454.0 683.7 L1455.5 684.4 L1457.0 682.3 L1458.5 680.5 L1460.0 679.9 L1461.2 674.1 L1462.5 667.4 L1464.0 666.7 L1465.5 668.6 L1466.9 667.1 L1468.4 672.0 L1469.9 671.2 L1471.4 669.1 L1472.9 671.4 L1474.4 669.2 L1475.9 668.7 L1477.4 667.4 L1479.1 663.1 L1480.8 655.5 L1482.4 652.4 L1484.1 647.2 L1485.8 638.0 L1487.4 632.4 L1489.0 632.8 L1490.6 630.8 L1492.1 628.7 L1493.7 626.2 L1495.2 623.6 L1496.7 617.4 L1498.2 614.4 L1499.7 611.6 L1501.2 605.0 L1502.7 607.7 L1504.3 611.6 L1505.9 617.6 L1507.4 622.5 L1509.1 627.5 L1510.8 630.6 L1512.4 637.4 L1514.1 638.5 L1515.7 644.3 L1517.4 644.9 L1519.1 647.7 L1520.7 649.8 L1522.4 654.9 L1523.9 654.0 L1525.4 656.8 L1526.9 655.6 L1528.4 657.8 L1529.9 658.7 L1531.5 661.7 L1533.0 664.0 L1534.6 667.1 L1536.1 669.9 L1537.7 674.8 L1539.3 673.6 L1540.8 681.5 L1542.4 682.4 L1544.0 677.7 L1545.5 673.8 L1547.1 674.4 L1548.6 669.9 L1550.2 675.0 L1551.8 679.5 L1553.3 682.5 L1554.9 688.7 L1556.5 685.5 L1558.2 678.5 L1559.9 674.9 L1561.5 676.1 L1563.2 673.5 L1564.9 674.9 L1566.5 671.1 L1568.2 667.4 L1569.9 662.4 L1571.5 664.3 L1573.2 667.3 L1574.9 669.9 L1576.5 667.7 L1578.2 670.7 L1579.9 669.9 L1581.4 672.8 L1583.0 671.9 L1584.5 675.8 L1586.1 677.4 L1587.7 674.6 L1589.2 667.2 L1590.8 667.0 L1592.4 661.2 L1594.0 662.7 L1595.7 658.0 L1597.4 659.9 L1599.0 661.1 L1600.7 662.8 L1602.3 667.4 L1603.8 665.1 L1605.3 663.3 L1606.8 664.4 L1608.3 662.1 L1609.8 662.4 L1611.5 658.9 L1613.2 657.2 L1614.8 654.9 L1616.1 647.6 L1617.3 643.1 L1618.6 634.9 L1619.8 630.3 L1621.1 621.3 L1622.3 617.5 L1624.0 602.7 L1625.7 588.3 L1627.3 577.5 L1628.9 576.0 L1630.5 574.2 L1632.0 576.6 L1633.6 575.0 L1635.2 577.3 L1636.9 579.2 L1638.6 577.5 L1639.8 581.0 L1641.1 585.1 L1642.3 592.5 L1643.8 594.8 L1645.3 594.0 L1646.8 597.7 L1648.3 595.9 L1649.8 597.5 L1651.3 599.0 L1652.8 600.2 L1654.3 607.3 L1655.8 607.5 L1657.3 610.0 L1658.9 614.0 L1660.4 618.4 L1662.0 624.5 L1663.6 627.4 L1665.2 630.4 L1666.9 629.8 L1668.5 631.2 L1669.8 624.1 L1671.0 619.9 L1672.3 615.0 L1674.0 614.1 L1675.6 608.6 L1677.3 606.2 L1679.0 599.1 L1680.6 590.7 L1682.3 582.5 L1683.8 580.7 L1685.3 579.8 L1686.8 576.5 L1688.3 576.6 L1689.8 574.8 L1691.4 565.0 L1693.1 549.3 L1694.8 539.8 L1696.4 525.8 L1698.1 515.2 L1699.8 499.9 L1701.0 489.0 L1702.3 470.7 L1703.5 459.9 L1705.1 465.5 L1706.6 470.6 L1708.2 476.7 L1709.8 479.9 L1711.4 488.9 L1713.1 496.3 L1714.8 507.3 L1716.4 518.0 L1718.1 531.8 L1719.8 542.3 L1721.4 554.3 L1723.1 562.4 L1724.8 574.8 L1726.0 581.8 L1727.3 587.3 L1729.0 590.2 L1730.7 592.3 L1732.4 591.1 L1734.1 595.4 L1735.8 596.9 L1737.5 600.0 L1739.1 603.8 L1740.8 605.8 L1742.5 610.0 L1744.1 612.2 L1745.8 619.2 L1747.5 622.5 L1749.1 626.3 L1750.8 634.0 L1752.5 637.4 L1754.0 637.9 L1755.5 640.7 L1757.0 643.5 L1758.5 641.4 L1760.0 644.9 L1761.6 649.5 L1763.3 649.4 L1765.0 654.9 L1766.6 655.5 L1768.3 649.1 L1769.9 649.9 L1771.4 653.1 L1772.9 653.2 L1774.4 654.3 L1775.9 657.4 L1777.4 659.9 L1779.1 664.1 L1780.8 667.8 L1782.4 672.4 L1784.1 668.8 L1785.8 669.2 L1787.4 667.4 L1788.9 666.9 L1790.4 670.8 L1791.9 668.3 L1793.4 669.1 L1794.9 669.9 L1796.4 668.5 L1797.9 672.4 L1799.4 669.0 L1800.9 670.7 L1802.4 669.9 L1803.9 672.6 L1805.4 671.4 L1806.9 674.2 L1808.4 672.8 L1809.9 674.9 L1811.4 673.9 L1812.9 674.5 L1814.4 677.6 L1815.9 680.9 L1817.4 679.9 L1819.1 680.9 L1820.7 684.6 L1822.4 687.4 L1824.1 691.3 L1825.7 691.2 L1827.4 694.9 L1829.1 693.9 L1830.7 696.7 L1832.4 697.4 L1834.1 696.4 L1835.7 698.4 L1837.4 697.6 L1839.1 693.5 L1840.7 694.6 L1842.4 693.6 L1843.9 694.0 L1845.4 692.7 L1846.9 695.6 L1848.4 698.8 L1849.9 697.4 L1851.4 696.9 L1852.9 698.8 L1854.4 700.0 L1855.9 697.1 L1857.4 699.9 L1858.9 701.6 L1860.4 696.9 L1861.9 697.4 L1863.4 699.0 L1864.9 697.4 L1866.6 695.0 L1868.3 696.9 L1870.0 697.6 L1871.8 695.1 L1873.5 696.3 L1875.3 695.8 L1877.1 689.2 L1878.8 685.8 L1880.6 683.5 L1881.9 679.4 L1883.2 678.2 L1884.7 677.8 L1886.2 679.6 L1887.6 683.5 L1889.4 683.7 L1891.2 687.1 L1892.9 688.8 L1894.7 694.5 L1896.5 705.7 L1898.2 711.7 L1900.0 708.3 L1901.8 704.5 L1903.5 702.9 L1905.0 703.9 L1906.5 709.4 L1907.9 710.0 L1909.4 704.1 L1910.9 704.2 L1912.3 699.4 L1914.1 695.5 L1915.9 698.2 L1917.6 694.1 L1919.4 691.0 L1921.2 688.8 L1922.9 674.7 L1924.7 674.6 L1926.4 675.4 L1928.2 672.9 L1929.7 672.6 L1931.2 674.2 L1932.6 678.2 L1933.9 675.7 L1935.3 671.1 L1937.0 666.3 L1938.8 660.6 L1940.6 655.5 L1942.3 648.2 L1944.1 646.5 L1945.9 647.0 L1947.6 646.4 L1949.4 640.4 L1951.1 637.6 L1952.9 631.1 L1954.7 625.3 L1956.4 615.3 L1958.2 607.6 L1959.6 595.4 L1960.9 581.1 L1962.3 568.3 L1963.6 556.7 L1965.1 551.9 L1966.6 543.5 L1968.0 540.2 L1969.5 545.8 L1971.0 548.2 L1972.5 552.3 L1974.1 578.6 L1975.8 607.6 L1977.6 623.3 L1979.4 642.9 L1981.1 653.5 L1982.9 664.1 L1984.7 667.6 L1986.4 671.1 L1988.2 674.0 L1990.0 674.0 L1991.7 676.0 L1993.5 678.2 L1995.2 682.0 L1997.0 680.6 L1998.8 683.5 L2000.5 687.3 L2002.3 688.2 L2004.1 690.0 L2005.8 688.8 L2007.6 695.5 L2009.4 697.6 L2011.1 691.9 L2012.9 688.8 L2014.6 686.9 L2016.4 681.7 L2018.2 679.7 L2019.9 676.4" fill="none" stroke="#000" stroke-width="3.5" stroke-linejoin="round" stroke-linecap="round"/>
<path d="M1111.2 851.2 L1112.9 846.7 L1114.6 848.0 L1116.2 842.5 L1117.8 846.0 L1119.4 849.7 L1120.9 851.2 L1122.5 853.7 L1124.0 850.8 L1125.5 854.1 L1127.0 849.8 L1128.5 849.4 L1130.0 849.9 L1131.7 847.1 L1133.5 841.4 L1135.2 839.3 L1137.0 837.1 L1138.7 832.5 L1140.4 831.2 L1142.1 835.0 L1143.7 835.0 L1145.3 831.0 L1146.8 831.1 L1148.4 830.1 L1150.0 827.5 L1151.7 829.9 L1153.5 828.1 L1155.2 830.4 L1157.0 835.9 L1158.7 835.0 L1160.4 832.7 L1162.0 831.2 L1163.7 830.0 L1165.0 832.6 L1166.2 837.6 L1167.4 840.0 L1168.9 842.2 L1170.4 842.7 L1171.9 842.4 L1173.4 844.3 L1174.9 845.0 L1176.2 840.0 L1177.4 835.0 L1179.1 832.9 L1180.8 836.5 L1182.4 833.7 L1183.9 837.6 L1185.4 838.2 L1186.9 840.8 L1188.4 839.5 L1189.9 841.2 L1191.5 844.5 L1193.1 843.0 L1194.6 847.2 L1196.2 847.4 L1197.7 849.5 L1199.3 851.6 L1200.9 852.0 L1202.4 851.2 L1203.9 854.4 L1205.4 852.5 L1206.9 856.4 L1208.4 856.1 L1209.9 857.4 L1211.2 850.6 L1212.4 845.1 L1213.7 840.0 L1214.9 844.4 L1216.2 847.6 L1217.4 848.7 L1218.9 850.2 L1220.4 849.1 L1221.9 846.2 L1223.4 845.9 L1224.9 847.4 L1226.2 850.3 L1227.4 852.4 L1229.1 844.3 L1230.7 838.3 L1232.4 832.5 L1233.9 828.4 L1235.4 826.6 L1236.9 827.5 L1238.4 822.9 L1239.9 822.3 L1241.6 822.8 L1243.2 818.9 L1244.9 820.3 L1246.6 816.2 L1248.2 814.8 L1249.9 814.8 L1251.4 812.7 L1252.9 809.2 L1254.4 809.9 L1255.9 808.1 L1257.4 807.3 L1259.0 798.9 L1260.7 797.5 L1262.4 789.8 L1264.0 796.6 L1265.7 802.2 L1267.4 812.3 L1268.9 813.7 L1270.4 808.9 L1271.9 808.0 L1273.4 805.8 L1274.9 807.3 L1276.5 803.1 L1278.2 804.2 L1279.9 801.5 L1281.5 799.0 L1283.2 795.5 L1284.9 794.8 L1286.5 792.0 L1288.2 793.9 L1289.9 789.8 L1291.5 780.8 L1293.2 775.7 L1294.9 764.8 L1296.5 766.0 L1298.2 761.2 L1299.9 762.3 L1301.3 762.1 L1302.8 755.8 L1304.3 757.4 L1305.8 755.9 L1307.3 752.3 L1308.8 757.3 L1310.3 760.6 L1311.8 765.9 L1313.3 766.5 L1314.8 772.3 L1316.5 773.8 L1318.2 773.6 L1319.8 775.5 L1321.5 775.7 L1323.2 779.6 L1324.8 779.8 L1326.4 783.9 L1328.0 788.7 L1329.5 791.7 L1331.1 794.8 L1332.6 790.3 L1334.2 787.0 L1335.8 781.4 L1337.3 774.8 L1339.0 781.8 L1340.7 787.2 L1342.3 794.8 L1343.8 801.5 L1345.3 803.1 L1346.8 806.2 L1348.3 811.9 L1349.8 817.3 L1351.3 813.8 L1352.8 810.5 L1354.3 804.5 L1355.8 800.1 L1357.3 794.8 L1358.8 800.6 L1360.3 803.2 L1361.8 805.0 L1363.3 808.6 L1364.8 812.3 L1366.5 810.7 L1368.1 805.5 L1369.8 801.5 L1371.5 801.2 L1373.1 799.3 L1374.8 794.8 L1376.3 796.5 L1377.8 801.7 L1379.3 805.8 L1380.8 804.8 L1382.3 809.8 L1383.8 805.9 L1385.3 805.7 L1386.8 802.9 L1388.3 804.1 L1389.8 799.8 L1391.3 804.9 L1392.8 804.5 L1394.3 808.8 L1395.8 810.5 L1397.3 812.3 L1398.8 808.1 L1400.3 809.7 L1401.8 803.1 L1403.3 800.1 L1404.8 799.8 L1406.3 799.5 L1407.8 797.3 L1409.3 799.7 L1410.8 799.3 L1412.3 799.8 L1413.8 802.1 L1415.3 799.3 L1416.8 801.6 L1418.3 801.2 L1419.8 799.8 L1421.1 807.7 L1422.5 814.8 L1423.7 812.6 L1425.0 812.1 L1426.2 812.3 L1427.5 807.3 L1428.7 801.8 L1430.0 797.3 L1431.5 797.6 L1433.0 796.4 L1434.5 794.9 L1436.0 795.9 L1437.5 794.8 L1439.0 794.3 L1440.6 787.0 L1442.2 784.6 L1443.7 782.3 L1445.3 781.0 L1446.8 782.7 L1448.4 783.8 L1450.0 787.3 L1451.5 788.2 L1453.1 791.6 L1454.6 792.1 L1456.2 792.3 L1457.9 788.9 L1459.5 782.4 L1461.2 774.8 L1462.8 775.9 L1464.3 776.5 L1465.9 774.2 L1467.4 777.3 L1469.1 774.2 L1470.8 771.1 L1472.4 769.8 L1474.1 771.3 L1475.8 769.2 L1477.4 772.3 L1479.1 764.2 L1480.8 755.0 L1482.4 747.4 L1484.1 743.2 L1485.8 738.5 L1487.4 734.9 L1488.9 730.3 L1490.4 731.1 L1491.9 728.9 L1493.4 725.4 L1494.9 722.4 L1496.5 717.3 L1498.1 716.6 L1499.6 714.9 L1501.2 709.9 L1502.4 717.4 L1503.7 721.2 L1504.9 724.9 L1506.4 724.0 L1507.9 729.8 L1509.4 730.2 L1510.9 729.7 L1512.4 732.4 L1514.1 735.4 L1515.7 735.7 L1517.4 734.9 L1518.9 737.9 L1520.4 735.6 L1521.9 738.3 L1523.4 738.2 L1524.9 739.9 L1526.5 739.4 L1528.0 742.5 L1529.6 742.3 L1531.2 742.4 L1532.8 745.7 L1534.5 750.9 L1536.1 754.9 L1537.7 755.2 L1539.3 751.5 L1540.8 751.4 L1542.4 747.4 L1543.6 756.4 L1544.9 764.8 L1546.6 765.7 L1548.2 759.1 L1549.9 759.9 L1551.6 762.1 L1553.2 765.1 L1554.9 767.3 L1556.4 766.5 L1557.9 765.8 L1559.4 762.0 L1560.9 759.2 L1562.4 757.4 L1564.0 759.7 L1565.7 760.9 L1567.4 762.3 L1569.0 759.3 L1570.7 756.3 L1572.4 749.9 L1573.9 750.3 L1575.4 754.9 L1576.9 760.8 L1578.4 759.6 L1579.9 764.8 L1581.5 767.2 L1583.2 764.1 L1584.9 767.3 L1586.5 768.9 L1588.2 770.6 L1589.9 769.8 L1591.5 762.7 L1593.2 757.6 L1594.9 752.4 L1596.5 755.9 L1598.2 763.4 L1599.9 767.3 L1601.3 768.0 L1602.8 768.9 L1604.3 767.9 L1605.8 769.8 L1607.3 769.8 L1608.8 772.2 L1610.3 771.3 L1611.8 772.2 L1613.3 768.5 L1614.8 769.8 L1616.1 757.4 L1617.3 744.3 L1618.6 732.4 L1620.3 728.2 L1621.9 727.3 L1623.6 722.4 L1624.8 714.0 L1626.1 709.4 L1627.3 702.4 L1628.8 702.6 L1630.3 702.2 L1631.8 696.1 L1633.3 696.2 L1634.8 696.1 L1636.5 702.4 L1638.2 710.9 L1639.8 714.9 L1641.4 711.9 L1642.9 714.2 L1644.5 710.6 L1646.1 709.9 L1647.6 710.8 L1649.2 713.4 L1650.7 709.5 L1652.3 712.4 L1654.0 710.7 L1655.6 708.9 L1657.3 709.9 L1659.0 713.0 L1660.6 718.9 L1662.3 724.9 L1664.0 729.3 L1665.6 732.0 L1667.3 734.9 L1669.0 727.9 L1670.6 726.4 L1672.3 719.9 L1674.0 713.3 L1675.6 704.7 L1677.3 699.9 L1679.0 693.7 L1680.6 685.7 L1682.3 676.2 L1684.0 675.9 L1685.6 680.9 L1687.3 679.9 L1688.5 677.8 L1689.8 672.4 L1691.4 661.0 L1693.1 649.8 L1694.8 642.4 L1696.4 632.7 L1698.1 620.8 L1699.8 607.5 L1701.0 600.0 L1702.3 598.0 L1703.5 591.2 L1705.1 597.3 L1706.6 601.3 L1708.2 607.0 L1709.8 610.0 L1711.4 620.8 L1713.1 625.7 L1714.8 634.9 L1716.4 645.0 L1718.1 653.8 L1719.8 659.9 L1721.1 665.2 L1722.5 672.4 L1723.7 683.4 L1725.0 692.4 L1726.2 702.1 L1727.5 709.9 L1728.7 716.7 L1730.0 719.9 L1731.5 721.2 L1733.0 720.7 L1734.5 721.6 L1736.0 724.1 L1737.5 724.9 L1738.7 728.0 L1740.0 734.9 L1741.5 737.7 L1743.0 738.9 L1744.5 736.5 L1746.0 739.9 L1747.5 739.9 L1749.1 742.4 L1750.8 741.2 L1752.5 744.9 L1754.0 747.3 L1755.5 748.2 L1757.0 746.9 L1758.5 746.8 L1760.0 749.9 L1761.6 750.4 L1763.3 754.6 L1765.0 754.9 L1766.6 756.3 L1768.3 759.8 L1769.9 759.9 L1771.6 759.7 L1773.3 761.1 L1774.9 764.8 L1776.4 764.6 L1777.9 767.8 L1779.4 764.6 L1780.9 764.6 L1782.4 767.3 L1783.9 770.2 L1785.4 768.2 L1786.9 772.7 L1788.4 771.2 L1789.9 774.8 L1791.6 773.1 L1793.3 774.9 L1794.9 775.5 L1796.6 772.7 L1798.3 772.5 L1799.9 772.3 L1801.4 770.4 L1802.9 772.5 L1804.4 772.5 L1805.9 775.8 L1807.4 774.8 L1808.9 777.0 L1810.4 778.3 L1811.9 778.0 L1813.4 779.9 L1814.9 779.8 L1816.4 780.4 L1817.9 784.2 L1819.4 786.3 L1820.9 788.7 L1822.4 792.3 L1824.0 794.8 L1825.5 793.3 L1827.1 795.2 L1828.7 797.3 L1830.2 793.1 L1831.8 793.0 L1833.3 788.7 L1834.9 784.8 L1836.6 786.4 L1838.2 787.5 L1839.9 789.8 L1841.6 791.2 L1843.2 790.4 L1844.9 787.3 L1846.4 786.6 L1847.9 786.7 L1849.4 787.7 L1850.9 784.1 L1852.4 784.8 L1853.9 782.6 L1855.4 780.8 L1856.9 781.8 L1858.4 782.2 L1859.9 779.8 L1861.5 777.2 L1863.2 777.8 L1864.9 777.3 L1866.6 781.5 L1868.3 780.5 L1870.0 782.3 L1871.8 783.0 L1873.5 786.7 L1875.3 788.3 L1877.1 787.6 L1878.8 777.0 L1880.6 770.2 L1882.3 764.6 L1884.1 765.3 L1885.9 769.9 L1887.6 771.2 L1889.4 772.4 L1891.2 771.7 L1892.9 777.4 L1894.7 779.6 L1896.5 781.3 L1898.2 785.8 L1900.0 780.0 L1901.8 772.9 L1903.5 768.2 L1905.3 767.3 L1907.0 766.8 L1908.8 766.4 L1910.6 765.6 L1912.3 762.6 L1914.1 757.6 L1915.9 755.4 L1917.6 748.8 L1919.4 731.1 L1921.2 725.7 L1922.9 720.5 L1924.7 722.9 L1926.4 720.5 L1928.2 724.8 L1930.0 732.9 L1931.3 739.5 L1932.6 741.7 L1933.9 738.0 L1935.3 732.9 L1937.0 720.5 L1938.8 717.2 L1940.6 710.0 L1942.3 702.4 L1944.1 695.8 L1945.9 697.2 L1947.6 691.0 L1949.4 692.3 L1951.1 688.8 L1952.9 681.7 L1954.7 679.9 L1956.4 674.7 L1958.2 670.5 L1960.0 667.6 L1961.7 660.5 L1963.5 650.0 L1964.8 636.1 L1966.1 625.3 L1967.5 620.4 L1968.8 612.9 L1970.5 621.8 L1972.3 632.2 L1974.1 642.9 L1975.8 649.5 L1977.6 657.0 L1979.4 666.0 L1981.1 678.2 L1982.9 695.6 L1984.7 710.0 L1986.4 716.4 L1988.2 720.5 L1990.0 723.7 L1991.7 731.1 L1993.5 742.4 L1995.2 748.8 L1997.0 751.4 L1998.8 756.3 L2000.5 761.1 L2002.3 766.0 L2004.1 771.7 L2005.8 771.2 L2007.6 772.0 L2009.4 771.4 L2011.1 768.2 L2012.9 765.3 L2014.6 760.4 L2016.4 757.6 L2018.2 749.4 L2019.9 745.2" fill="none" stroke="#000" stroke-width="3.5" stroke-linejoin="round" stroke-linecap="round"/>
<path d="M1111.2 984.8 L1112.9 976.8 L1114.6 973.3 L1116.2 967.4 L1117.8 968.4 L1119.4 968.3 L1120.9 971.7 L1122.5 969.9 L1124.0 968.4 L1125.5 967.1 L1127.0 966.4 L1128.5 964.2 L1130.0 964.9 L1131.6 961.3 L1133.3 953.7 L1135.0 947.4 L1136.6 948.4 L1138.3 948.7 L1140.0 949.9 L1141.6 946.1 L1143.3 943.9 L1145.0 942.4 L1146.6 940.7 L1148.3 938.8 L1150.0 937.4 L1151.6 944.0 L1153.3 946.0 L1155.0 949.9 L1156.6 946.7 L1158.3 944.2 L1160.0 944.9 L1161.5 941.9 L1163.1 941.6 L1164.6 942.6 L1166.2 939.9 L1167.9 945.4 L1169.7 945.5 L1171.4 951.8 L1173.2 953.6 L1174.9 957.4 L1176.6 950.9 L1178.3 944.2 L1179.9 937.4 L1181.6 940.0 L1183.3 945.1 L1184.9 952.4 L1186.4 955.2 L1187.9 957.4 L1189.4 957.7 L1190.9 962.5 L1192.4 962.4 L1193.9 966.3 L1195.4 965.8 L1196.9 966.9 L1198.4 971.6 L1199.9 973.6 L1201.4 973.2 L1202.9 969.7 L1204.4 967.5 L1205.9 968.5 L1207.4 967.4 L1209.0 963.7 L1210.5 966.1 L1212.1 964.3 L1213.7 962.4 L1214.9 963.7 L1216.2 967.1 L1217.4 969.9 L1219.2 970.2 L1220.9 971.7 L1222.7 973.4 L1224.4 978.5 L1226.2 978.6 L1227.4 970.4 L1228.7 963.9 L1229.9 954.9 L1231.5 949.4 L1233.0 947.1 L1234.6 941.3 L1236.1 936.1 L1237.6 936.4 L1239.1 934.6 L1240.6 935.0 L1242.1 932.5 L1243.6 933.6 L1245.2 935.5 L1246.8 933.3 L1248.3 931.9 L1249.9 931.1 L1251.4 934.7 L1253.0 934.7 L1254.6 938.7 L1256.1 942.4 L1257.4 935.1 L1258.6 932.5 L1259.9 924.9 L1261.5 915.7 L1263.2 911.3 L1264.9 904.9 L1266.5 918.1 L1268.2 928.9 L1269.9 938.6 L1271.5 931.9 L1273.2 921.8 L1274.9 914.9 L1276.1 907.3 L1277.4 902.4 L1278.9 902.2 L1280.4 898.9 L1281.9 899.8 L1283.4 896.6 L1284.9 896.2 L1286.5 893.8 L1288.2 889.0 L1289.9 884.9 L1291.5 883.2 L1293.2 880.8 L1294.9 874.9 L1296.5 869.3 L1298.2 867.5 L1299.9 859.9 L1301.3 858.1 L1302.8 863.4 L1304.3 859.7 L1305.8 863.2 L1307.3 863.7 L1309.0 867.7 L1310.7 874.3 L1312.3 877.4 L1314.0 875.6 L1315.7 874.2 L1317.3 874.9 L1318.8 877.9 L1320.3 878.2 L1321.8 880.8 L1323.3 880.9 L1324.8 882.4 L1326.3 882.5 L1327.8 888.8 L1329.3 888.5 L1330.8 892.3 L1332.3 894.9 L1333.8 895.3 L1335.3 899.7 L1336.8 904.8 L1338.3 908.3 L1339.8 909.9 L1341.4 913.7 L1342.9 915.9 L1344.5 920.5 L1346.1 922.4 L1347.6 926.4 L1349.2 927.1 L1350.7 931.9 L1352.3 934.9 L1353.8 930.6 L1355.3 926.6 L1356.8 919.1 L1358.3 914.9 L1359.8 911.2 L1361.3 912.1 L1362.8 912.5 L1364.3 915.6 L1365.8 919.3 L1367.3 919.9 L1368.5 924.0 L1369.8 927.4 L1371.5 920.3 L1373.1 917.8 L1374.8 911.2 L1376.5 909.8 L1378.1 913.7 L1379.8 911.2 L1381.5 911.6 L1383.1 913.0 L1384.8 914.9 L1386.5 919.1 L1388.1 922.0 L1389.8 927.4 L1391.3 927.4 L1392.8 925.7 L1394.3 920.3 L1395.8 920.7 L1397.3 917.4 L1398.6 917.2 L1400.0 914.9 L1401.7 914.4 L1403.3 912.0 L1405.0 912.4 L1406.7 912.2 L1408.3 909.8 L1410.0 904.9 L1411.2 900.7 L1412.5 900.7 L1413.7 899.9 L1415.0 903.1 L1416.2 906.7 L1417.5 912.4 L1419.2 914.1 L1420.8 918.6 L1422.5 918.6 L1424.1 917.0 L1425.8 922.1 L1427.5 921.1 L1429.1 914.7 L1430.8 907.8 L1432.5 904.9 L1434.1 900.3 L1435.8 890.4 L1437.5 884.9 L1439.1 881.3 L1440.8 878.7 L1442.5 877.9 L1444.1 874.5 L1445.8 872.7 L1447.5 872.3 L1449.0 874.1 L1450.6 878.9 L1452.1 881.4 L1453.7 884.8 L1455.3 875.0 L1456.8 867.4 L1458.4 860.0 L1460.0 849.8 L1461.6 850.1 L1463.3 847.3 L1465.0 847.3 L1466.6 842.8 L1468.3 835.5 L1469.9 827.3 L1471.4 827.1 L1472.9 826.2 L1474.4 824.9 L1475.9 823.4 L1477.4 824.8 L1479.1 820.1 L1480.8 812.0 L1482.4 804.8 L1484.1 791.1 L1485.8 783.7 L1487.4 769.8 L1489.1 769.4 L1490.8 762.4 L1492.4 762.3 L1493.7 757.1 L1494.9 749.9 L1496.6 743.5 L1498.3 740.1 L1499.9 734.9 L1501.6 741.6 L1503.3 744.1 L1504.9 749.9 L1506.6 755.7 L1508.3 762.4 L1509.9 767.3 L1511.6 766.6 L1513.2 769.7 L1514.9 769.8 L1516.4 775.9 L1517.9 785.3 L1519.4 787.7 L1520.9 796.9 L1522.4 802.3 L1524.1 802.4 L1525.7 806.1 L1527.4 809.8 L1529.1 814.5 L1530.7 821.3 L1532.4 829.8 L1534.1 835.8 L1535.7 839.8 L1537.4 847.3 L1539.1 851.3 L1540.7 850.2 L1542.4 854.8 L1544.1 862.1 L1545.7 870.0 L1547.4 874.8 L1549.1 875.3 L1550.7 878.3 L1552.4 882.3 L1554.1 878.6 L1555.7 872.1 L1557.4 867.3 L1558.6 866.2 L1559.9 859.8 L1561.1 857.3 L1562.7 856.1 L1564.3 858.4 L1565.8 854.6 L1567.4 854.8 L1568.9 854.7 L1570.5 851.8 L1572.1 845.7 L1573.6 844.8 L1574.9 853.4 L1576.1 863.7 L1577.4 869.8 L1578.9 866.8 L1580.4 869.6 L1581.9 868.2 L1583.4 867.1 L1584.9 864.8 L1586.5 862.8 L1588.2 857.7 L1589.9 857.3 L1591.5 855.5 L1593.2 846.9 L1594.9 844.8 L1596.5 851.3 L1598.2 855.9 L1599.9 859.8 L1601.5 862.2 L1603.2 867.4 L1604.8 869.8 L1606.3 866.8 L1607.8 866.1 L1609.3 859.9 L1610.8 862.0 L1612.3 857.3 L1613.6 861.7 L1614.8 867.3 L1616.5 851.4 L1618.2 832.1 L1619.8 814.8 L1621.5 811.4 L1623.2 803.8 L1624.8 799.8 L1626.1 793.8 L1627.3 787.3 L1629.0 794.0 L1630.7 805.6 L1632.3 814.8 L1634.0 804.3 L1635.7 800.0 L1637.3 789.8 L1639.0 794.1 L1640.7 796.1 L1642.3 799.8 L1644.0 794.8 L1645.6 787.2 L1647.3 777.3 L1648.8 780.2 L1650.3 776.2 L1651.8 779.9 L1653.3 780.5 L1654.8 779.8 L1656.5 787.0 L1658.1 790.6 L1659.8 799.8 L1661.3 807.5 L1662.8 810.5 L1664.3 816.8 L1665.8 823.4 L1667.3 827.3 L1669.0 821.1 L1670.6 814.9 L1672.3 812.3 L1674.0 803.7 L1675.6 789.5 L1677.3 779.8 L1679.0 768.3 L1680.6 759.6 L1682.3 752.4 L1684.0 759.9 L1685.6 763.6 L1687.3 767.3 L1688.5 769.2 L1689.8 772.2 L1691.0 777.3 L1692.3 771.9 L1693.5 763.2 L1694.8 754.9 L1696.4 745.3 L1698.1 733.0 L1699.8 724.9 L1701.0 717.8 L1702.3 713.9 L1703.5 704.9 L1705.1 706.1 L1706.6 712.0 L1708.2 713.8 L1709.8 719.9 L1711.4 730.8 L1713.1 734.5 L1714.8 744.9 L1716.4 752.2 L1718.1 756.6 L1719.8 759.9 L1721.4 769.4 L1723.1 774.1 L1724.8 784.8 L1726.0 799.6 L1727.3 812.3 L1728.8 813.3 L1730.3 814.3 L1731.9 813.6 L1733.4 816.5 L1735.0 817.5 L1736.6 821.5 L1738.3 820.6 L1740.0 825.0 L1741.2 831.9 L1742.5 834.5 L1743.7 840.0 L1745.0 837.1 L1746.2 835.3 L1747.5 835.0 L1748.7 833.5 L1750.0 832.5 L1751.2 836.6 L1752.5 839.5 L1753.7 842.5 L1755.0 842.8 L1756.2 839.2 L1757.5 837.5 L1759.0 837.5 L1760.5 840.0 L1762.0 836.0 L1763.5 834.9 L1765.0 837.5 L1766.6 837.4 L1768.3 838.2 L1769.9 840.0 L1771.6 840.5 L1773.3 844.5 L1774.9 847.4 L1776.6 847.5 L1778.3 854.6 L1779.9 854.9 L1781.2 859.9 L1782.4 864.9 L1783.9 864.9 L1785.4 862.0 L1786.9 860.1 L1788.4 858.3 L1789.9 854.9 L1791.6 855.6 L1793.3 859.5 L1794.9 859.9 L1796.6 861.7 L1798.3 866.9 L1799.9 869.9 L1801.2 872.9 L1802.4 874.9 L1803.9 877.4 L1805.4 875.2 L1806.9 877.1 L1808.4 880.6 L1809.9 879.9 L1811.6 883.2 L1813.2 885.7 L1814.9 884.9 L1816.2 882.1 L1817.4 881.7 L1818.7 882.4 L1819.9 883.7 L1821.2 890.2 L1822.4 892.4 L1824.0 896.8 L1825.5 899.4 L1827.1 903.2 L1828.7 904.9 L1829.9 898.3 L1831.2 891.9 L1832.4 884.9 L1833.6 883.4 L1834.9 877.4 L1836.1 884.4 L1837.4 889.9 L1839.1 889.9 L1840.7 888.7 L1842.4 887.4 L1843.9 886.4 L1845.4 886.8 L1846.9 884.8 L1848.4 881.5 L1849.9 882.4 L1851.1 877.0 L1852.4 872.0 L1853.6 867.4 L1854.9 871.2 L1856.1 876.1 L1857.4 879.9 L1859.0 873.4 L1860.7 867.7 L1862.4 862.4 L1864.0 863.7 L1865.7 865.1 L1867.4 867.4 L1869.0 869.9 L1870.7 865.3 L1872.4 867.4 L1874.0 864.9 L1875.7 868.6 L1877.4 867.4 L1879.0 857.7 L1880.7 848.8 L1882.4 840.0 L1883.9 838.9 L1885.4 836.3 L1886.9 834.1 L1888.4 831.4 L1889.9 832.5 L1891.5 836.1 L1893.2 838.1 L1894.9 837.5 L1896.5 838.8 L1898.2 842.3 L1899.9 845.0 L1901.5 839.9 L1903.2 834.3 L1904.8 832.5 L1906.3 833.5 L1907.8 832.2 L1909.3 828.1 L1910.8 827.2 L1912.3 827.5 L1914.1 825.2 L1915.9 822.4 L1917.6 817.6 L1919.4 808.7 L1921.2 794.6 L1922.9 790.1 L1924.7 785.8 L1926.4 787.0 L1928.2 789.3 L1929.5 794.1 L1930.9 801.7 L1932.6 810.5 L1933.9 805.9 L1935.3 798.1 L1937.0 784.0 L1938.8 776.2 L1940.6 764.6 L1941.9 754.1 L1943.2 739.9 L1944.5 744.1 L1945.9 752.3 L1947.6 749.8 L1949.4 748.9 L1951.1 743.5 L1952.9 738.4 L1954.7 731.1 L1956.4 727.4 L1958.2 724.1 L1960.0 718.7 L1961.7 717.0 L1963.5 697.1 L1965.3 681.7 L1967.0 674.7 L1968.3 677.6 L1969.7 678.2 L1971.0 690.9 L1972.3 708.2 L1974.1 712.4 L1975.8 713.5 L1977.6 723.2 L1979.4 731.1 L1981.1 741.6 L1982.9 752.3 L1984.7 761.4 L1986.4 766.4 L1988.2 773.9 L1990.0 777.0 L1991.7 783.8 L1993.5 789.3 L1995.2 793.4 L1997.0 801.7 L1998.8 815.8 L2000.5 818.0 L2002.3 819.3 L2004.1 822.4 L2005.8 826.4 L2007.6 822.7 L2009.4 823.9 L2011.1 819.3 L2012.9 818.8 L2014.6 813.8 L2016.4 814.0 L2018.2 811.7 L2019.9 812.3" fill="none" stroke="#000" stroke-width="3.5" stroke-linejoin="round" stroke-linecap="round"/>
<path d="M1111.2 1048.5 L1112.8 1045.5 L1114.4 1044.6 L1115.9 1041.1 L1117.5 1039.8 L1119.2 1041.2 L1120.8 1044.8 L1122.5 1044.8 L1124.1 1044.0 L1125.8 1047.6 L1127.5 1047.3 L1129.0 1041.4 L1130.6 1039.6 L1132.2 1034.7 L1133.7 1027.3 L1135.3 1024.5 L1136.8 1024.1 L1138.4 1019.7 L1140.0 1019.8 L1141.2 1015.2 L1142.5 1012.1 L1143.7 1007.3 L1145.3 1005.5 L1146.8 1001.5 L1148.4 997.4 L1150.0 997.3 L1151.6 1000.4 L1153.3 1007.6 L1155.0 1012.3 L1156.5 1014.1 L1158.1 1018.2 L1159.6 1023.2 L1161.2 1026.1 L1162.5 1023.6 L1163.7 1017.0 L1165.0 1012.3 L1166.5 1013.0 L1167.9 1016.8 L1169.4 1017.2 L1170.9 1021.8 L1172.4 1022.3 L1174.1 1022.2 L1175.8 1024.4 L1177.4 1027.3 L1179.0 1024.8 L1180.6 1025.1 L1182.1 1019.0 L1183.7 1018.6 L1184.9 1018.6 L1186.2 1020.0 L1187.4 1023.6 L1189.1 1029.2 L1190.8 1036.9 L1192.4 1044.8 L1194.2 1045.8 L1195.9 1049.1 L1197.7 1048.8 L1199.4 1050.7 L1201.2 1052.3 L1202.7 1049.9 L1204.3 1050.0 L1205.9 1048.8 L1207.4 1044.8 L1209.1 1041.9 L1210.8 1042.0 L1212.4 1037.3 L1214.1 1035.6 L1215.7 1039.0 L1217.4 1036.1 L1218.7 1038.7 L1219.9 1042.0 L1221.2 1043.6 L1222.4 1040.0 L1223.7 1036.5 L1224.9 1034.8 L1226.6 1030.4 L1228.2 1031.8 L1229.9 1027.3 L1231.6 1023.7 L1233.2 1022.5 L1234.9 1018.6 L1236.6 1018.6 L1238.2 1019.1 L1239.9 1017.7 L1241.6 1017.7 L1243.2 1018.8 L1244.9 1019.8 L1246.6 1019.1 L1248.2 1016.7 L1249.9 1014.8 L1251.6 1015.6 L1253.2 1022.6 L1254.9 1024.8 L1256.5 1017.8 L1258.2 1009.3 L1259.9 1004.8 L1261.5 1000.3 L1263.2 996.7 L1264.9 994.8 L1266.5 1004.0 L1268.2 1010.1 L1269.9 1017.3 L1271.5 1012.3 L1273.2 1007.7 L1274.9 1004.8 L1276.5 1002.1 L1278.2 1000.4 L1279.9 999.8 L1281.4 997.8 L1282.9 998.8 L1284.4 997.6 L1285.9 995.9 L1287.4 993.6 L1289.0 991.0 L1290.7 985.2 L1292.4 979.9 L1293.9 976.8 L1295.4 975.5 L1296.9 975.1 L1298.4 974.6 L1299.9 974.9 L1301.3 973.0 L1302.8 972.5 L1304.3 969.3 L1305.8 966.5 L1307.3 964.9 L1309.0 967.7 L1310.7 975.7 L1312.3 977.4 L1313.8 980.7 L1315.3 980.5 L1316.8 981.0 L1318.3 987.9 L1319.8 987.3 L1321.5 989.4 L1323.2 995.8 L1324.8 997.3 L1326.5 993.7 L1328.2 994.8 L1329.8 991.6 L1331.5 992.7 L1333.2 988.0 L1334.8 987.3 L1336.5 988.6 L1338.2 992.4 L1339.8 997.3 L1341.3 1000.4 L1342.8 1002.8 L1344.3 1002.6 L1345.8 1004.3 L1347.3 1004.8 L1349.0 1004.1 L1350.6 1004.5 L1352.3 1006.1 L1354.0 997.7 L1355.6 996.1 L1357.3 987.3 L1359.0 984.1 L1360.6 986.3 L1362.3 984.8 L1364.0 984.9 L1365.6 984.9 L1367.3 987.3 L1369.0 984.5 L1370.6 984.6 L1372.3 979.9 L1374.0 981.0 L1375.6 983.1 L1377.3 987.3 L1378.8 986.0 L1380.3 984.2 L1381.8 981.4 L1383.3 977.7 L1384.8 977.4 L1386.5 989.3 L1388.1 995.3 L1389.8 1007.3 L1391.4 996.5 L1393.1 987.7 L1394.8 979.9 L1396.4 982.0 L1398.1 983.9 L1399.8 986.4 L1401.4 989.4 L1403.1 992.3 L1404.8 992.3 L1406.4 990.5 L1408.1 986.6 L1409.8 989.1 L1411.4 983.2 L1413.1 983.1 L1414.8 982.3 L1416.3 984.0 L1417.9 989.9 L1419.4 994.3 L1420.9 994.4 L1422.5 999.8 L1424.1 996.3 L1425.8 996.7 L1427.5 992.3 L1429.0 991.5 L1430.6 986.6 L1432.2 987.7 L1433.7 984.8 L1435.4 981.4 L1437.1 974.4 L1438.7 969.9 L1440.4 965.6 L1442.1 965.7 L1443.7 962.4 L1445.4 963.9 L1447.0 965.5 L1448.7 969.9 L1450.4 970.6 L1452.0 974.3 L1453.7 977.4 L1455.0 975.4 L1456.2 976.8 L1457.5 977.4 L1459.1 974.3 L1460.8 971.0 L1462.5 967.4 L1464.1 965.2 L1465.8 965.6 L1467.4 962.4 L1469.1 957.7 L1470.8 956.5 L1472.4 954.9 L1473.7 953.0 L1474.9 948.4 L1476.2 942.4 L1477.4 940.4 L1478.7 935.4 L1479.9 929.9 L1481.2 933.4 L1482.4 938.0 L1483.7 939.9 L1485.4 933.6 L1487.0 924.6 L1488.7 919.9 L1490.3 922.8 L1492.0 926.1 L1493.7 932.4 L1495.2 930.3 L1496.7 923.5 L1498.2 919.9 L1499.7 916.6 L1501.2 912.4 L1502.4 912.0 L1503.7 916.8 L1504.9 917.4 L1506.6 923.1 L1508.3 927.3 L1509.9 929.9 L1511.6 930.2 L1513.2 925.6 L1514.9 924.9 L1516.6 922.2 L1518.2 924.6 L1519.9 922.4 L1521.6 924.2 L1523.2 923.4 L1524.9 924.9 L1526.7 922.6 L1528.4 920.1 L1530.2 922.1 L1531.9 918.7 L1533.6 917.4 L1534.9 923.2 L1536.1 924.9 L1537.4 929.9 L1538.6 934.0 L1539.9 939.9 L1541.1 944.9 L1542.7 944.9 L1544.3 944.4 L1545.8 940.4 L1547.4 939.9 L1549.1 940.3 L1550.7 938.1 L1552.4 939.9 L1554.1 938.7 L1555.7 937.0 L1557.4 936.1 L1558.9 936.2 L1560.4 936.5 L1561.9 940.4 L1563.4 940.7 L1564.9 939.9 L1566.5 941.4 L1568.2 942.7 L1569.9 947.4 L1571.1 942.5 L1572.4 943.1 L1573.6 937.4 L1575.3 940.0 L1577.0 949.0 L1578.6 952.4 L1580.3 946.7 L1581.9 941.0 L1583.6 934.9 L1584.9 933.4 L1586.1 931.1 L1587.4 929.9 L1588.6 925.2 L1589.9 917.8 L1591.1 914.9 L1592.7 914.6 L1594.2 907.8 L1595.8 905.5 L1597.4 904.9 L1598.6 915.0 L1599.9 924.0 L1601.1 932.4 L1602.3 936.5 L1603.6 938.4 L1604.8 939.9 L1606.5 938.0 L1608.2 929.2 L1609.8 927.4 L1611.5 920.7 L1613.2 917.7 L1614.8 914.9 L1616.5 903.0 L1618.2 886.4 L1619.8 874.9 L1621.3 873.6 L1622.8 873.3 L1624.3 868.6 L1625.8 869.1 L1627.3 867.4 L1628.9 872.0 L1630.5 873.7 L1632.0 874.4 L1633.6 877.4 L1635.2 880.6 L1636.9 882.9 L1638.6 887.4 L1640.2 886.5 L1641.9 882.2 L1643.6 877.4 L1645.1 878.1 L1646.7 875.8 L1648.3 877.7 L1649.8 876.2 L1651.4 875.8 L1652.9 877.1 L1654.5 874.5 L1656.1 874.9 L1657.3 880.2 L1658.6 882.6 L1659.8 884.9 L1661.5 887.2 L1663.1 890.2 L1664.8 892.4 L1666.5 904.0 L1668.1 912.6 L1669.8 922.4 L1671.5 914.8 L1673.1 899.8 L1674.8 892.4 L1676.0 886.2 L1677.3 876.9 L1678.5 867.4 L1680.2 855.7 L1681.9 845.9 L1683.5 832.5 L1684.8 835.6 L1686.0 841.6 L1687.3 847.4 L1688.5 852.7 L1689.8 857.5 L1691.0 859.9 L1692.7 849.3 L1694.4 842.5 L1696.0 830.0 L1697.3 822.4 L1698.5 810.9 L1699.8 805.0 L1701.3 799.3 L1702.9 795.3 L1704.5 794.1 L1706.0 790.0 L1707.7 794.1 L1709.4 798.7 L1711.0 805.0 L1712.7 805.5 L1714.3 804.5 L1716.0 807.5 L1717.3 816.3 L1718.5 822.6 L1719.8 827.5 L1721.2 830.0 L1722.5 838.6 L1723.7 846.3 L1725.0 854.9 L1726.2 860.2 L1727.5 867.4 L1729.1 871.3 L1730.8 873.3 L1732.5 877.4 L1734.1 882.4 L1735.8 884.8 L1737.5 884.9 L1739.1 890.3 L1740.8 894.9 L1742.5 897.4 L1744.1 898.5 L1745.8 902.1 L1747.5 907.4 L1749.1 909.9 L1750.8 912.1 L1752.5 917.4 L1754.0 915.5 L1755.5 916.9 L1757.0 914.6 L1758.5 913.8 L1760.0 909.9 L1761.2 910.1 L1762.5 911.8 L1763.7 914.9 L1765.0 915.8 L1766.2 920.4 L1767.4 924.9 L1769.1 925.1 L1770.8 930.0 L1772.4 932.4 L1773.7 935.1 L1774.9 939.9 L1776.6 937.5 L1778.3 933.5 L1779.9 929.9 L1781.6 932.1 L1783.3 932.2 L1784.9 934.9 L1786.4 935.6 L1787.9 934.9 L1789.4 934.5 L1790.9 932.7 L1792.4 932.4 L1794.1 929.7 L1795.8 926.3 L1797.4 924.9 L1798.9 923.5 L1800.4 926.7 L1801.9 928.5 L1803.4 927.3 L1804.9 929.9 L1806.4 931.3 L1807.9 930.9 L1809.4 930.2 L1810.9 929.5 L1812.4 927.4 L1814.1 926.5 L1815.7 924.0 L1817.4 924.9 L1818.9 924.7 L1820.4 928.1 L1821.9 930.4 L1823.4 926.9 L1824.9 929.9 L1826.6 933.1 L1828.2 940.8 L1829.9 947.4 L1831.6 941.6 L1833.2 937.9 L1834.9 932.4 L1836.4 930.9 L1837.9 935.2 L1839.4 933.0 L1840.9 936.5 L1842.4 934.9 L1843.6 937.7 L1844.9 942.4 L1846.6 938.0 L1848.2 934.0 L1849.9 932.4 L1851.4 933.8 L1852.9 930.9 L1854.4 931.1 L1855.9 926.1 L1857.4 927.4 L1859.0 924.3 L1860.7 921.9 L1862.4 917.4 L1863.9 920.4 L1865.4 920.7 L1866.9 916.8 L1868.4 918.7 L1869.9 919.9 L1871.4 923.0 L1872.9 921.1 L1874.4 923.8 L1875.9 920.6 L1877.4 922.4 L1879.0 911.6 L1880.7 908.1 L1882.4 897.4 L1884.0 896.2 L1885.7 897.7 L1887.4 897.4 L1889.0 890.9 L1890.7 886.2 L1892.4 879.9 L1894.0 888.8 L1895.7 895.6 L1897.4 899.9 L1899.0 896.9 L1900.7 888.7 L1902.3 884.9 L1904.0 883.3 L1905.7 875.8 L1907.3 874.9 L1909.0 870.3 L1910.7 868.9 L1912.3 862.4 L1913.6 858.7 L1914.8 857.4 L1916.5 857.6 L1918.2 859.5 L1919.8 859.9 L1921.5 861.1 L1923.2 866.0 L1924.8 867.4 L1926.5 871.6 L1928.2 872.0 L1929.8 877.4 L1931.1 883.8 L1932.3 883.5 L1933.6 889.9 L1935.1 887.2 L1936.7 881.6 L1938.3 876.8 L1939.8 874.9 L1941.5 870.2 L1943.2 872.5 L1944.8 867.4 L1946.5 866.5 L1948.1 862.2 L1949.8 859.9 L1951.1 852.7 L1952.3 842.5 L1953.7 831.3 L1955.1 817.5 L1956.4 801.7 L1958.2 789.5 L1960.0 777.0 L1961.7 767.0 L1963.5 759.3 L1964.8 755.9 L1966.1 752.3 L1967.5 760.1 L1968.8 762.9 L1970.1 772.9 L1971.4 780.5 L1972.9 783.2 L1974.4 785.8 L1975.8 785.8 L1977.6 793.3 L1979.4 801.7 L1980.8 816.1 L1982.3 830.0 L1984.0 832.6 L1985.6 830.1 L1987.3 832.5 L1988.9 841.8 L1990.6 845.0 L1992.3 854.9 L1993.9 863.5 L1995.6 872.0 L1997.3 879.9 L1998.9 873.9 L2000.6 873.8 L2002.3 867.4 L2003.9 874.6 L2005.6 880.8 L2007.3 889.9 L2008.9 886.1 L2010.6 883.7 L2012.3 879.9 L2013.8 879.1 L2015.3 876.3 L2016.8 876.3 L2018.3 879.0 L2019.8 877.4" fill="none" stroke="#000" stroke-width="3.5" stroke-linejoin="round" stroke-linecap="round"/>
<path d="M1111.2 1087.3 L1112.8 1087.2 L1114.4 1089.7 L1115.9 1094.5 L1117.5 1094.8 L1119.2 1097.9 L1120.8 1099.2 L1122.5 1098.5 L1124.0 1097.1 L1125.6 1096.6 L1127.2 1100.8 L1128.7 1099.8 L1130.4 1093.6 L1132.1 1085.7 L1133.7 1079.8 L1135.0 1075.6 L1136.2 1076.1 L1137.5 1074.8 L1139.0 1071.4 L1140.5 1071.2 L1142.0 1071.3 L1143.5 1065.3 L1145.0 1064.8 L1146.5 1063.6 L1148.0 1067.8 L1149.5 1065.7 L1151.0 1067.3 L1152.5 1069.8 L1154.0 1070.2 L1155.5 1073.8 L1157.0 1071.1 L1158.5 1071.8 L1160.0 1073.5 L1161.6 1070.5 L1163.3 1065.9 L1165.0 1064.8 L1166.6 1065.9 L1168.3 1069.2 L1169.9 1069.8 L1171.6 1073.0 L1173.3 1079.7 L1174.9 1082.3 L1176.4 1081.6 L1177.9 1082.2 L1179.4 1085.9 L1180.9 1086.0 L1182.4 1087.3 L1184.1 1091.9 L1185.8 1090.2 L1187.4 1094.8 L1188.7 1100.2 L1189.9 1104.0 L1191.2 1107.3 L1192.8 1104.9 L1194.5 1102.0 L1196.2 1102.3 L1197.8 1103.3 L1199.5 1104.4 L1201.2 1103.5 L1202.7 1099.0 L1204.3 1094.6 L1205.9 1091.4 L1207.4 1086.0 L1208.9 1086.3 L1210.4 1085.1 L1211.9 1083.6 L1213.4 1084.8 L1214.9 1084.8 L1216.5 1086.3 L1218.0 1089.3 L1219.6 1091.1 L1221.2 1089.8 L1222.7 1088.8 L1224.3 1086.4 L1225.8 1084.6 L1227.4 1084.8 L1229.1 1083.8 L1230.7 1082.7 L1232.4 1079.8 L1234.1 1080.1 L1235.7 1084.1 L1237.4 1084.8 L1239.1 1080.7 L1240.7 1070.9 L1242.4 1064.8 L1243.9 1066.6 L1245.4 1063.5 L1246.9 1064.1 L1248.4 1064.7 L1249.9 1062.3 L1251.6 1059.9 L1253.2 1059.8 L1254.9 1059.8 L1256.5 1059.8 L1258.2 1052.5 L1259.9 1052.3 L1261.5 1053.0 L1263.2 1055.5 L1264.9 1057.3 L1266.5 1063.6 L1268.2 1068.0 L1269.9 1072.3 L1271.5 1067.9 L1273.2 1059.8 L1274.9 1052.3 L1276.4 1047.8 L1278.0 1046.3 L1279.6 1044.3 L1281.1 1044.8 L1282.7 1041.9 L1284.2 1037.3 L1285.8 1037.4 L1287.4 1034.8 L1288.9 1031.8 L1290.5 1025.8 L1292.0 1025.4 L1293.6 1019.8 L1294.9 1021.9 L1296.1 1027.2 L1297.4 1027.3 L1299.0 1027.4 L1300.7 1029.6 L1302.3 1029.8 L1304.0 1028.4 L1305.7 1025.2 L1307.3 1024.8 L1309.0 1027.9 L1310.7 1025.6 L1312.3 1029.8 L1314.0 1027.3 L1315.7 1026.4 L1317.3 1026.1 L1318.8 1030.3 L1320.3 1030.6 L1321.8 1030.4 L1323.3 1034.0 L1324.8 1037.3 L1326.3 1037.4 L1327.8 1037.9 L1329.3 1033.8 L1330.8 1036.8 L1332.3 1034.8 L1333.8 1035.7 L1335.3 1037.9 L1336.8 1038.9 L1338.3 1040.5 L1339.8 1042.3 L1341.3 1046.9 L1342.8 1048.5 L1344.3 1050.5 L1345.8 1051.5 L1347.3 1052.3 L1349.0 1054.2 L1350.6 1052.1 L1352.3 1052.4 L1354.0 1057.3 L1355.6 1057.4 L1357.3 1057.3 L1358.8 1058.5 L1360.3 1057.3 L1361.8 1057.6 L1363.3 1061.5 L1364.8 1059.8 L1366.3 1058.5 L1367.8 1054.3 L1369.3 1054.5 L1370.8 1053.0 L1372.3 1052.3 L1374.0 1048.4 L1375.6 1051.5 L1377.3 1047.3 L1378.8 1048.4 L1380.3 1046.9 L1381.8 1041.7 L1383.3 1042.9 L1384.8 1042.3 L1386.5 1043.6 L1388.1 1050.1 L1389.8 1052.3 L1391.3 1052.9 L1392.8 1051.8 L1394.3 1050.8 L1395.8 1046.3 L1397.3 1047.3 L1398.8 1043.3 L1400.3 1042.2 L1401.8 1044.6 L1403.3 1043.0 L1404.8 1039.8 L1406.3 1038.9 L1407.8 1036.4 L1409.3 1038.7 L1410.8 1033.8 L1412.3 1034.8 L1413.9 1034.6 L1415.5 1033.6 L1417.2 1039.5 L1418.8 1037.2 L1420.5 1039.8 L1422.1 1040.7 L1423.7 1039.8 L1425.4 1039.4 L1427.1 1040.7 L1428.7 1037.3 L1430.0 1036.2 L1431.2 1034.5 L1432.5 1029.8 L1434.1 1033.9 L1435.8 1031.0 L1437.5 1034.8 L1439.0 1031.7 L1440.6 1024.6 L1442.2 1020.8 L1443.7 1017.3 L1445.4 1019.0 L1447.0 1024.9 L1448.7 1024.8 L1450.4 1025.0 L1452.0 1029.5 L1453.7 1032.3 L1455.0 1028.7 L1456.2 1031.6 L1457.5 1027.3 L1458.7 1018.1 L1460.0 1010.0 L1461.2 999.8 L1462.8 999.3 L1464.3 1000.0 L1465.9 997.1 L1467.4 997.3 L1469.1 998.6 L1470.8 1001.9 L1472.4 1002.3 L1474.1 1000.1 L1475.8 997.7 L1477.4 992.3 L1479.1 988.0 L1480.8 987.5 L1482.4 982.3 L1483.7 978.6 L1484.9 972.7 L1486.2 967.4 L1487.7 966.3 L1489.3 966.5 L1490.9 963.3 L1492.4 964.9 L1493.7 965.3 L1494.9 968.9 L1496.2 972.4 L1497.8 962.9 L1499.5 955.0 L1501.2 949.9 L1502.8 954.3 L1504.5 957.7 L1506.2 959.9 L1507.4 963.0 L1508.7 963.3 L1509.9 967.4 L1511.6 967.7 L1513.2 967.4 L1514.9 964.9 L1516.6 968.0 L1518.2 968.4 L1519.9 972.4 L1521.6 976.0 L1523.2 978.5 L1524.9 982.3 L1526.6 980.3 L1528.2 978.9 L1529.9 979.9 L1531.6 987.6 L1533.2 992.2 L1534.9 997.3 L1536.6 997.9 L1538.2 992.3 L1539.9 992.3 L1541.6 991.9 L1543.2 994.1 L1544.9 994.8 L1546.6 985.1 L1548.2 978.8 L1549.9 972.4 L1551.6 976.7 L1553.2 980.6 L1554.9 984.8 L1556.1 987.8 L1557.4 986.9 L1558.6 987.3 L1559.9 985.6 L1561.1 982.8 L1562.4 979.9 L1564.0 981.3 L1565.7 979.2 L1567.4 979.9 L1569.0 975.6 L1570.7 979.0 L1572.4 974.9 L1573.6 977.6 L1574.9 977.4 L1576.4 979.2 L1578.0 982.8 L1579.6 987.1 L1581.1 992.3 L1582.7 991.9 L1584.2 987.9 L1585.8 986.1 L1587.4 987.3 L1588.9 987.3 L1590.5 984.8 L1592.0 986.1 L1593.6 987.3 L1595.3 985.1 L1596.9 982.5 L1598.6 982.3 L1599.9 988.9 L1601.1 999.4 L1602.3 1009.8 L1603.6 1002.7 L1604.8 997.3 L1606.1 992.3 L1607.7 991.3 L1609.2 990.4 L1610.8 989.6 L1612.3 989.8 L1614.0 977.3 L1615.7 971.6 L1617.3 959.9 L1619.0 959.4 L1620.7 956.5 L1622.3 954.9 L1624.0 951.5 L1625.7 951.8 L1627.3 952.4 L1629.0 955.3 L1630.7 953.8 L1632.3 954.9 L1633.9 953.3 L1635.4 956.5 L1637.0 956.9 L1638.6 954.9 L1639.8 960.4 L1641.1 969.9 L1642.3 963.2 L1643.6 956.9 L1644.8 949.9 L1646.5 946.2 L1648.1 945.6 L1649.8 944.9 L1651.3 940.5 L1652.8 935.8 L1654.3 930.6 L1655.8 925.5 L1657.3 919.9 L1659.0 922.6 L1660.6 924.3 L1662.3 929.9 L1663.8 932.9 L1665.3 942.6 L1666.8 948.3 L1668.3 954.0 L1669.8 957.4 L1671.5 950.2 L1673.1 948.8 L1674.8 942.4 L1676.5 940.7 L1678.1 941.6 L1679.8 942.4 L1681.0 937.5 L1682.3 937.6 L1683.5 932.4 L1685.1 935.9 L1686.7 937.9 L1688.2 937.4 L1689.8 939.9 L1691.4 935.5 L1693.1 925.3 L1694.8 919.9 L1696.4 913.6 L1698.1 907.5 L1699.8 899.9 L1701.3 898.5 L1702.9 899.3 L1704.5 897.8 L1706.0 899.9 L1707.7 899.0 L1709.4 893.3 L1711.0 892.4 L1712.7 895.5 L1714.3 901.3 L1716.0 907.4 L1717.8 912.6 L1719.6 917.1 L1721.4 921.0 L1723.2 927.2 L1725.0 929.9 L1726.2 936.2 L1727.5 939.9 L1729.1 939.2 L1730.8 941.7 L1732.5 942.4 L1733.7 939.8 L1735.0 939.4 L1736.2 939.9 L1737.5 945.5 L1738.7 952.7 L1740.0 962.4 L1741.6 963.2 L1743.3 967.7 L1745.0 967.4 L1746.5 968.7 L1748.0 966.2 L1749.5 967.4 L1751.0 969.8 L1752.5 969.9 L1754.0 970.5 L1755.5 968.4 L1757.0 969.2 L1758.5 972.2 L1760.0 972.4 L1761.6 971.2 L1763.3 966.8 L1765.0 967.4 L1766.2 980.0 L1767.4 989.8 L1769.1 990.2 L1770.8 993.6 L1772.4 994.8 L1773.9 995.5 L1775.4 995.0 L1776.9 998.7 L1778.4 996.3 L1779.9 997.3 L1781.6 995.3 L1783.3 994.2 L1784.9 992.3 L1786.6 994.9 L1788.3 996.5 L1789.9 994.8 L1791.6 990.4 L1793.3 983.4 L1794.9 977.4 L1796.6 981.0 L1798.3 983.1 L1799.9 984.8 L1801.6 985.6 L1803.3 984.0 L1804.9 979.9 L1806.6 982.9 L1808.3 981.7 L1809.9 984.8 L1811.4 982.2 L1812.9 978.5 L1814.4 974.5 L1815.9 974.3 L1817.4 969.9 L1819.1 973.4 L1820.7 980.9 L1822.4 984.8 L1824.0 990.4 L1825.5 995.7 L1827.1 1002.8 L1828.7 1007.3 L1829.9 1001.8 L1831.2 996.6 L1832.4 987.3 L1834.1 987.4 L1835.7 983.9 L1837.4 979.9 L1839.1 982.0 L1840.7 987.4 L1842.4 989.8 L1844.1 988.2 L1845.7 988.8 L1847.4 984.8 L1848.9 983.1 L1850.4 981.1 L1851.9 977.9 L1853.4 978.7 L1854.9 977.4 L1856.5 975.9 L1858.2 973.0 L1859.9 972.4 L1861.5 972.8 L1863.2 977.3 L1864.9 979.9 L1866.5 975.1 L1868.2 973.1 L1869.9 972.4 L1871.5 971.2 L1873.2 969.9 L1874.9 969.9 L1876.5 968.2 L1878.2 966.7 L1879.9 964.9 L1881.5 961.0 L1883.2 956.3 L1884.9 954.9 L1886.5 950.7 L1888.2 951.8 L1889.9 949.9 L1891.4 952.8 L1892.9 949.7 L1894.4 950.6 L1895.9 950.9 L1897.4 952.4 L1899.0 952.0 L1900.7 949.0 L1902.3 947.4 L1904.0 946.4 L1905.7 939.8 L1907.3 939.9 L1909.0 934.6 L1910.7 931.7 L1912.3 929.9 L1913.9 927.3 L1915.5 925.6 L1917.0 923.7 L1918.6 922.4 L1920.1 926.7 L1921.7 925.8 L1923.3 928.4 L1924.8 929.9 L1926.5 934.0 L1928.2 934.0 L1929.8 934.9 L1931.5 932.0 L1933.2 929.9 L1934.8 924.9 L1936.5 922.4 L1938.2 919.1 L1939.8 919.9 L1941.5 923.9 L1943.2 923.4 L1944.8 924.9 L1946.5 923.7 L1948.1 919.3 L1949.8 919.9 L1951.5 917.8 L1953.1 912.6 L1954.8 909.9 L1956.1 895.7 L1957.3 879.9 L1958.6 866.3 L1959.8 854.9 L1961.5 847.1 L1963.1 834.3 L1964.8 825.0 L1966.1 822.6 L1967.3 824.5 L1968.5 821.2 L1969.8 821.0 L1971.0 822.5 L1972.3 825.0 L1974.0 829.9 L1975.6 837.5 L1977.3 840.0 L1978.5 849.2 L1979.8 862.4 L1981.0 872.2 L1982.3 884.9 L1983.5 894.0 L1984.8 899.9 L1986.0 898.5 L1987.3 901.1 L1988.5 902.4 L1989.8 917.6 L1991.0 929.9 L1992.3 931.8 L1993.5 933.1 L1994.8 932.4 L1996.4 932.1 L1998.1 937.7 L1999.8 937.4 L2001.4 941.6 L2003.1 949.0 L2004.8 952.4 L2006.4 950.6 L2008.1 951.1 L2009.8 947.4 L2011.4 946.4 L2013.1 944.4 L2014.8 944.9 L2016.4 948.9 L2018.1 956.5 L2019.8 962.4" fill="none" stroke="#000" stroke-width="3.5" stroke-linejoin="round" stroke-linecap="round"/>
<line x1="228.8" y1="292.6" x2="228.8" y2="877.6" stroke="#0000ff" stroke-width="5.5" stroke-dasharray="8.6 23.42"/>
<line x1="518.4" y1="203.1" x2="518.4" y2="1012.4" stroke="#0000ff" stroke-width="5.5" stroke-dasharray="8.6 23.4"/>
<line x1="599" y1="182" x2="599" y2="702" stroke="#0000ff" stroke-width="5.5" stroke-dasharray="8.6 23.4"/>
<line x1="1262.5" y1="252.6" x2="1262.5" y2="796.4" stroke="#0000ff" stroke-width="5.8" stroke-dasharray="10.0 23.3"/>
<line x1="1805.5" y1="270.4" x2="1805.5" y2="446.6" stroke="#0000ff" stroke-width="5.6" stroke-dasharray="10.0 23.3"/>
<line x1="1884.2" y1="300.8" x2="1884.2" y2="777.2" stroke="#0000ff" stroke-width="5.6" stroke-dasharray="10.0 23.29"/>
<line x1="1921.1" y1="668.5" x2="1921.1" y2="845.2" stroke="#0000ff" stroke-width="5.6" stroke-dasharray="10.0 23.3"/>
<text transform="translate(162.9 107.8) scale(1.0182 1.0106)" font-size="100" fill="#000" font-family="'Liberation Sans', Arial, sans-serif">(a)</text>
<text transform="translate(1166.4 111.1) scale(1.0018 0.9947)" font-size="100" fill="#000" font-family="'Liberation Sans', Arial, sans-serif">(b)</text>
<text transform="translate(25.4 1218.2) scale(0.6032 0.5915)" font-size="100" fill="#000" font-family="'Liberation Sans', Arial, sans-serif">200</text>
<text transform="translate(244 1218.2) scale(0.6031 0.5915)" font-size="100" fill="#000" font-family="'Liberation Sans', Arial, sans-serif">400</text>
<text transform="translate(461.4 1218.2) scale(0.6051 0.5915)" font-size="100" fill="#000" font-family="'Liberation Sans', Arial, sans-serif">600</text>
<text transform="translate(681.6 1218.2) scale(0.595 0.5915)" font-size="100" fill="#000" font-family="'Liberation Sans', Arial, sans-serif">800</text>
<text transform="translate(884.7 1218.2) scale(0.5905 0.5915)" font-size="100" fill="#000" font-family="'Liberation Sans', Arial, sans-serif">1000</text>
<text transform="translate(1043.7 1213.4) scale(0.6152 0.6408)" font-size="100" fill="#000" font-family="'Liberation Sans', Arial, sans-serif">1000</text>
<text transform="translate(1345.7 1213.3) scale(0.6176 0.6423)" font-size="100" fill="#000" font-family="'Liberation Sans', Arial, sans-serif">1200</text>
<text transform="translate(1649.3 1213.3) scale(0.6171 0.6423)" font-size="100" fill="#000" font-family="'Liberation Sans', Arial, sans-serif">1400</text>
<text transform="translate(1951.8 1213.3) scale(0.6171 0.6423)" font-size="100" fill="#000" font-family="'Liberation Sans', Arial, sans-serif">1600</text>
<text transform="translate(272.6 1325.8) scale(0.6017 0.5865)" font-size="100" fill="#000" font-family="'Liberation Sans', Arial, sans-serif">Raman Shift /cm</text>
<text transform="translate(715.5 1300) scale(0.35 0.4435)" font-size="100" fill="#000" font-family="'Liberation Sans', Arial, sans-serif">-1</text>
<text transform="translate(1315.9 1325.7) scale(0.6257 0.6324)" font-size="100" fill="#000" font-family="'Liberation Sans', Arial, sans-serif">Raman Shift /cm</text>
<text transform="translate(1776.4 1297.9) scale(0.3613 0.4507)" font-size="100" fill="#000" font-family="'Liberation Sans', Arial, sans-serif">-1</text>
<text transform="translate(2114.9 208.9) scale(0.4821 0.4551)" font-size="100" fill="#000" font-family="'Liberation Sans', Arial, sans-serif">-1.4 V</text>
<text transform="translate(2114.9 336) scale(0.4821 0.45)" font-size="100" fill="#000" font-family="'Liberation Sans', Arial, sans-serif">-1.2 V</text>
<text transform="translate(2120.1 460.2) scale(0.4866 0.4521)" font-size="100" fill="#000" font-family="'Liberation Sans', Arial, sans-serif">-1.0 V</text>
<text transform="translate(2120.1 557.3) scale(0.4836 0.4634)" font-size="100" fill="#000" font-family="'Liberation Sans', Arial, sans-serif">-0.8 V</text>
<text transform="translate(2120.9 625.8) scale(0.4836 0.4648)" font-size="100" fill="#000" font-family="'Liberation Sans', Arial, sans-serif">-0.6 V</text>
<text transform="translate(2119.3 710.1) scale(0.4847 0.4648)" font-size="100" fill="#000" font-family="'Liberation Sans', Arial, sans-serif">-0.4 V</text>
<text transform="translate(2116.5 810.1) scale(0.4821 0.4648)" font-size="100" fill="#000" font-family="'Liberation Sans', Arial, sans-serif">-0.2 V</text>
<text transform="translate(2124.4 893.5) scale(0.4877 0.4789)" font-size="100" fill="#000" font-family="'Liberation Sans', Arial, sans-serif">0 V</text>
<text transform="translate(2122.7 961) scale(0.5 0.4547)" font-size="100" fill="#000" font-family="'Liberation Sans', Arial, sans-serif">ocp</text>
<text transform="translate(115.6 287.2) scale(0.5139 0.5169)" font-size="100" fill="#0000ff" font-family="'Liberation Sans', Arial, sans-serif">342</text>
<text transform="translate(421.7 197.3) scale(0.514 0.5183)" font-size="100" fill="#0000ff" font-family="'Liberation Sans', Arial, sans-serif">607</text>
<text transform="translate(550.9 157.9) scale(0.5191 0.5085)" font-size="100" fill="#0000ff" font-family="'Liberation Sans', Arial, sans-serif">678</text>
<text transform="translate(1158.8 233.5) scale(0.5433 0.5592)" font-size="100" fill="#0000ff" font-family="'Liberation Sans', Arial, sans-serif">1100</text>
<text transform="translate(1828.8 268.1) scale(0.5338 0.5507)" font-size="100" fill="#0000ff" font-family="'Liberation Sans', Arial, sans-serif">1509</text>
<text transform="translate(1763.1 563) scale(0.5321 0.5529)" font-size="100" fill="#0000ff" font-family="'Liberation Sans', Arial, sans-serif">1457</text>
<text transform="translate(1891.2 987.1) scale(0.527 0.5535)" font-size="100" fill="#0000ff" font-family="'Liberation Sans', Arial, sans-serif">1534</text>
</svg>
</body></html>
